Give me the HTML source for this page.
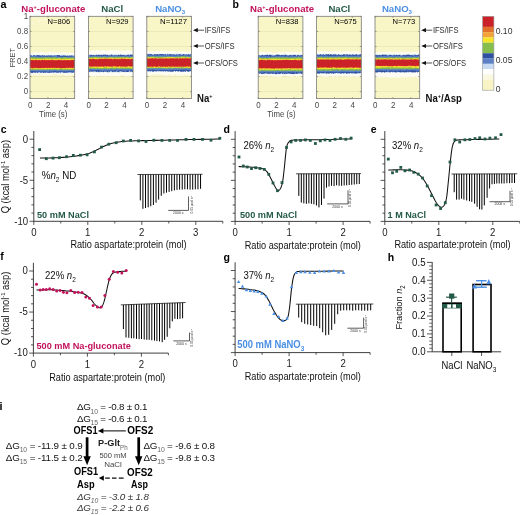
<!DOCTYPE html>
<html><head><meta charset="utf-8"><style>
html,body{margin:0;padding:0;background:#fff;width:520px;height:515px;overflow:hidden}
svg{display:block;font-family:"Liberation Sans", sans-serif;will-change:transform}
</style></head><body>
<svg width="520" height="515" viewBox="0 0 520 515">
<rect width="520" height="515" fill="#fff"/>
<text x="0.50" y="7.60" font-size="10.8" fill="#000" font-weight="bold">a</text>
<text x="232.60" y="8.20" font-size="10.5" fill="#000" font-weight="bold">b</text>
<text x="0.80" y="133.00" font-size="10.5" fill="#000" font-weight="bold">c</text>
<text x="223.40" y="133.30" font-size="10.5" fill="#000" font-weight="bold">d</text>
<text x="370.80" y="133.30" font-size="10.5" fill="#000" font-weight="bold">e</text>
<text x="0.30" y="260.20" font-size="10.5" fill="#000" font-weight="bold">f</text>
<text x="223.40" y="260.80" font-size="10.5" fill="#000" font-weight="bold">g</text>
<text x="387.80" y="260.80" font-size="10.5" fill="#000" font-weight="bold">h</text>
<text x="-0.60" y="409.80" font-size="10.8" fill="#000" font-weight="bold">i</text>
<rect x="30.00" y="16.30" width="44.70" height="82.30" fill="#F8F6C7" stroke="none" stroke-width="0"/>
<line x1="30.00" y1="91.60" x2="74.70" y2="91.60" stroke="#E6DFAE" stroke-width="0.6"/>
<line x1="30.00" y1="76.56" x2="74.70" y2="76.56" stroke="#E6DFAE" stroke-width="0.6"/>
<line x1="30.00" y1="61.52" x2="74.70" y2="61.52" stroke="#E6DFAE" stroke-width="0.6"/>
<line x1="30.00" y1="46.48" x2="74.70" y2="46.48" stroke="#E6DFAE" stroke-width="0.6"/>
<line x1="30.00" y1="31.44" x2="74.70" y2="31.44" stroke="#E6DFAE" stroke-width="0.6"/>
<clipPath id="cp100"><rect x="30.00" y="16.3" width="44.7" height="82.3"/></clipPath>
<g clip-path="url(#cp100)">
<path d="M30.0,51.7 L30.7,52.3 L31.3,52.9 L32.0,52.8 L32.7,52.9 L33.3,52.3 L34.0,53.0 L34.7,52.5 L35.3,51.6 L36.0,52.3 L36.7,51.5 L37.3,53.3 L38.0,53.3 L38.7,52.1 L39.3,52.0 L40.0,52.9 L40.7,51.8 L41.3,51.8 L42.0,51.8 L42.7,52.1 L43.3,52.7 L44.0,53.3 L44.7,51.8 L45.3,53.3 L46.0,52.5 L46.7,53.2 L47.3,53.0 L48.0,51.7 L48.7,52.7 L49.3,51.6 L50.0,51.4 L50.7,52.2 L51.3,52.9 L52.0,52.5 L52.7,51.8 L53.4,53.1 L54.0,53.2 L54.7,51.9 L55.4,52.3 L56.0,52.7 L56.7,53.2 L57.4,51.7 L58.0,52.5 L58.7,53.3 L59.4,52.6 L60.0,52.8 L60.7,52.9 L61.4,52.4 L62.0,52.0 L62.7,52.6 L63.4,52.5 L64.0,52.1 L64.7,53.1 L65.4,52.1 L66.0,52.4 L66.7,52.9 L67.4,53.0 L68.0,53.2 L68.7,52.7 L69.4,51.9 L70.0,53.1 L70.7,53.2 L71.4,52.8 L72.0,52.9 L72.7,52.4 L73.4,52.4 L74.0,52.6 L74.7,51.7 L74.7,75.1 L74.0,76.0 L73.4,75.9 L72.7,74.6 L72.0,74.5 L71.4,74.5 L70.7,74.8 L70.0,76.0 L69.4,74.4 L68.7,75.4 L68.0,74.5 L67.4,74.8 L66.7,76.0 L66.0,75.2 L65.4,75.9 L64.7,74.8 L64.0,74.4 L63.4,74.3 L62.7,74.5 L62.0,75.2 L61.4,74.4 L60.7,74.9 L60.0,74.7 L59.4,74.9 L58.7,75.1 L58.0,74.8 L57.4,75.9 L56.7,74.1 L56.0,74.2 L55.4,75.3 L54.7,74.3 L54.0,74.2 L53.4,74.5 L52.7,74.4 L52.0,74.1 L51.3,75.7 L50.7,75.6 L50.0,74.3 L49.3,75.4 L48.7,75.1 L48.0,75.0 L47.3,75.3 L46.7,75.2 L46.0,75.4 L45.3,74.8 L44.7,75.9 L44.0,74.8 L43.3,74.4 L42.7,75.4 L42.0,75.1 L41.3,74.4 L40.7,74.2 L40.0,74.0 L39.3,74.7 L38.7,75.1 L38.0,75.5 L37.3,75.3 L36.7,75.2 L36.0,74.6 L35.3,74.4 L34.7,75.2 L34.0,74.1 L33.3,74.2 L32.7,75.4 L32.0,75.5 L31.3,74.3 L30.7,75.7 L30.0,75.4 Z" fill="#FFFFFF" stroke="none" stroke-width="0" fill-opacity="0.8"/>
<path d="M30.0,54.8 L30.7,54.6 L31.3,54.6 L32.0,54.8 L32.7,55.2 L33.3,55.2 L34.0,55.4 L34.7,55.4 L35.3,54.9 L36.0,55.2 L36.7,55.0 L37.3,55.3 L38.0,54.7 L38.7,55.5 L39.3,54.6 L40.0,55.2 L40.7,54.9 L41.3,55.4 L42.0,54.7 L42.7,55.4 L43.3,54.6 L44.0,55.3 L44.7,55.3 L45.3,55.1 L46.0,54.7 L46.7,54.9 L47.3,55.0 L48.0,54.8 L48.7,54.7 L49.3,55.4 L50.0,55.1 L50.7,54.8 L51.3,55.2 L52.0,55.2 L52.7,54.7 L53.4,55.1 L54.0,55.1 L54.7,54.7 L55.4,54.9 L56.0,55.4 L56.7,55.1 L57.4,54.8 L58.0,54.9 L58.7,55.0 L59.4,55.3 L60.0,55.4 L60.7,54.6 L61.4,54.6 L62.0,55.0 L62.7,54.6 L63.4,54.7 L64.0,54.7 L64.7,54.6 L65.4,55.2 L66.0,54.6 L66.7,55.1 L67.4,55.5 L68.0,54.7 L68.7,55.3 L69.4,55.1 L70.0,54.7 L70.7,55.5 L71.4,55.3 L72.0,54.9 L72.7,55.4 L73.4,54.7 L74.0,55.4 L74.7,55.4 L74.7,72.6 L74.0,72.6 L73.4,72.8 L72.7,72.9 L72.0,72.9 L71.4,72.5 L70.7,73.4 L70.0,73.0 L69.4,72.5 L68.7,73.3 L68.0,73.2 L67.4,72.6 L66.7,73.4 L66.0,72.5 L65.4,73.2 L64.7,72.9 L64.0,73.1 L63.4,72.7 L62.7,72.7 L62.0,72.8 L61.4,72.5 L60.7,73.2 L60.0,73.4 L59.4,73.1 L58.7,73.2 L58.0,72.8 L57.4,72.5 L56.7,72.6 L56.0,73.4 L55.4,73.1 L54.7,73.3 L54.0,72.8 L53.4,72.8 L52.7,72.6 L52.0,73.3 L51.3,72.7 L50.7,72.5 L50.0,73.4 L49.3,72.7 L48.7,73.0 L48.0,72.5 L47.3,73.1 L46.7,73.2 L46.0,73.4 L45.3,73.0 L44.7,72.5 L44.0,73.0 L43.3,73.3 L42.7,73.4 L42.0,72.5 L41.3,72.7 L40.7,73.0 L40.0,72.9 L39.3,72.5 L38.7,73.1 L38.0,72.6 L37.3,73.0 L36.7,73.0 L36.0,72.5 L35.3,72.5 L34.7,72.8 L34.0,73.2 L33.3,73.2 L32.7,72.7 L32.0,73.4 L31.3,73.2 L30.7,73.4 L30.0,72.6 Z" fill="#C9DBF2" stroke="none" stroke-width="0"/>
<path d="M30.0,55.2 L30.7,55.2 L31.3,55.3 L32.0,56.0 L32.7,56.0 L33.3,55.2 L34.0,54.9 L34.7,55.2 L35.3,55.9 L36.0,55.1 L36.7,55.7 L37.3,55.0 L38.0,55.3 L38.7,55.1 L39.3,55.6 L40.0,55.3 L40.7,55.8 L41.3,55.5 L42.0,55.4 L42.7,54.9 L43.3,55.9 L44.0,54.9 L44.7,55.5 L45.3,56.1 L46.0,55.8 L46.7,55.3 L47.3,56.0 L48.0,55.2 L48.7,55.6 L49.3,55.6 L50.0,55.8 L50.7,55.2 L51.3,55.4 L52.0,55.3 L52.7,56.0 L53.4,55.8 L54.0,55.3 L54.7,55.8 L55.4,55.6 L56.0,55.2 L56.7,55.5 L57.4,55.0 L58.0,55.2 L58.7,55.0 L59.4,55.0 L60.0,55.6 L60.7,55.9 L61.4,55.9 L62.0,55.2 L62.7,56.0 L63.4,55.3 L64.0,55.7 L64.7,55.6 L65.4,55.5 L66.0,55.7 L66.7,56.0 L67.4,55.7 L68.0,55.5 L68.7,55.9 L69.4,55.8 L70.0,55.3 L70.7,56.1 L71.4,55.4 L72.0,54.9 L72.7,56.1 L73.4,56.0 L74.0,55.5 L74.7,55.8 L74.7,72.6 L74.0,72.0 L73.4,72.7 L72.7,72.8 L72.0,72.4 L71.4,72.4 L70.7,72.5 L70.0,72.3 L69.4,72.1 L68.7,72.5 L68.0,72.2 L67.4,72.8 L66.7,72.9 L66.0,72.1 L65.4,73.0 L64.7,72.8 L64.0,73.0 L63.4,72.7 L62.7,72.0 L62.0,72.4 L61.4,71.9 L60.7,72.4 L60.0,72.7 L59.4,72.1 L58.7,72.5 L58.0,72.9 L57.4,72.5 L56.7,72.7 L56.0,72.4 L55.4,72.1 L54.7,72.2 L54.0,72.8 L53.4,72.4 L52.7,72.4 L52.0,71.9 L51.3,73.1 L50.7,72.4 L50.0,72.7 L49.3,72.8 L48.7,72.8 L48.0,72.9 L47.3,72.6 L46.7,72.1 L46.0,73.1 L45.3,72.4 L44.7,72.5 L44.0,73.1 L43.3,72.8 L42.7,72.3 L42.0,72.5 L41.3,72.7 L40.7,72.7 L40.0,72.5 L39.3,72.0 L38.7,72.1 L38.0,73.0 L37.3,72.7 L36.7,72.0 L36.0,72.9 L35.3,72.6 L34.7,72.8 L34.0,72.2 L33.3,72.5 L32.7,73.1 L32.0,72.7 L31.3,72.9 L30.7,72.0 L30.0,72.7 Z" fill="#2F4FA0" stroke="none" stroke-width="0"/>
<path d="M30.0,56.7 L30.7,55.9 L31.3,56.6 L32.0,55.9 L32.7,56.3 L33.3,56.3 L34.0,55.9 L34.7,56.0 L35.3,56.6 L36.0,56.2 L36.7,56.4 L37.3,56.1 L38.0,56.5 L38.7,56.8 L39.3,56.7 L40.0,56.3 L40.7,56.9 L41.3,56.3 L42.0,56.2 L42.7,56.3 L43.3,56.9 L44.0,56.3 L44.7,56.2 L45.3,56.4 L46.0,56.5 L46.7,56.7 L47.3,56.6 L48.0,56.6 L48.7,56.3 L49.3,56.3 L50.0,56.9 L50.7,56.4 L51.3,56.7 L52.0,56.3 L52.7,55.9 L53.4,56.3 L54.0,56.4 L54.7,56.3 L55.4,56.1 L56.0,56.1 L56.7,55.9 L57.4,56.6 L58.0,56.4 L58.7,56.7 L59.4,56.8 L60.0,56.7 L60.7,56.7 L61.4,56.8 L62.0,56.8 L62.7,56.7 L63.4,56.8 L64.0,56.2 L64.7,56.9 L65.4,56.8 L66.0,56.7 L66.7,56.7 L67.4,56.6 L68.0,56.5 L68.7,56.4 L69.4,56.8 L70.0,56.2 L70.7,56.5 L71.4,56.8 L72.0,56.2 L72.7,56.1 L73.4,56.2 L74.0,56.3 L74.7,56.4 L74.7,71.7 L74.0,71.8 L73.4,71.0 L72.7,71.7 L72.0,71.0 L71.4,71.4 L70.7,71.4 L70.0,70.9 L69.4,70.9 L68.7,71.6 L68.0,71.4 L67.4,71.6 L66.7,70.9 L66.0,71.8 L65.4,71.7 L64.7,70.9 L64.0,71.4 L63.4,71.4 L62.7,71.5 L62.0,71.3 L61.4,71.5 L60.7,71.2 L60.0,71.3 L59.4,71.2 L58.7,71.5 L58.0,71.3 L57.4,71.4 L56.7,71.6 L56.0,70.9 L55.4,71.1 L54.7,71.3 L54.0,71.0 L53.4,71.0 L52.7,71.7 L52.0,71.5 L51.3,71.3 L50.7,71.9 L50.0,71.2 L49.3,71.2 L48.7,71.9 L48.0,71.6 L47.3,71.9 L46.7,71.6 L46.0,71.6 L45.3,71.3 L44.7,71.2 L44.0,71.4 L43.3,71.4 L42.7,71.5 L42.0,71.7 L41.3,71.2 L40.7,71.5 L40.0,71.5 L39.3,71.4 L38.7,71.2 L38.0,71.8 L37.3,71.2 L36.7,71.9 L36.0,71.1 L35.3,71.5 L34.7,71.5 L34.0,71.0 L33.3,71.2 L32.7,71.0 L32.0,71.3 L31.3,71.0 L30.7,71.1 L30.0,71.1 Z" fill="#5B80C6" stroke="none" stroke-width="0"/>
<path d="M30.0,57.7 L30.7,57.9 L31.3,57.3 L32.0,57.6 L32.7,57.0 L33.3,57.8 L34.0,57.2 L34.7,57.1 L35.3,57.8 L36.0,57.1 L36.7,57.6 L37.3,58.0 L38.0,57.5 L38.7,57.5 L39.3,57.8 L40.0,57.7 L40.7,57.5 L41.3,57.1 L42.0,58.0 L42.7,57.7 L43.3,57.5 L44.0,57.7 L44.7,57.3 L45.3,57.2 L46.0,57.0 L46.7,57.4 L47.3,57.6 L48.0,57.1 L48.7,57.2 L49.3,57.4 L50.0,57.0 L50.7,57.8 L51.3,57.2 L52.0,57.9 L52.7,57.6 L53.4,57.3 L54.0,57.1 L54.7,57.6 L55.4,57.1 L56.0,57.3 L56.7,58.0 L57.4,57.8 L58.0,57.7 L58.7,57.6 L59.4,57.6 L60.0,57.7 L60.7,57.9 L61.4,57.1 L62.0,57.9 L62.7,58.0 L63.4,57.6 L64.0,57.3 L64.7,57.1 L65.4,57.3 L66.0,57.0 L66.7,57.7 L67.4,57.6 L68.0,57.7 L68.7,57.9 L69.4,57.3 L70.0,57.7 L70.7,57.7 L71.4,57.6 L72.0,57.1 L72.7,57.9 L73.4,57.6 L74.0,57.5 L74.7,57.9 L74.7,69.6 L74.0,69.7 L73.4,70.1 L72.7,69.9 L72.0,70.2 L71.4,69.8 L70.7,70.1 L70.0,70.4 L69.4,70.0 L68.7,70.2 L68.0,69.5 L67.4,69.6 L66.7,70.4 L66.0,69.9 L65.4,69.8 L64.7,70.4 L64.0,70.0 L63.4,70.0 L62.7,70.4 L62.0,70.1 L61.4,69.7 L60.7,69.8 L60.0,70.0 L59.4,70.2 L58.7,69.7 L58.0,70.5 L57.4,70.0 L56.7,70.5 L56.0,69.7 L55.4,69.9 L54.7,69.6 L54.0,70.2 L53.4,70.2 L52.7,70.1 L52.0,69.9 L51.3,69.9 L50.7,69.9 L50.0,69.7 L49.3,70.3 L48.7,69.5 L48.0,70.5 L47.3,69.6 L46.7,69.9 L46.0,70.2 L45.3,70.2 L44.7,69.9 L44.0,70.3 L43.3,69.7 L42.7,70.0 L42.0,69.8 L41.3,70.4 L40.7,69.9 L40.0,70.1 L39.3,69.7 L38.7,69.5 L38.0,70.3 L37.3,69.7 L36.7,70.0 L36.0,70.2 L35.3,70.1 L34.7,70.3 L34.0,70.3 L33.3,70.1 L32.7,70.0 L32.0,70.2 L31.3,70.2 L30.7,69.5 L30.0,69.6 Z" fill="#86BD4C" stroke="none" stroke-width="0"/>
<path d="M30.0,59.2 L30.7,59.1 L31.3,58.5 L32.0,58.4 L32.7,59.1 L33.3,59.0 L34.0,58.7 L34.7,59.1 L35.3,59.1 L36.0,59.1 L36.7,59.2 L37.3,59.1 L38.0,58.3 L38.7,58.9 L39.3,58.4 L40.0,59.2 L40.7,59.1 L41.3,58.9 L42.0,58.7 L42.7,59.0 L43.3,58.6 L44.0,59.0 L44.7,59.3 L45.3,58.3 L46.0,58.7 L46.7,59.1 L47.3,58.5 L48.0,58.7 L48.7,59.1 L49.3,58.9 L50.0,58.6 L50.7,58.7 L51.3,58.7 L52.0,58.8 L52.7,59.3 L53.4,58.5 L54.0,58.6 L54.7,59.2 L55.4,58.8 L56.0,58.9 L56.7,59.2 L57.4,58.4 L58.0,58.5 L58.7,58.4 L59.4,58.5 L60.0,58.4 L60.7,58.5 L61.4,59.2 L62.0,59.2 L62.7,59.0 L63.4,58.8 L64.0,59.0 L64.7,59.3 L65.4,58.6 L66.0,59.0 L66.7,58.4 L67.4,58.7 L68.0,58.8 L68.7,58.9 L69.4,58.5 L70.0,58.7 L70.7,58.5 L71.4,58.7 L72.0,59.1 L72.7,58.5 L73.4,58.6 L74.0,58.9 L74.7,58.5 L74.7,69.0 L74.0,68.7 L73.4,68.5 L72.7,69.2 L72.0,68.9 L71.4,69.0 L70.7,69.1 L70.0,69.2 L69.4,69.1 L68.7,69.4 L68.0,68.5 L67.4,69.0 L66.7,69.3 L66.0,69.4 L65.4,68.5 L64.7,68.7 L64.0,68.7 L63.4,69.3 L62.7,68.9 L62.0,68.6 L61.4,68.6 L60.7,69.0 L60.0,68.6 L59.4,68.7 L58.7,69.0 L58.0,69.4 L57.4,69.0 L56.7,69.0 L56.0,68.6 L55.4,68.8 L54.7,68.7 L54.0,68.7 L53.4,69.3 L52.7,69.0 L52.0,68.9 L51.3,69.2 L50.7,69.1 L50.0,68.9 L49.3,68.6 L48.7,69.2 L48.0,69.3 L47.3,69.1 L46.7,69.2 L46.0,69.0 L45.3,69.2 L44.7,69.1 L44.0,69.2 L43.3,69.0 L42.7,69.0 L42.0,69.0 L41.3,69.4 L40.7,68.5 L40.0,68.6 L39.3,69.4 L38.7,68.9 L38.0,69.2 L37.3,69.3 L36.7,69.3 L36.0,68.5 L35.3,68.6 L34.7,68.9 L34.0,68.9 L33.3,68.9 L32.7,68.9 L32.0,68.8 L31.3,68.8 L30.7,68.8 L30.0,69.3 Z" fill="#F6E52B" stroke="none" stroke-width="0"/>
<path d="M30.0,59.7 L30.7,59.8 L31.3,59.8 L32.0,59.4 L32.7,59.5 L33.3,59.4 L34.0,59.9 L34.7,59.9 L35.3,59.4 L36.0,59.5 L36.7,59.6 L37.3,60.0 L38.0,59.9 L38.7,59.5 L39.3,59.7 L40.0,59.8 L40.7,60.0 L41.3,59.5 L42.0,59.5 L42.7,60.0 L43.3,59.9 L44.0,59.6 L44.7,59.5 L45.3,59.7 L46.0,59.4 L46.7,59.8 L47.3,60.0 L48.0,59.5 L48.7,60.1 L49.3,60.0 L50.0,59.4 L50.7,60.0 L51.3,60.0 L52.0,59.8 L52.7,59.5 L53.4,59.7 L54.0,60.1 L54.7,59.8 L55.4,60.1 L56.0,60.0 L56.7,59.8 L57.4,60.0 L58.0,59.7 L58.7,59.5 L59.4,59.8 L60.0,59.5 L60.7,59.6 L61.4,59.4 L62.0,59.8 L62.7,60.0 L63.4,60.1 L64.0,60.0 L64.7,59.9 L65.4,60.0 L66.0,59.5 L66.7,59.8 L67.4,60.1 L68.0,59.9 L68.7,59.7 L69.4,59.9 L70.0,60.1 L70.7,59.7 L71.4,59.5 L72.0,59.6 L72.7,59.9 L73.4,59.5 L74.0,59.5 L74.7,60.1 L74.7,67.9 L74.0,68.5 L73.4,68.1 L72.7,68.6 L72.0,68.3 L71.4,68.4 L70.7,68.1 L70.0,68.6 L69.4,68.3 L68.7,68.1 L68.0,68.3 L67.4,68.5 L66.7,68.3 L66.0,67.9 L65.4,68.4 L64.7,68.1 L64.0,68.6 L63.4,68.0 L62.7,68.4 L62.0,68.2 L61.4,67.9 L60.7,68.1 L60.0,68.6 L59.4,68.3 L58.7,68.3 L58.0,67.9 L57.4,68.1 L56.7,68.0 L56.0,68.2 L55.4,68.0 L54.7,68.3 L54.0,68.0 L53.4,68.2 L52.7,68.2 L52.0,67.9 L51.3,68.2 L50.7,68.3 L50.0,68.4 L49.3,68.1 L48.7,68.1 L48.0,67.9 L47.3,68.3 L46.7,68.4 L46.0,68.1 L45.3,68.0 L44.7,68.5 L44.0,67.9 L43.3,68.6 L42.7,68.1 L42.0,68.1 L41.3,67.9 L40.7,68.2 L40.0,68.4 L39.3,68.2 L38.7,68.4 L38.0,68.0 L37.3,68.5 L36.7,67.9 L36.0,68.4 L35.3,68.1 L34.7,68.4 L34.0,68.0 L33.3,68.6 L32.7,68.6 L32.0,68.4 L31.3,68.5 L30.7,67.9 L30.0,67.9 Z" fill="#F2A43A" stroke="none" stroke-width="0"/>
<path d="M30.0,60.5 L30.7,59.7 L31.3,60.0 L32.0,59.9 L32.7,59.9 L33.3,60.4 L34.0,59.9 L34.7,60.2 L35.3,60.2 L36.0,59.7 L36.7,60.3 L37.3,60.5 L38.0,60.1 L38.7,59.9 L39.3,59.9 L40.0,60.2 L40.7,60.5 L41.3,60.3 L42.0,59.9 L42.7,59.8 L43.3,60.3 L44.0,60.1 L44.7,60.0 L45.3,60.4 L46.0,59.9 L46.7,60.3 L47.3,60.3 L48.0,60.3 L48.7,59.9 L49.3,60.1 L50.0,60.4 L50.7,59.9 L51.3,59.8 L52.0,59.7 L52.7,60.2 L53.4,60.1 L54.0,60.3 L54.7,60.4 L55.4,60.2 L56.0,60.0 L56.7,60.4 L57.4,60.3 L58.0,59.7 L58.7,59.9 L59.4,60.2 L60.0,59.9 L60.7,60.5 L61.4,59.7 L62.0,60.4 L62.7,60.4 L63.4,60.0 L64.0,60.0 L64.7,60.2 L65.4,59.9 L66.0,60.5 L66.7,60.2 L67.4,60.1 L68.0,59.9 L68.7,60.2 L69.4,60.2 L70.0,60.3 L70.7,60.3 L71.4,60.3 L72.0,59.8 L72.7,60.1 L73.4,60.0 L74.0,60.3 L74.7,59.9 L74.7,68.1 L74.0,67.5 L73.4,67.7 L72.7,68.2 L72.0,67.6 L71.4,67.8 L70.7,67.7 L70.0,68.0 L69.4,67.5 L68.7,68.0 L68.0,67.7 L67.4,67.8 L66.7,67.8 L66.0,67.7 L65.4,68.2 L64.7,68.0 L64.0,68.0 L63.4,68.1 L62.7,68.3 L62.0,67.9 L61.4,67.9 L60.7,68.3 L60.0,68.3 L59.4,68.1 L58.7,67.6 L58.0,68.0 L57.4,68.0 L56.7,67.9 L56.0,68.3 L55.4,67.6 L54.7,67.9 L54.0,67.8 L53.4,67.8 L52.7,68.1 L52.0,68.1 L51.3,67.5 L50.7,68.1 L50.0,67.8 L49.3,68.2 L48.7,67.6 L48.0,68.1 L47.3,68.2 L46.7,67.5 L46.0,68.1 L45.3,67.8 L44.7,67.9 L44.0,68.0 L43.3,67.7 L42.7,68.3 L42.0,68.0 L41.3,68.1 L40.7,68.1 L40.0,68.1 L39.3,68.0 L38.7,68.3 L38.0,68.2 L37.3,67.8 L36.7,67.9 L36.0,68.0 L35.3,67.5 L34.7,67.9 L34.0,67.8 L33.3,68.3 L32.7,68.2 L32.0,68.3 L31.3,67.8 L30.7,67.7 L30.0,67.8 Z" fill="#CB2229" stroke="none" stroke-width="0"/>
</g>
<line x1="30.00" y1="91.60" x2="31.50" y2="91.60" stroke="#666" stroke-width="0.6"/>
<line x1="73.20" y1="91.60" x2="74.70" y2="91.60" stroke="#666" stroke-width="0.6"/>
<line x1="30.00" y1="76.56" x2="31.50" y2="76.56" stroke="#666" stroke-width="0.6"/>
<line x1="73.20" y1="76.56" x2="74.70" y2="76.56" stroke="#666" stroke-width="0.6"/>
<line x1="30.00" y1="61.52" x2="31.50" y2="61.52" stroke="#666" stroke-width="0.6"/>
<line x1="73.20" y1="61.52" x2="74.70" y2="61.52" stroke="#666" stroke-width="0.6"/>
<line x1="30.00" y1="46.48" x2="31.50" y2="46.48" stroke="#666" stroke-width="0.6"/>
<line x1="73.20" y1="46.48" x2="74.70" y2="46.48" stroke="#666" stroke-width="0.6"/>
<line x1="30.00" y1="31.44" x2="31.50" y2="31.44" stroke="#666" stroke-width="0.6"/>
<line x1="73.20" y1="31.44" x2="74.70" y2="31.44" stroke="#666" stroke-width="0.6"/>
<line x1="30.00" y1="16.40" x2="31.50" y2="16.40" stroke="#666" stroke-width="0.6"/>
<line x1="73.20" y1="16.40" x2="74.70" y2="16.40" stroke="#666" stroke-width="0.6"/>
<line x1="30.00" y1="98.60" x2="30.00" y2="97.10" stroke="#666" stroke-width="0.6"/>
<line x1="30.00" y1="16.30" x2="30.00" y2="17.80" stroke="#666" stroke-width="0.6"/>
<line x1="47.90" y1="98.60" x2="47.90" y2="97.10" stroke="#666" stroke-width="0.6"/>
<line x1="47.90" y1="16.30" x2="47.90" y2="17.80" stroke="#666" stroke-width="0.6"/>
<line x1="65.80" y1="98.60" x2="65.80" y2="97.10" stroke="#666" stroke-width="0.6"/>
<line x1="65.80" y1="16.30" x2="65.80" y2="17.80" stroke="#666" stroke-width="0.6"/>
<rect x="30.00" y="16.30" width="44.70" height="82.30" fill="none" stroke="#7A7A7A" stroke-width="0.8"/>
<path d="M31.5,22.3 L35.0,24.8 M37.0,22.3 L41.0,19.8 M43.0,21.8 L46.0,18.3" fill="none" stroke="#FFFFFF" stroke-width="0.9" stroke-opacity="0.7"/>
<text x="53.35" y="11.70" font-size="9.6" fill="#C2125C" font-weight="bold" text-anchor="middle">Na<tspan font-size="5.5" dy="-3.2">+</tspan><tspan dy="3.2">-gluconate</tspan></text>
<text x="70.20" y="24.20" font-size="8.0" fill="#000" text-anchor="end" textLength="22.60" lengthAdjust="spacingAndGlyphs">N=806</text>
<text x="30.30" y="108.20" font-size="8.0" fill="#484848" text-anchor="middle" transform="translate(0 -8.656) scale(1 1.08)">0</text>
<text x="48.20" y="108.20" font-size="8.0" fill="#484848" text-anchor="middle" transform="translate(0 -8.656) scale(1 1.08)">2</text>
<text x="66.10" y="108.20" font-size="8.0" fill="#484848" text-anchor="middle" transform="translate(0 -8.656) scale(1 1.08)">4</text>
<rect x="88.40" y="16.30" width="44.70" height="82.30" fill="#F8F6C7" stroke="none" stroke-width="0"/>
<line x1="88.40" y1="91.60" x2="133.10" y2="91.60" stroke="#E6DFAE" stroke-width="0.6"/>
<line x1="88.40" y1="76.56" x2="133.10" y2="76.56" stroke="#E6DFAE" stroke-width="0.6"/>
<line x1="88.40" y1="61.52" x2="133.10" y2="61.52" stroke="#E6DFAE" stroke-width="0.6"/>
<line x1="88.40" y1="46.48" x2="133.10" y2="46.48" stroke="#E6DFAE" stroke-width="0.6"/>
<line x1="88.40" y1="31.44" x2="133.10" y2="31.44" stroke="#E6DFAE" stroke-width="0.6"/>
<clipPath id="cp101"><rect x="88.40" y="16.3" width="44.7" height="82.3"/></clipPath>
<g clip-path="url(#cp101)">
<path d="M88.4,50.7 L89.1,49.9 L89.7,51.4 L90.4,51.3 L91.1,50.4 L91.7,50.8 L92.4,49.9 L93.1,49.9 L93.7,50.1 L94.4,50.9 L95.1,49.9 L95.7,51.4 L96.4,49.6 L97.1,49.9 L97.7,49.7 L98.4,51.0 L99.1,50.2 L99.7,50.4 L100.4,50.2 L101.1,50.8 L101.7,50.3 L102.4,49.9 L103.1,50.4 L103.7,50.1 L104.4,49.7 L105.1,51.1 L105.7,50.9 L106.4,50.8 L107.1,51.3 L107.7,50.3 L108.4,50.3 L109.1,50.3 L109.7,50.3 L110.4,50.8 L111.1,49.5 L111.8,50.4 L112.4,50.6 L113.1,50.2 L113.8,49.5 L114.4,50.9 L115.1,49.5 L115.8,50.6 L116.4,49.8 L117.1,49.6 L117.8,49.9 L118.4,49.6 L119.1,49.8 L119.8,50.9 L120.4,51.0 L121.1,50.2 L121.8,50.8 L122.4,50.5 L123.1,50.5 L123.8,51.3 L124.4,50.1 L125.1,51.2 L125.8,50.9 L126.4,50.9 L127.1,49.5 L127.8,49.7 L128.4,49.6 L129.1,50.2 L129.8,51.4 L130.4,51.3 L131.1,51.2 L131.8,49.7 L132.4,50.9 L133.1,51.0 L133.1,75.5 L132.4,76.5 L131.8,76.4 L131.1,75.6 L130.4,76.1 L129.8,75.3 L129.1,76.1 L128.4,76.3 L127.8,75.7 L127.1,76.4 L126.4,76.4 L125.8,76.3 L125.1,75.9 L124.4,75.7 L123.8,75.7 L123.1,75.2 L122.4,75.3 L121.8,75.1 L121.1,75.4 L120.4,75.1 L119.8,75.8 L119.1,76.8 L118.4,76.4 L117.8,75.6 L117.1,76.9 L116.4,75.7 L115.8,76.1 L115.1,76.1 L114.4,76.3 L113.8,75.5 L113.1,75.5 L112.4,76.6 L111.8,76.1 L111.1,75.9 L110.4,76.7 L109.7,76.3 L109.1,75.0 L108.4,76.8 L107.7,76.3 L107.1,75.2 L106.4,75.6 L105.7,76.8 L105.1,77.0 L104.4,75.2 L103.7,75.4 L103.1,75.5 L102.4,76.9 L101.7,75.2 L101.1,76.6 L100.4,75.6 L99.7,75.1 L99.1,75.7 L98.4,76.4 L97.7,76.1 L97.1,75.1 L96.4,75.7 L95.7,76.8 L95.1,76.9 L94.4,75.3 L93.7,76.8 L93.1,75.9 L92.4,76.8 L91.7,76.5 L91.1,76.6 L90.4,75.4 L89.7,75.3 L89.1,76.6 L88.4,76.6 Z" fill="#FFFFFF" stroke="none" stroke-width="0" fill-opacity="0.8"/>
<path d="M88.4,54.5 L89.1,54.5 L89.7,54.3 L90.4,54.1 L91.1,54.1 L91.7,55.0 L92.4,54.8 L93.1,54.5 L93.7,54.7 L94.4,54.3 L95.1,54.8 L95.7,55.0 L96.4,54.8 L97.1,54.5 L97.7,55.0 L98.4,55.0 L99.1,54.1 L99.7,54.5 L100.4,54.5 L101.1,54.3 L101.7,54.7 L102.4,54.2 L103.1,54.8 L103.7,54.9 L104.4,54.1 L105.1,54.7 L105.7,54.3 L106.4,54.7 L107.1,54.7 L107.7,55.0 L108.4,54.8 L109.1,54.4 L109.7,54.8 L110.4,54.2 L111.1,54.8 L111.8,54.5 L112.4,54.3 L113.1,54.3 L113.8,54.3 L114.4,54.8 L115.1,54.1 L115.8,54.3 L116.4,54.2 L117.1,54.2 L117.8,54.8 L118.4,54.6 L119.1,54.7 L119.8,55.0 L120.4,54.5 L121.1,54.1 L121.8,54.2 L122.4,54.6 L123.1,54.8 L123.8,55.0 L124.4,54.6 L125.1,54.3 L125.8,54.6 L126.4,55.0 L127.1,54.4 L127.8,55.0 L128.4,55.0 L129.1,54.6 L129.8,54.5 L130.4,54.2 L131.1,54.2 L131.8,54.1 L132.4,54.7 L133.1,54.8 L133.1,72.4 L132.4,72.4 L131.8,72.3 L131.1,71.8 L130.4,72.6 L129.8,72.5 L129.1,72.6 L128.4,71.8 L127.8,71.7 L127.1,71.7 L126.4,71.7 L125.8,72.6 L125.1,71.7 L124.4,72.5 L123.8,72.0 L123.1,72.3 L122.4,71.7 L121.8,72.3 L121.1,71.7 L120.4,72.5 L119.8,72.6 L119.1,72.3 L118.4,72.6 L117.8,72.4 L117.1,72.0 L116.4,72.3 L115.8,72.3 L115.1,72.3 L114.4,72.2 L113.8,71.8 L113.1,72.5 L112.4,71.7 L111.8,72.2 L111.1,71.9 L110.4,72.4 L109.7,71.8 L109.1,72.4 L108.4,72.4 L107.7,72.5 L107.1,72.6 L106.4,72.1 L105.7,71.8 L105.1,71.8 L104.4,71.9 L103.7,72.1 L103.1,72.5 L102.4,72.0 L101.7,71.7 L101.1,72.0 L100.4,72.6 L99.7,72.4 L99.1,72.6 L98.4,72.5 L97.7,71.8 L97.1,72.2 L96.4,72.0 L95.7,72.4 L95.1,71.9 L94.4,71.9 L93.7,72.6 L93.1,72.2 L92.4,71.9 L91.7,71.7 L91.1,71.8 L90.4,72.1 L89.7,72.6 L89.1,72.3 L88.4,72.6 Z" fill="#C9DBF2" stroke="none" stroke-width="0"/>
<path d="M88.4,54.7 L89.1,55.6 L89.7,55.3 L90.4,55.2 L91.1,54.7 L91.7,54.9 L92.4,55.3 L93.1,55.0 L93.7,55.0 L94.4,55.5 L95.1,54.9 L95.7,55.4 L96.4,54.5 L97.1,55.0 L97.7,55.3 L98.4,54.4 L99.1,55.2 L99.7,54.7 L100.4,55.2 L101.1,55.1 L101.7,54.6 L102.4,55.5 L103.1,54.7 L103.7,54.6 L104.4,54.9 L105.1,54.5 L105.7,54.5 L106.4,55.3 L107.1,54.5 L107.7,55.0 L108.4,55.5 L109.1,54.9 L109.7,55.4 L110.4,55.4 L111.1,54.6 L111.8,54.5 L112.4,55.3 L113.1,55.4 L113.8,55.4 L114.4,55.3 L115.1,55.0 L115.8,55.5 L116.4,55.3 L117.1,55.3 L117.8,55.5 L118.4,54.5 L119.1,55.3 L119.8,55.1 L120.4,54.4 L121.1,54.7 L121.8,55.3 L122.4,55.0 L123.1,55.1 L123.8,54.7 L124.4,55.1 L125.1,55.5 L125.8,55.6 L126.4,55.1 L127.1,55.3 L127.8,54.5 L128.4,54.6 L129.1,55.1 L129.8,55.4 L130.4,54.5 L131.1,54.6 L131.8,55.0 L132.4,54.8 L133.1,54.6 L133.1,72.1 L132.4,72.1 L131.8,71.3 L131.1,72.0 L130.4,71.5 L129.8,71.2 L129.1,71.3 L128.4,72.0 L127.8,72.1 L127.1,72.1 L126.4,72.2 L125.8,71.3 L125.1,71.9 L124.4,71.8 L123.8,71.8 L123.1,72.2 L122.4,71.6 L121.8,71.8 L121.1,71.3 L120.4,71.3 L119.8,71.1 L119.1,72.2 L118.4,72.1 L117.8,71.9 L117.1,71.6 L116.4,71.2 L115.8,71.4 L115.1,72.2 L114.4,71.6 L113.8,71.4 L113.1,72.1 L112.4,72.2 L111.8,71.6 L111.1,71.2 L110.4,71.1 L109.7,72.0 L109.1,72.2 L108.4,71.3 L107.7,72.3 L107.1,72.2 L106.4,71.4 L105.7,71.5 L105.1,71.8 L104.4,71.5 L103.7,71.9 L103.1,72.2 L102.4,71.5 L101.7,71.8 L101.1,72.0 L100.4,71.5 L99.7,72.1 L99.1,71.4 L98.4,72.2 L97.7,72.0 L97.1,71.3 L96.4,72.2 L95.7,71.4 L95.1,71.3 L94.4,71.5 L93.7,71.1 L93.1,71.9 L92.4,71.4 L91.7,71.2 L91.1,72.1 L90.4,71.3 L89.7,72.1 L89.1,71.6 L88.4,71.3 Z" fill="#2F4FA0" stroke="none" stroke-width="0"/>
<path d="M88.4,56.1 L89.1,55.9 L89.7,55.6 L90.4,56.2 L91.1,55.6 L91.7,55.9 L92.4,56.2 L93.1,56.0 L93.7,55.6 L94.4,56.3 L95.1,55.7 L95.7,55.8 L96.4,55.8 L97.1,56.1 L97.7,55.4 L98.4,56.0 L99.1,55.9 L99.7,56.2 L100.4,55.8 L101.1,56.0 L101.7,56.4 L102.4,55.5 L103.1,56.2 L103.7,55.9 L104.4,55.7 L105.1,55.7 L105.7,55.6 L106.4,56.2 L107.1,55.6 L107.7,56.4 L108.4,55.9 L109.1,55.7 L109.7,56.2 L110.4,56.0 L111.1,56.3 L111.8,55.5 L112.4,56.1 L113.1,55.4 L113.8,55.6 L114.4,55.8 L115.1,55.7 L115.8,55.7 L116.4,56.0 L117.1,56.1 L117.8,55.8 L118.4,55.9 L119.1,56.2 L119.8,55.6 L120.4,56.4 L121.1,55.4 L121.8,55.8 L122.4,56.2 L123.1,55.6 L123.8,55.7 L124.4,55.6 L125.1,56.4 L125.8,56.3 L126.4,55.5 L127.1,55.9 L127.8,55.6 L128.4,55.4 L129.1,55.6 L129.8,56.1 L130.4,55.9 L131.1,55.7 L131.8,56.0 L132.4,55.5 L133.1,55.7 L133.1,70.1 L132.4,70.4 L131.8,70.5 L131.1,70.2 L130.4,70.7 L129.8,70.8 L129.1,70.7 L128.4,70.4 L127.8,70.5 L127.1,70.4 L126.4,70.5 L125.8,70.8 L125.1,70.8 L124.4,70.8 L123.8,70.6 L123.1,70.8 L122.4,70.4 L121.8,70.4 L121.1,70.4 L120.4,70.1 L119.8,70.2 L119.1,70.2 L118.4,70.9 L117.8,70.9 L117.1,70.7 L116.4,70.6 L115.8,70.2 L115.1,70.0 L114.4,70.0 L113.8,70.7 L113.1,71.0 L112.4,70.2 L111.8,70.7 L111.1,70.8 L110.4,70.3 L109.7,70.7 L109.1,70.6 L108.4,70.7 L107.7,70.7 L107.1,70.1 L106.4,70.9 L105.7,71.0 L105.1,70.3 L104.4,70.8 L103.7,70.9 L103.1,70.4 L102.4,70.9 L101.7,70.8 L101.1,70.7 L100.4,70.3 L99.7,70.5 L99.1,70.1 L98.4,70.5 L97.7,70.1 L97.1,70.5 L96.4,70.0 L95.7,70.2 L95.1,70.1 L94.4,70.8 L93.7,70.5 L93.1,70.2 L92.4,70.6 L91.7,70.4 L91.1,70.3 L90.4,70.7 L89.7,70.4 L89.1,70.8 L88.4,70.1 Z" fill="#5B80C6" stroke="none" stroke-width="0"/>
<path d="M88.4,56.6 L89.1,57.0 L89.7,57.4 L90.4,57.2 L91.1,56.6 L91.7,57.4 L92.4,57.2 L93.1,57.1 L93.7,56.5 L94.4,56.8 L95.1,56.8 L95.7,57.0 L96.4,56.6 L97.1,57.1 L97.7,57.1 L98.4,57.1 L99.1,57.0 L99.7,57.1 L100.4,56.6 L101.1,57.3 L101.7,57.4 L102.4,57.4 L103.1,57.3 L103.7,56.7 L104.4,56.8 L105.1,56.6 L105.7,57.3 L106.4,57.4 L107.1,57.4 L107.7,57.1 L108.4,57.3 L109.1,57.3 L109.7,56.6 L110.4,56.6 L111.1,57.4 L111.8,57.5 L112.4,57.2 L113.1,57.1 L113.8,56.9 L114.4,57.4 L115.1,56.8 L115.8,56.6 L116.4,57.3 L117.1,56.6 L117.8,57.2 L118.4,57.2 L119.1,56.6 L119.8,56.9 L120.4,56.8 L121.1,57.3 L121.8,57.3 L122.4,56.8 L123.1,56.7 L123.8,56.8 L124.4,56.9 L125.1,57.1 L125.8,57.4 L126.4,56.8 L127.1,56.6 L127.8,57.1 L128.4,56.9 L129.1,57.2 L129.8,57.2 L130.4,57.0 L131.1,57.3 L131.8,56.7 L132.4,57.3 L133.1,56.7 L133.1,69.1 L132.4,69.4 L131.8,69.1 L131.1,68.9 L130.4,69.1 L129.8,68.8 L129.1,69.5 L128.4,68.6 L127.8,69.1 L127.1,69.0 L126.4,69.0 L125.8,68.6 L125.1,69.5 L124.4,69.2 L123.8,68.8 L123.1,68.8 L122.4,68.5 L121.8,68.7 L121.1,69.0 L120.4,68.7 L119.8,69.2 L119.1,69.1 L118.4,68.6 L117.8,68.8 L117.1,68.6 L116.4,68.6 L115.8,69.4 L115.1,69.3 L114.4,69.2 L113.8,69.3 L113.1,69.0 L112.4,69.2 L111.8,68.8 L111.1,68.5 L110.4,68.7 L109.7,69.4 L109.1,68.8 L108.4,69.2 L107.7,68.9 L107.1,69.4 L106.4,69.2 L105.7,69.4 L105.1,68.5 L104.4,69.3 L103.7,68.8 L103.1,69.3 L102.4,69.5 L101.7,69.5 L101.1,69.0 L100.4,69.1 L99.7,69.2 L99.1,69.1 L98.4,68.9 L97.7,68.7 L97.1,68.7 L96.4,69.4 L95.7,69.4 L95.1,69.2 L94.4,68.7 L93.7,68.9 L93.1,68.9 L92.4,68.8 L91.7,68.8 L91.1,69.0 L90.4,68.6 L89.7,69.0 L89.1,69.1 L88.4,69.0 Z" fill="#86BD4C" stroke="none" stroke-width="0"/>
<path d="M88.4,57.8 L89.1,58.5 L89.7,57.7 L90.4,58.5 L91.1,58.2 L91.7,57.7 L92.4,58.5 L93.1,58.4 L93.7,58.0 L94.4,58.3 L95.1,57.6 L95.7,57.8 L96.4,58.0 L97.1,58.4 L97.7,57.9 L98.4,58.5 L99.1,58.1 L99.7,58.2 L100.4,58.3 L101.1,57.6 L101.7,58.4 L102.4,58.1 L103.1,57.6 L103.7,57.7 L104.4,58.3 L105.1,58.1 L105.7,58.4 L106.4,58.4 L107.1,58.0 L107.7,57.9 L108.4,58.3 L109.1,58.5 L109.7,57.8 L110.4,58.0 L111.1,57.6 L111.8,57.5 L112.4,57.6 L113.1,57.9 L113.8,58.1 L114.4,58.4 L115.1,58.3 L115.8,58.5 L116.4,57.8 L117.1,58.4 L117.8,57.8 L118.4,57.9 L119.1,58.0 L119.8,58.5 L120.4,58.0 L121.1,57.6 L121.8,57.9 L122.4,58.1 L123.1,58.2 L123.8,57.7 L124.4,57.8 L125.1,57.7 L125.8,58.0 L126.4,57.9 L127.1,57.8 L127.8,58.0 L128.4,58.3 L129.1,58.1 L129.8,58.2 L130.4,57.9 L131.1,58.4 L131.8,57.6 L132.4,57.6 L133.1,57.6 L133.1,67.4 L132.4,67.2 L131.8,68.2 L131.1,68.2 L130.4,67.5 L129.8,67.8 L129.1,68.0 L128.4,67.6 L127.8,67.2 L127.1,67.6 L126.4,67.8 L125.8,67.3 L125.1,67.4 L124.4,67.7 L123.8,68.2 L123.1,67.8 L122.4,67.5 L121.8,67.7 L121.1,67.5 L120.4,67.5 L119.8,68.1 L119.1,67.8 L118.4,68.0 L117.8,67.5 L117.1,68.1 L116.4,67.6 L115.8,67.7 L115.1,67.4 L114.4,67.8 L113.8,67.7 L113.1,67.4 L112.4,67.3 L111.8,67.4 L111.1,67.6 L110.4,68.0 L109.7,68.0 L109.1,68.2 L108.4,67.7 L107.7,68.2 L107.1,67.4 L106.4,67.3 L105.7,67.8 L105.1,67.4 L104.4,67.2 L103.7,67.8 L103.1,68.1 L102.4,67.9 L101.7,67.7 L101.1,68.0 L100.4,68.2 L99.7,68.0 L99.1,67.7 L98.4,68.0 L97.7,67.8 L97.1,67.2 L96.4,68.1 L95.7,67.6 L95.1,68.1 L94.4,67.8 L93.7,67.5 L93.1,68.2 L92.4,67.8 L91.7,67.3 L91.1,68.0 L90.4,67.2 L89.7,67.4 L89.1,67.5 L88.4,67.7 Z" fill="#F6E52B" stroke="none" stroke-width="0"/>
<path d="M88.4,58.7 L89.1,58.5 L89.7,58.4 L90.4,58.9 L91.1,59.0 L91.7,58.6 L92.4,59.0 L93.1,58.7 L93.7,58.8 L94.4,58.7 L95.1,58.9 L95.7,59.0 L96.4,58.7 L97.1,58.6 L97.7,58.9 L98.4,58.9 L99.1,58.8 L99.7,58.4 L100.4,58.4 L101.1,58.5 L101.7,58.3 L102.4,58.5 L103.1,58.5 L103.7,58.3 L104.4,58.4 L105.1,58.8 L105.7,59.0 L106.4,58.4 L107.1,58.8 L107.7,58.6 L108.4,58.3 L109.1,59.0 L109.7,58.3 L110.4,58.6 L111.1,58.3 L111.8,58.5 L112.4,58.5 L113.1,58.6 L113.8,58.7 L114.4,59.0 L115.1,58.7 L115.8,58.6 L116.4,58.9 L117.1,58.6 L117.8,58.8 L118.4,58.6 L119.1,58.8 L119.8,58.3 L120.4,58.4 L121.1,58.8 L121.8,58.8 L122.4,58.5 L123.1,58.3 L123.8,58.7 L124.4,58.3 L125.1,58.6 L125.8,58.9 L126.4,58.9 L127.1,58.9 L127.8,58.3 L128.4,58.8 L129.1,58.3 L129.8,59.0 L130.4,58.8 L131.1,58.9 L131.8,58.9 L132.4,58.9 L133.1,58.9 L133.1,67.0 L132.4,66.7 L131.8,67.0 L131.1,66.6 L130.4,66.8 L129.8,66.6 L129.1,66.6 L128.4,66.5 L127.8,66.5 L127.1,67.0 L126.4,66.4 L125.8,67.0 L125.1,66.4 L124.4,67.0 L123.8,66.9 L123.1,66.6 L122.4,66.9 L121.8,66.7 L121.1,67.1 L120.4,66.7 L119.8,67.1 L119.1,66.7 L118.4,67.0 L117.8,66.9 L117.1,66.9 L116.4,66.6 L115.8,66.9 L115.1,66.8 L114.4,66.7 L113.8,66.4 L113.1,66.9 L112.4,66.4 L111.8,66.5 L111.1,67.1 L110.4,66.6 L109.7,66.7 L109.1,66.8 L108.4,66.9 L107.7,66.8 L107.1,66.4 L106.4,67.1 L105.7,67.1 L105.1,66.6 L104.4,66.5 L103.7,67.0 L103.1,66.9 L102.4,67.1 L101.7,66.9 L101.1,67.0 L100.4,66.9 L99.7,66.4 L99.1,66.8 L98.4,67.0 L97.7,67.0 L97.1,66.5 L96.4,66.5 L95.7,66.9 L95.1,66.9 L94.4,66.8 L93.7,66.4 L93.1,67.0 L92.4,66.7 L91.7,67.0 L91.1,66.4 L90.4,66.9 L89.7,66.4 L89.1,66.4 L88.4,67.1 Z" fill="#F2A43A" stroke="none" stroke-width="0"/>
<path d="M88.4,58.9 L89.1,59.0 L89.7,59.1 L90.4,58.9 L91.1,59.2 L91.7,59.1 L92.4,59.0 L93.1,59.1 L93.7,58.8 L94.4,58.9 L95.1,59.3 L95.7,59.2 L96.4,59.0 L97.1,59.4 L97.7,59.4 L98.4,59.2 L99.1,58.7 L99.7,58.9 L100.4,58.9 L101.1,59.0 L101.7,58.8 L102.4,59.0 L103.1,59.3 L103.7,58.7 L104.4,58.7 L105.1,59.0 L105.7,58.6 L106.4,58.9 L107.1,58.8 L107.7,59.2 L108.4,58.7 L109.1,59.0 L109.7,59.3 L110.4,59.1 L111.1,58.9 L111.8,58.8 L112.4,59.4 L113.1,59.2 L113.8,59.2 L114.4,58.8 L115.1,58.8 L115.8,59.3 L116.4,59.3 L117.1,59.3 L117.8,58.8 L118.4,59.2 L119.1,59.3 L119.8,59.3 L120.4,59.2 L121.1,58.7 L121.8,58.6 L122.4,58.8 L123.1,59.2 L123.8,58.9 L124.4,58.6 L125.1,59.0 L125.8,58.7 L126.4,58.9 L127.1,59.2 L127.8,59.0 L128.4,59.0 L129.1,59.0 L129.8,59.4 L130.4,59.3 L131.1,59.0 L131.8,58.7 L132.4,59.2 L133.1,58.7 L133.1,66.5 L132.4,66.2 L131.8,66.5 L131.1,66.2 L130.4,66.6 L129.8,66.5 L129.1,66.0 L128.4,66.1 L127.8,66.1 L127.1,66.7 L126.4,66.6 L125.8,66.7 L125.1,66.5 L124.4,66.4 L123.8,66.4 L123.1,66.7 L122.4,66.3 L121.8,66.6 L121.1,66.4 L120.4,66.4 L119.8,66.0 L119.1,66.1 L118.4,66.7 L117.8,66.6 L117.1,66.5 L116.4,66.5 L115.8,66.1 L115.1,66.4 L114.4,66.1 L113.8,66.2 L113.1,66.1 L112.4,66.7 L111.8,66.5 L111.1,66.5 L110.4,66.6 L109.7,66.6 L109.1,66.7 L108.4,66.0 L107.7,66.3 L107.1,66.1 L106.4,66.7 L105.7,66.1 L105.1,66.3 L104.4,66.3 L103.7,66.7 L103.1,66.7 L102.4,66.0 L101.7,66.3 L101.1,66.6 L100.4,66.5 L99.7,66.5 L99.1,66.6 L98.4,66.5 L97.7,66.6 L97.1,66.6 L96.4,66.6 L95.7,66.2 L95.1,66.3 L94.4,66.6 L93.7,66.4 L93.1,66.6 L92.4,66.4 L91.7,66.6 L91.1,66.4 L90.4,66.7 L89.7,66.4 L89.1,66.1 L88.4,66.0 Z" fill="#CB2229" stroke="none" stroke-width="0"/>
</g>
<line x1="88.40" y1="91.60" x2="89.90" y2="91.60" stroke="#666" stroke-width="0.6"/>
<line x1="131.60" y1="91.60" x2="133.10" y2="91.60" stroke="#666" stroke-width="0.6"/>
<line x1="88.40" y1="76.56" x2="89.90" y2="76.56" stroke="#666" stroke-width="0.6"/>
<line x1="131.60" y1="76.56" x2="133.10" y2="76.56" stroke="#666" stroke-width="0.6"/>
<line x1="88.40" y1="61.52" x2="89.90" y2="61.52" stroke="#666" stroke-width="0.6"/>
<line x1="131.60" y1="61.52" x2="133.10" y2="61.52" stroke="#666" stroke-width="0.6"/>
<line x1="88.40" y1="46.48" x2="89.90" y2="46.48" stroke="#666" stroke-width="0.6"/>
<line x1="131.60" y1="46.48" x2="133.10" y2="46.48" stroke="#666" stroke-width="0.6"/>
<line x1="88.40" y1="31.44" x2="89.90" y2="31.44" stroke="#666" stroke-width="0.6"/>
<line x1="131.60" y1="31.44" x2="133.10" y2="31.44" stroke="#666" stroke-width="0.6"/>
<line x1="88.40" y1="16.40" x2="89.90" y2="16.40" stroke="#666" stroke-width="0.6"/>
<line x1="131.60" y1="16.40" x2="133.10" y2="16.40" stroke="#666" stroke-width="0.6"/>
<line x1="88.40" y1="98.60" x2="88.40" y2="97.10" stroke="#666" stroke-width="0.6"/>
<line x1="88.40" y1="16.30" x2="88.40" y2="17.80" stroke="#666" stroke-width="0.6"/>
<line x1="106.30" y1="98.60" x2="106.30" y2="97.10" stroke="#666" stroke-width="0.6"/>
<line x1="106.30" y1="16.30" x2="106.30" y2="17.80" stroke="#666" stroke-width="0.6"/>
<line x1="124.20" y1="98.60" x2="124.20" y2="97.10" stroke="#666" stroke-width="0.6"/>
<line x1="124.20" y1="16.30" x2="124.20" y2="17.80" stroke="#666" stroke-width="0.6"/>
<rect x="88.40" y="16.30" width="44.70" height="82.30" fill="none" stroke="#7A7A7A" stroke-width="0.8"/>
<text x="112.25" y="11.70" font-size="9.6" fill="#235947" font-weight="bold" text-anchor="middle">NaCl</text>
<text x="128.60" y="24.20" font-size="8.0" fill="#000" text-anchor="end" textLength="22.60" lengthAdjust="spacingAndGlyphs">N=929</text>
<text x="88.70" y="108.20" font-size="8.0" fill="#484848" text-anchor="middle" transform="translate(0 -8.656) scale(1 1.08)">0</text>
<text x="106.60" y="108.20" font-size="8.0" fill="#484848" text-anchor="middle" transform="translate(0 -8.656) scale(1 1.08)">2</text>
<text x="124.50" y="108.20" font-size="8.0" fill="#484848" text-anchor="middle" transform="translate(0 -8.656) scale(1 1.08)">4</text>
<rect x="146.80" y="16.30" width="44.70" height="82.30" fill="#F8F6C7" stroke="none" stroke-width="0"/>
<line x1="146.80" y1="91.60" x2="191.50" y2="91.60" stroke="#E6DFAE" stroke-width="0.6"/>
<line x1="146.80" y1="76.56" x2="191.50" y2="76.56" stroke="#E6DFAE" stroke-width="0.6"/>
<line x1="146.80" y1="61.52" x2="191.50" y2="61.52" stroke="#E6DFAE" stroke-width="0.6"/>
<line x1="146.80" y1="46.48" x2="191.50" y2="46.48" stroke="#E6DFAE" stroke-width="0.6"/>
<line x1="146.80" y1="31.44" x2="191.50" y2="31.44" stroke="#E6DFAE" stroke-width="0.6"/>
<clipPath id="cp102"><rect x="146.80" y="16.3" width="44.7" height="82.3"/></clipPath>
<g clip-path="url(#cp102)">
<path d="M146.8,50.4 L147.5,51.3 L148.1,50.4 L148.8,51.5 L149.5,51.3 L150.1,50.9 L150.8,51.3 L151.5,51.2 L152.1,50.2 L152.8,51.2 L153.5,51.3 L154.1,51.1 L154.8,51.9 L155.5,51.6 L156.1,50.9 L156.8,50.6 L157.5,50.4 L158.1,51.7 L158.8,51.5 L159.5,51.3 L160.1,51.0 L160.8,51.1 L161.5,50.5 L162.1,51.2 L162.8,50.4 L163.5,51.3 L164.1,51.4 L164.8,51.4 L165.5,50.6 L166.1,50.3 L166.8,50.8 L167.5,51.5 L168.1,51.1 L168.8,51.6 L169.5,51.0 L170.2,50.9 L170.8,51.9 L171.5,50.4 L172.2,50.5 L172.8,51.3 L173.5,51.4 L174.2,51.0 L174.8,51.2 L175.5,51.0 L176.2,51.4 L176.8,51.9 L177.5,51.8 L178.2,51.4 L178.8,51.0 L179.5,52.0 L180.2,51.0 L180.8,51.4 L181.5,51.8 L182.2,51.5 L182.8,50.9 L183.5,51.6 L184.2,51.3 L184.8,51.9 L185.5,51.3 L186.2,51.2 L186.8,52.0 L187.5,51.2 L188.2,50.9 L188.8,52.0 L189.5,52.0 L190.2,50.4 L190.8,50.2 L191.5,51.8 L191.5,74.3 L190.8,74.7 L190.2,75.9 L189.5,75.8 L188.8,75.0 L188.2,75.2 L187.5,74.9 L186.8,74.3 L186.2,75.9 L185.5,74.4 L184.8,74.1 L184.2,75.7 L183.5,75.5 L182.8,75.6 L182.2,74.5 L181.5,75.7 L180.8,74.9 L180.2,75.3 L179.5,75.9 L178.8,75.4 L178.2,75.8 L177.5,75.4 L176.8,75.3 L176.2,74.4 L175.5,74.6 L174.8,74.0 L174.2,74.9 L173.5,75.8 L172.8,75.9 L172.2,75.7 L171.5,74.8 L170.8,75.6 L170.2,74.3 L169.5,74.2 L168.8,74.5 L168.1,75.3 L167.5,75.7 L166.8,74.9 L166.1,75.7 L165.5,75.6 L164.8,74.9 L164.1,74.4 L163.5,75.5 L162.8,74.6 L162.1,74.4 L161.5,74.5 L160.8,74.8 L160.1,75.5 L159.5,74.6 L158.8,74.8 L158.1,74.3 L157.5,74.2 L156.8,74.3 L156.1,74.8 L155.5,74.2 L154.8,74.5 L154.1,75.0 L153.5,74.3 L152.8,74.8 L152.1,74.4 L151.5,75.3 L150.8,74.9 L150.1,74.4 L149.5,75.9 L148.8,75.4 L148.1,74.5 L147.5,74.8 L146.8,75.8 Z" fill="#FFFFFF" stroke="none" stroke-width="0" fill-opacity="0.8"/>
<path d="M146.8,54.3 L147.5,53.8 L148.1,53.6 L148.8,53.5 L149.5,53.4 L150.1,53.9 L150.8,53.6 L151.5,53.9 L152.1,54.3 L152.8,53.8 L153.5,54.3 L154.1,53.4 L154.8,54.1 L155.5,54.1 L156.1,54.3 L156.8,53.4 L157.5,53.9 L158.1,53.9 L158.8,53.9 L159.5,53.8 L160.1,53.6 L160.8,54.3 L161.5,54.2 L162.1,54.1 L162.8,54.3 L163.5,53.9 L164.1,53.4 L164.8,54.0 L165.5,53.5 L166.1,54.1 L166.8,54.0 L167.5,53.6 L168.1,53.5 L168.8,53.4 L169.5,53.5 L170.2,54.3 L170.8,53.6 L171.5,54.2 L172.2,53.5 L172.8,53.7 L173.5,53.8 L174.2,53.7 L174.8,54.3 L175.5,53.6 L176.2,53.8 L176.8,53.6 L177.5,53.5 L178.2,54.0 L178.8,53.7 L179.5,53.8 L180.2,54.0 L180.8,53.4 L181.5,53.4 L182.2,54.0 L182.8,54.3 L183.5,53.4 L184.2,53.8 L184.8,54.3 L185.5,54.2 L186.2,54.3 L186.8,53.9 L187.5,54.3 L188.2,53.4 L188.8,53.8 L189.5,54.2 L190.2,53.7 L190.8,53.8 L191.5,53.8 L191.5,71.3 L190.8,72.0 L190.2,71.5 L189.5,72.1 L188.8,71.5 L188.2,71.3 L187.5,71.9 L186.8,71.8 L186.2,71.7 L185.5,72.0 L184.8,71.5 L184.2,71.4 L183.5,71.9 L182.8,72.0 L182.2,72.0 L181.5,71.5 L180.8,71.6 L180.2,71.2 L179.5,71.9 L178.8,71.2 L178.2,71.8 L177.5,71.6 L176.8,71.2 L176.2,71.5 L175.5,71.7 L174.8,71.2 L174.2,71.4 L173.5,71.6 L172.8,71.7 L172.2,71.2 L171.5,72.0 L170.8,71.5 L170.2,71.3 L169.5,71.7 L168.8,71.4 L168.1,71.9 L167.5,72.1 L166.8,71.6 L166.1,72.1 L165.5,72.1 L164.8,71.8 L164.1,72.0 L163.5,72.0 L162.8,71.8 L162.1,71.4 L161.5,71.3 L160.8,71.2 L160.1,71.4 L159.5,72.1 L158.8,71.9 L158.1,71.4 L157.5,72.0 L156.8,72.0 L156.1,72.0 L155.5,71.2 L154.8,71.4 L154.1,71.8 L153.5,72.0 L152.8,72.1 L152.1,71.8 L151.5,72.0 L150.8,71.9 L150.1,72.0 L149.5,71.5 L148.8,71.4 L148.1,72.1 L147.5,72.0 L146.8,71.5 Z" fill="#C9DBF2" stroke="none" stroke-width="0"/>
<path d="M146.8,53.7 L147.5,54.3 L148.1,54.0 L148.8,54.4 L149.5,54.6 L150.1,53.7 L150.8,54.3 L151.5,54.1 L152.1,54.8 L152.8,54.7 L153.5,54.8 L154.1,54.6 L154.8,54.1 L155.5,54.4 L156.1,54.4 L156.8,54.1 L157.5,54.0 L158.1,54.5 L158.8,54.8 L159.5,54.0 L160.1,54.1 L160.8,53.9 L161.5,54.1 L162.1,54.2 L162.8,53.8 L163.5,54.5 L164.1,54.1 L164.8,54.7 L165.5,54.0 L166.1,54.6 L166.8,54.9 L167.5,53.9 L168.1,54.1 L168.8,54.9 L169.5,54.2 L170.2,54.1 L170.8,53.9 L171.5,54.7 L172.2,54.1 L172.8,54.8 L173.5,54.4 L174.2,53.9 L174.8,54.9 L175.5,54.8 L176.2,54.6 L176.8,54.4 L177.5,54.6 L178.2,54.8 L178.8,53.9 L179.5,54.0 L180.2,54.6 L180.8,54.2 L181.5,54.9 L182.2,54.7 L182.8,54.3 L183.5,53.9 L184.2,54.4 L184.8,54.4 L185.5,54.4 L186.2,54.6 L186.8,54.3 L187.5,54.8 L188.2,54.4 L188.8,53.9 L189.5,54.7 L190.2,53.9 L190.8,54.8 L191.5,54.8 L191.5,71.6 L190.8,70.7 L190.2,71.1 L189.5,71.2 L188.8,71.7 L188.2,71.7 L187.5,71.5 L186.8,70.7 L186.2,71.0 L185.5,71.8 L184.8,71.6 L184.2,71.3 L183.5,71.7 L182.8,71.3 L182.2,71.7 L181.5,71.8 L180.8,71.7 L180.2,71.5 L179.5,70.7 L178.8,71.6 L178.2,71.5 L177.5,71.3 L176.8,71.0 L176.2,71.1 L175.5,71.7 L174.8,70.7 L174.2,71.1 L173.5,71.4 L172.8,71.4 L172.2,71.7 L171.5,71.7 L170.8,71.7 L170.2,71.6 L169.5,71.3 L168.8,71.6 L168.1,71.4 L167.5,71.3 L166.8,71.0 L166.1,71.1 L165.5,71.6 L164.8,70.9 L164.1,70.8 L163.5,71.4 L162.8,71.2 L162.1,70.9 L161.5,71.5 L160.8,71.0 L160.1,71.5 L159.5,70.8 L158.8,71.2 L158.1,71.0 L157.5,70.7 L156.8,71.1 L156.1,71.8 L155.5,71.0 L154.8,71.5 L154.1,70.7 L153.5,71.8 L152.8,71.7 L152.1,71.3 L151.5,70.8 L150.8,71.0 L150.1,71.5 L149.5,71.0 L148.8,71.1 L148.1,71.4 L147.5,70.8 L146.8,70.8 Z" fill="#2F4FA0" stroke="none" stroke-width="0"/>
<path d="M146.8,55.1 L147.5,55.0 L148.1,54.9 L148.8,55.8 L149.5,55.3 L150.1,55.6 L150.8,54.9 L151.5,55.3 L152.1,55.6 L152.8,55.6 L153.5,55.0 L154.1,55.3 L154.8,55.6 L155.5,55.7 L156.1,54.9 L156.8,55.4 L157.5,55.7 L158.1,55.5 L158.8,55.6 L159.5,55.1 L160.1,55.3 L160.8,54.8 L161.5,55.6 L162.1,55.4 L162.8,55.0 L163.5,55.8 L164.1,55.0 L164.8,54.9 L165.5,55.6 L166.1,54.9 L166.8,55.5 L167.5,55.0 L168.1,54.9 L168.8,55.6 L169.5,55.4 L170.2,55.5 L170.8,55.5 L171.5,55.6 L172.2,55.0 L172.8,55.3 L173.5,55.4 L174.2,55.7 L174.8,55.5 L175.5,55.3 L176.2,55.7 L176.8,55.7 L177.5,55.1 L178.2,55.0 L178.8,54.8 L179.5,55.7 L180.2,55.0 L180.8,55.4 L181.5,55.4 L182.2,55.5 L182.8,55.8 L183.5,55.5 L184.2,55.0 L184.8,55.3 L185.5,55.0 L186.2,55.2 L186.8,55.6 L187.5,55.5 L188.2,55.5 L188.8,55.7 L189.5,55.8 L190.2,55.1 L190.8,55.5 L191.5,55.5 L191.5,70.5 L190.8,70.1 L190.2,69.9 L189.5,69.8 L188.8,70.1 L188.2,69.7 L187.5,69.8 L186.8,70.5 L186.2,70.1 L185.5,69.6 L184.8,69.8 L184.2,70.5 L183.5,69.6 L182.8,69.8 L182.2,69.7 L181.5,69.7 L180.8,70.0 L180.2,70.3 L179.5,69.5 L178.8,70.3 L178.2,69.7 L177.5,70.1 L176.8,69.9 L176.2,69.9 L175.5,69.9 L174.8,70.2 L174.2,70.1 L173.5,69.7 L172.8,70.1 L172.2,70.1 L171.5,70.2 L170.8,70.4 L170.2,69.9 L169.5,69.7 L168.8,70.3 L168.1,70.4 L167.5,69.9 L166.8,69.9 L166.1,70.0 L165.5,70.2 L164.8,69.9 L164.1,70.0 L163.5,69.9 L162.8,70.2 L162.1,70.5 L161.5,69.9 L160.8,69.7 L160.1,70.3 L159.5,69.8 L158.8,70.4 L158.1,70.4 L157.5,70.2 L156.8,69.9 L156.1,70.2 L155.5,70.4 L154.8,69.8 L154.1,70.1 L153.5,70.2 L152.8,69.6 L152.1,69.5 L151.5,70.5 L150.8,69.6 L150.1,69.9 L149.5,69.7 L148.8,70.2 L148.1,69.9 L147.5,70.5 L146.8,69.5 Z" fill="#5B80C6" stroke="none" stroke-width="0"/>
<path d="M146.8,56.5 L147.5,56.5 L148.1,56.8 L148.8,56.7 L149.5,57.0 L150.1,56.5 L150.8,56.7 L151.5,56.6 L152.1,56.7 L152.8,56.6 L153.5,56.3 L154.1,56.2 L154.8,56.5 L155.5,57.1 L156.1,56.6 L156.8,56.6 L157.5,56.5 L158.1,56.9 L158.8,56.5 L159.5,56.5 L160.1,56.4 L160.8,56.7 L161.5,56.6 L162.1,56.7 L162.8,57.0 L163.5,56.4 L164.1,56.7 L164.8,57.1 L165.5,56.8 L166.1,56.9 L166.8,56.9 L167.5,56.3 L168.1,56.7 L168.8,56.4 L169.5,56.5 L170.2,56.2 L170.8,56.9 L171.5,57.0 L172.2,57.0 L172.8,56.5 L173.5,57.0 L174.2,56.9 L174.8,56.7 L175.5,56.9 L176.2,56.9 L176.8,56.1 L177.5,56.7 L178.2,56.7 L178.8,56.5 L179.5,56.9 L180.2,56.8 L180.8,56.2 L181.5,56.5 L182.2,56.1 L182.8,56.5 L183.5,56.2 L184.2,56.1 L184.8,56.4 L185.5,56.8 L186.2,56.3 L186.8,57.1 L187.5,56.3 L188.2,56.9 L188.8,56.4 L189.5,57.0 L190.2,56.6 L190.8,56.9 L191.5,56.5 L191.5,68.6 L190.8,68.3 L190.2,68.4 L189.5,68.1 L188.8,68.7 L188.2,68.7 L187.5,68.3 L186.8,68.5 L186.2,68.0 L185.5,68.1 L184.8,68.5 L184.2,68.6 L183.5,69.0 L182.8,68.3 L182.2,68.5 L181.5,68.5 L180.8,68.5 L180.2,68.2 L179.5,68.9 L178.8,68.4 L178.2,68.2 L177.5,68.6 L176.8,68.6 L176.2,68.1 L175.5,68.3 L174.8,68.1 L174.2,68.5 L173.5,68.6 L172.8,68.7 L172.2,68.8 L171.5,68.7 L170.8,68.6 L170.2,68.6 L169.5,68.6 L168.8,68.3 L168.1,69.0 L167.5,68.8 L166.8,68.8 L166.1,68.8 L165.5,68.4 L164.8,68.8 L164.1,68.1 L163.5,68.4 L162.8,68.5 L162.1,68.2 L161.5,68.5 L160.8,68.9 L160.1,68.1 L159.5,68.6 L158.8,68.0 L158.1,68.6 L157.5,68.4 L156.8,68.4 L156.1,68.5 L155.5,68.0 L154.8,68.1 L154.1,68.8 L153.5,68.0 L152.8,68.9 L152.1,68.6 L151.5,68.2 L150.8,68.8 L150.1,68.6 L149.5,68.1 L148.8,68.1 L148.1,68.0 L147.5,68.9 L146.8,68.3 Z" fill="#86BD4C" stroke="none" stroke-width="0"/>
<path d="M146.8,57.6 L147.5,57.9 L148.1,57.1 L148.8,57.5 L149.5,57.8 L150.1,57.2 L150.8,57.1 L151.5,57.5 L152.1,57.3 L152.8,57.1 L153.5,57.9 L154.1,57.8 L154.8,57.7 L155.5,57.9 L156.1,57.8 L156.8,57.5 L157.5,57.8 L158.1,58.0 L158.8,58.0 L159.5,57.9 L160.1,57.8 L160.8,58.0 L161.5,58.0 L162.1,57.7 L162.8,57.5 L163.5,57.7 L164.1,58.0 L164.8,57.1 L165.5,57.5 L166.1,57.2 L166.8,57.2 L167.5,57.6 L168.1,57.2 L168.8,57.2 L169.5,57.6 L170.2,57.6 L170.8,57.5 L171.5,57.1 L172.2,57.2 L172.8,57.6 L173.5,57.1 L174.2,57.2 L174.8,57.4 L175.5,58.0 L176.2,57.8 L176.8,57.9 L177.5,57.8 L178.2,57.2 L178.8,57.8 L179.5,57.7 L180.2,58.0 L180.8,57.1 L181.5,57.2 L182.2,57.2 L182.8,57.5 L183.5,57.4 L184.2,57.3 L184.8,57.8 L185.5,58.0 L186.2,58.0 L186.8,57.1 L187.5,57.2 L188.2,57.5 L188.8,57.8 L189.5,57.8 L190.2,57.9 L190.8,57.2 L191.5,57.6 L191.5,68.0 L190.8,67.1 L190.2,67.1 L189.5,68.0 L188.8,67.7 L188.2,67.7 L187.5,67.8 L186.8,67.0 L186.2,68.0 L185.5,67.6 L184.8,67.9 L184.2,67.6 L183.5,67.3 L182.8,67.1 L182.2,67.7 L181.5,67.0 L180.8,67.3 L180.2,67.5 L179.5,67.2 L178.8,67.6 L178.2,67.4 L177.5,67.4 L176.8,67.8 L176.2,67.8 L175.5,67.5 L174.8,67.4 L174.2,67.4 L173.5,67.5 L172.8,68.0 L172.2,67.5 L171.5,67.7 L170.8,67.3 L170.2,67.1 L169.5,67.9 L168.8,67.6 L168.1,67.0 L167.5,67.4 L166.8,68.0 L166.1,67.7 L165.5,67.2 L164.8,67.9 L164.1,67.6 L163.5,67.7 L162.8,67.9 L162.1,67.4 L161.5,67.1 L160.8,67.5 L160.1,67.3 L159.5,67.7 L158.8,67.2 L158.1,67.0 L157.5,67.9 L156.8,67.5 L156.1,67.4 L155.5,67.5 L154.8,67.9 L154.1,68.0 L153.5,67.2 L152.8,67.4 L152.1,67.3 L151.5,67.3 L150.8,67.9 L150.1,67.1 L149.5,67.4 L148.8,67.3 L148.1,67.8 L147.5,67.7 L146.8,67.1 Z" fill="#F6E52B" stroke="none" stroke-width="0"/>
<path d="M146.8,58.5 L147.5,57.8 L148.1,58.1 L148.8,58.4 L149.5,58.2 L150.1,57.8 L150.8,57.9 L151.5,58.4 L152.1,57.9 L152.8,58.0 L153.5,58.4 L154.1,57.9 L154.8,58.2 L155.5,57.9 L156.1,57.9 L156.8,58.2 L157.5,58.4 L158.1,58.1 L158.8,57.9 L159.5,58.3 L160.1,58.3 L160.8,57.8 L161.5,58.3 L162.1,58.2 L162.8,58.5 L163.5,58.2 L164.1,58.2 L164.8,57.8 L165.5,58.1 L166.1,57.8 L166.8,57.9 L167.5,58.2 L168.1,58.4 L168.8,58.5 L169.5,58.4 L170.2,58.1 L170.8,58.1 L171.5,58.3 L172.2,58.0 L172.8,57.8 L173.5,58.3 L174.2,58.5 L174.8,58.5 L175.5,58.3 L176.2,58.4 L176.8,57.9 L177.5,57.9 L178.2,58.4 L178.8,58.2 L179.5,57.9 L180.2,58.3 L180.8,58.3 L181.5,58.5 L182.2,57.8 L182.8,58.0 L183.5,58.2 L184.2,58.4 L184.8,58.5 L185.5,57.8 L186.2,58.0 L186.8,58.1 L187.5,58.5 L188.2,58.3 L188.8,58.0 L189.5,58.2 L190.2,57.9 L190.8,58.4 L191.5,58.1 L191.5,66.8 L190.8,66.5 L190.2,66.5 L189.5,67.2 L188.8,66.8 L188.2,66.6 L187.5,66.7 L186.8,66.5 L186.2,66.9 L185.5,66.9 L184.8,66.9 L184.2,66.7 L183.5,66.6 L182.8,66.5 L182.2,67.0 L181.5,67.1 L180.8,66.7 L180.2,67.2 L179.5,67.2 L178.8,66.5 L178.2,66.9 L177.5,67.1 L176.8,66.8 L176.2,67.0 L175.5,66.5 L174.8,66.6 L174.2,66.9 L173.5,67.1 L172.8,66.5 L172.2,66.7 L171.5,66.5 L170.8,66.5 L170.2,66.8 L169.5,66.9 L168.8,66.8 L168.1,67.1 L167.5,67.1 L166.8,66.9 L166.1,67.1 L165.5,67.2 L164.8,66.7 L164.1,67.0 L163.5,66.7 L162.8,66.6 L162.1,66.9 L161.5,67.2 L160.8,66.9 L160.1,67.1 L159.5,66.5 L158.8,66.6 L158.1,67.2 L157.5,67.2 L156.8,66.5 L156.1,67.1 L155.5,66.8 L154.8,67.1 L154.1,67.0 L153.5,66.6 L152.8,67.2 L152.1,67.1 L151.5,67.2 L150.8,66.8 L150.1,66.5 L149.5,66.7 L148.8,66.5 L148.1,66.9 L147.5,67.1 L146.8,66.9 Z" fill="#F2A43A" stroke="none" stroke-width="0"/>
<path d="M146.8,58.4 L147.5,58.2 L148.1,58.8 L148.8,58.7 L149.5,58.8 L150.1,58.6 L150.8,58.5 L151.5,58.6 L152.1,58.2 L152.8,58.1 L153.5,58.9 L154.1,58.8 L154.8,58.3 L155.5,58.5 L156.1,58.2 L156.8,58.8 L157.5,58.8 L158.1,58.9 L158.8,58.2 L159.5,58.9 L160.1,58.2 L160.8,58.7 L161.5,58.9 L162.1,58.2 L162.8,58.6 L163.5,58.7 L164.1,58.7 L164.8,58.8 L165.5,58.6 L166.1,58.5 L166.8,58.5 L167.5,58.7 L168.1,58.7 L168.8,58.6 L169.5,58.8 L170.2,58.3 L170.8,58.4 L171.5,58.4 L172.2,58.3 L172.8,58.7 L173.5,58.1 L174.2,58.9 L174.8,58.2 L175.5,58.6 L176.2,58.7 L176.8,58.3 L177.5,58.1 L178.2,58.9 L178.8,58.8 L179.5,58.5 L180.2,58.3 L180.8,58.5 L181.5,58.6 L182.2,58.2 L182.8,58.6 L183.5,58.7 L184.2,58.3 L184.8,58.4 L185.5,58.4 L186.2,58.3 L186.8,58.4 L187.5,58.2 L188.2,58.4 L188.8,58.8 L189.5,58.6 L190.2,58.5 L190.8,58.2 L191.5,58.4 L191.5,66.7 L190.8,66.9 L190.2,66.7 L189.5,66.1 L188.8,66.9 L188.2,66.2 L187.5,66.1 L186.8,66.6 L186.2,66.2 L185.5,66.8 L184.8,66.5 L184.2,66.6 L183.5,66.7 L182.8,66.6 L182.2,66.8 L181.5,66.6 L180.8,66.8 L180.2,66.2 L179.5,66.4 L178.8,66.4 L178.2,66.4 L177.5,66.7 L176.8,66.6 L176.2,66.8 L175.5,66.4 L174.8,66.7 L174.2,66.5 L173.5,66.5 L172.8,66.8 L172.2,66.2 L171.5,66.7 L170.8,66.7 L170.2,66.2 L169.5,66.8 L168.8,66.2 L168.1,66.2 L167.5,66.7 L166.8,66.5 L166.1,66.9 L165.5,66.8 L164.8,66.4 L164.1,66.5 L163.5,66.4 L162.8,66.8 L162.1,66.9 L161.5,66.2 L160.8,66.8 L160.1,66.5 L159.5,66.3 L158.8,66.6 L158.1,66.1 L157.5,66.7 L156.8,66.9 L156.1,66.8 L155.5,66.4 L154.8,66.5 L154.1,66.1 L153.5,66.4 L152.8,66.7 L152.1,66.9 L151.5,66.4 L150.8,66.5 L150.1,66.7 L149.5,66.5 L148.8,66.7 L148.1,66.7 L147.5,66.5 L146.8,66.7 Z" fill="#CB2229" stroke="none" stroke-width="0"/>
</g>
<line x1="146.80" y1="91.60" x2="148.30" y2="91.60" stroke="#666" stroke-width="0.6"/>
<line x1="190.00" y1="91.60" x2="191.50" y2="91.60" stroke="#666" stroke-width="0.6"/>
<line x1="146.80" y1="76.56" x2="148.30" y2="76.56" stroke="#666" stroke-width="0.6"/>
<line x1="190.00" y1="76.56" x2="191.50" y2="76.56" stroke="#666" stroke-width="0.6"/>
<line x1="146.80" y1="61.52" x2="148.30" y2="61.52" stroke="#666" stroke-width="0.6"/>
<line x1="190.00" y1="61.52" x2="191.50" y2="61.52" stroke="#666" stroke-width="0.6"/>
<line x1="146.80" y1="46.48" x2="148.30" y2="46.48" stroke="#666" stroke-width="0.6"/>
<line x1="190.00" y1="46.48" x2="191.50" y2="46.48" stroke="#666" stroke-width="0.6"/>
<line x1="146.80" y1="31.44" x2="148.30" y2="31.44" stroke="#666" stroke-width="0.6"/>
<line x1="190.00" y1="31.44" x2="191.50" y2="31.44" stroke="#666" stroke-width="0.6"/>
<line x1="146.80" y1="16.40" x2="148.30" y2="16.40" stroke="#666" stroke-width="0.6"/>
<line x1="190.00" y1="16.40" x2="191.50" y2="16.40" stroke="#666" stroke-width="0.6"/>
<line x1="146.80" y1="98.60" x2="146.80" y2="97.10" stroke="#666" stroke-width="0.6"/>
<line x1="146.80" y1="16.30" x2="146.80" y2="17.80" stroke="#666" stroke-width="0.6"/>
<line x1="164.70" y1="98.60" x2="164.70" y2="97.10" stroke="#666" stroke-width="0.6"/>
<line x1="164.70" y1="16.30" x2="164.70" y2="17.80" stroke="#666" stroke-width="0.6"/>
<line x1="182.60" y1="98.60" x2="182.60" y2="97.10" stroke="#666" stroke-width="0.6"/>
<line x1="182.60" y1="16.30" x2="182.60" y2="17.80" stroke="#666" stroke-width="0.6"/>
<rect x="146.80" y="16.30" width="44.70" height="82.30" fill="none" stroke="#7A7A7A" stroke-width="0.8"/>
<text x="170.15" y="11.70" font-size="9.6" fill="#4A8FE3" font-weight="bold" text-anchor="middle">NaNO<tspan font-size="6" dy="2.6">3</tspan></text>
<text x="187.00" y="24.20" font-size="8.0" fill="#000" text-anchor="end" textLength="27.00" lengthAdjust="spacingAndGlyphs">N=1127</text>
<text x="147.10" y="108.20" font-size="8.0" fill="#484848" text-anchor="middle" transform="translate(0 -8.656) scale(1 1.08)">0</text>
<text x="165.00" y="108.20" font-size="8.0" fill="#484848" text-anchor="middle" transform="translate(0 -8.656) scale(1 1.08)">2</text>
<text x="182.90" y="108.20" font-size="8.0" fill="#484848" text-anchor="middle" transform="translate(0 -8.656) scale(1 1.08)">4</text>
<line x1="196.50" y1="30.20" x2="204.00" y2="30.20" stroke="#2a2a2a" stroke-width="0.8"/>
<path d="M193.00,30.20 L197.80,28.10 L197.80,32.30 Z" fill="#111" stroke="none" stroke-width="0"/>
<text x="204.70" y="32.80" font-size="7.6" fill="#2a2a2a" textLength="25.60" lengthAdjust="spacingAndGlyphs" transform="translate(0 -2.624) scale(1 1.08)">IFS/IFS</text>
<line x1="196.50" y1="46.00" x2="204.00" y2="46.00" stroke="#2a2a2a" stroke-width="0.8"/>
<path d="M193.00,46.00 L197.80,43.90 L197.80,48.10 Z" fill="#111" stroke="none" stroke-width="0"/>
<text x="204.70" y="48.80" font-size="7.6" fill="#2a2a2a" textLength="29.90" lengthAdjust="spacingAndGlyphs" transform="translate(0 -3.904) scale(1 1.08)">OFS/IFS</text>
<line x1="196.50" y1="63.00" x2="204.00" y2="63.00" stroke="#2a2a2a" stroke-width="0.8"/>
<path d="M193.00,63.00 L197.80,60.90 L197.80,65.10 Z" fill="#111" stroke="none" stroke-width="0"/>
<text x="204.70" y="65.70" font-size="7.6" fill="#2a2a2a" textLength="33.20" lengthAdjust="spacingAndGlyphs" transform="translate(0 -5.256) scale(1 1.08)">OFS/OFS</text>
<rect x="258.20" y="16.30" width="44.70" height="82.30" fill="#F8F6C7" stroke="none" stroke-width="0"/>
<line x1="258.20" y1="91.60" x2="302.90" y2="91.60" stroke="#E6DFAE" stroke-width="0.6"/>
<line x1="258.20" y1="76.56" x2="302.90" y2="76.56" stroke="#E6DFAE" stroke-width="0.6"/>
<line x1="258.20" y1="61.52" x2="302.90" y2="61.52" stroke="#E6DFAE" stroke-width="0.6"/>
<line x1="258.20" y1="46.48" x2="302.90" y2="46.48" stroke="#E6DFAE" stroke-width="0.6"/>
<line x1="258.20" y1="31.44" x2="302.90" y2="31.44" stroke="#E6DFAE" stroke-width="0.6"/>
<clipPath id="cp110"><rect x="258.20" y="16.3" width="44.7" height="82.3"/></clipPath>
<g clip-path="url(#cp110)">
<path d="M258.2,53.1 L258.9,52.0 L259.5,52.9 L260.2,51.7 L260.9,52.2 L261.5,51.8 L262.2,52.3 L262.9,51.4 L263.5,52.1 L264.2,51.9 L264.9,51.3 L265.5,52.9 L266.2,53.1 L266.9,51.6 L267.5,52.5 L268.2,52.3 L268.9,52.1 L269.5,52.4 L270.2,52.6 L270.9,51.8 L271.5,52.0 L272.2,52.3 L272.9,53.2 L273.5,53.1 L274.2,52.8 L274.9,52.2 L275.5,53.1 L276.2,53.2 L276.9,53.0 L277.5,51.6 L278.2,52.1 L278.9,51.7 L279.5,52.2 L280.2,53.0 L280.9,52.2 L281.6,51.9 L282.2,51.6 L282.9,51.5 L283.6,52.9 L284.2,53.2 L284.9,53.0 L285.6,51.3 L286.2,51.8 L286.9,51.5 L287.6,52.2 L288.2,51.7 L288.9,52.2 L289.6,52.2 L290.2,52.5 L290.9,52.3 L291.6,52.3 L292.2,51.3 L292.9,53.1 L293.6,52.1 L294.2,53.0 L294.9,51.9 L295.6,51.4 L296.2,53.2 L296.9,52.2 L297.6,51.6 L298.2,53.2 L298.9,53.1 L299.6,51.5 L300.2,53.2 L300.9,51.5 L301.6,51.5 L302.2,51.5 L302.9,53.0 L302.9,75.9 L302.2,77.0 L301.6,76.3 L300.9,75.9 L300.2,76.5 L299.6,75.9 L298.9,77.3 L298.2,77.0 L297.6,75.7 L296.9,77.1 L296.2,77.1 L295.6,75.7 L294.9,75.8 L294.2,75.6 L293.6,75.7 L292.9,76.7 L292.2,77.3 L291.6,76.7 L290.9,76.4 L290.2,75.8 L289.6,76.9 L288.9,76.9 L288.2,75.5 L287.6,76.9 L286.9,75.7 L286.2,75.5 L285.6,75.8 L284.9,75.7 L284.2,75.8 L283.6,75.8 L282.9,76.2 L282.2,75.9 L281.6,76.0 L280.9,76.9 L280.2,76.7 L279.5,77.1 L278.9,77.3 L278.2,77.3 L277.5,76.5 L276.9,77.4 L276.2,76.0 L275.5,75.9 L274.9,76.7 L274.2,76.9 L273.5,76.5 L272.9,76.4 L272.2,76.4 L271.5,76.1 L270.9,75.6 L270.2,75.5 L269.5,76.8 L268.9,77.1 L268.2,76.1 L267.5,75.7 L266.9,75.7 L266.2,75.6 L265.5,75.5 L264.9,75.9 L264.2,75.5 L263.5,75.6 L262.9,76.6 L262.2,75.9 L261.5,75.6 L260.9,75.6 L260.2,76.0 L259.5,76.8 L258.9,76.6 L258.2,76.7 Z" fill="#FFFFFF" stroke="none" stroke-width="0" fill-opacity="0.8"/>
<path d="M258.2,54.7 L258.9,54.8 L259.5,55.1 L260.2,55.2 L260.9,55.1 L261.5,54.6 L262.2,54.5 L262.9,55.1 L263.5,55.1 L264.2,55.0 L264.9,54.8 L265.5,55.2 L266.2,54.3 L266.9,54.4 L267.5,55.0 L268.2,54.5 L268.9,54.8 L269.5,54.8 L270.2,54.8 L270.9,54.5 L271.5,55.2 L272.2,54.8 L272.9,54.2 L273.5,54.5 L274.2,54.7 L274.9,55.1 L275.5,54.8 L276.2,55.1 L276.9,54.5 L277.5,54.3 L278.2,54.6 L278.9,55.1 L279.5,54.7 L280.2,55.1 L280.9,55.0 L281.6,55.1 L282.2,54.7 L282.9,54.2 L283.6,54.8 L284.2,54.3 L284.9,54.6 L285.6,54.4 L286.2,54.6 L286.9,54.7 L287.6,54.9 L288.2,55.2 L288.9,55.0 L289.6,55.0 L290.2,54.4 L290.9,54.8 L291.6,54.6 L292.2,54.6 L292.9,54.3 L293.6,54.7 L294.2,55.2 L294.9,55.1 L295.6,55.0 L296.2,54.3 L296.9,55.0 L297.6,54.6 L298.2,54.5 L298.9,54.7 L299.6,54.5 L300.2,54.5 L300.9,55.1 L301.6,54.8 L302.2,54.7 L302.9,54.7 L302.9,74.2 L302.2,74.6 L301.6,74.2 L300.9,74.6 L300.2,74.2 L299.6,73.7 L298.9,74.0 L298.2,74.1 L297.6,74.5 L296.9,73.8 L296.2,73.6 L295.6,74.3 L294.9,74.1 L294.2,74.2 L293.6,73.7 L292.9,74.5 L292.2,73.9 L291.6,74.3 L290.9,73.7 L290.2,74.1 L289.6,73.7 L288.9,73.7 L288.2,73.8 L287.6,73.7 L286.9,73.8 L286.2,74.2 L285.6,74.3 L284.9,74.0 L284.2,74.0 L283.6,74.0 L282.9,74.6 L282.2,74.4 L281.6,73.6 L280.9,74.6 L280.2,73.7 L279.5,74.3 L278.9,74.4 L278.2,73.8 L277.5,74.5 L276.9,73.8 L276.2,73.6 L275.5,74.0 L274.9,73.6 L274.2,74.5 L273.5,73.7 L272.9,74.1 L272.2,73.8 L271.5,74.0 L270.9,74.5 L270.2,74.0 L269.5,74.2 L268.9,74.6 L268.2,73.9 L267.5,73.9 L266.9,73.9 L266.2,74.0 L265.5,74.4 L264.9,74.5 L264.2,74.1 L263.5,73.8 L262.9,74.5 L262.2,73.9 L261.5,73.6 L260.9,74.5 L260.2,74.0 L259.5,73.6 L258.9,73.7 L258.2,73.7 Z" fill="#C9DBF2" stroke="none" stroke-width="0"/>
<path d="M258.2,54.6 L258.9,55.3 L259.5,55.2 L260.2,55.7 L260.9,55.5 L261.5,55.4 L262.2,54.7 L262.9,55.1 L263.5,55.5 L264.2,55.2 L264.9,55.2 L265.5,54.7 L266.2,55.2 L266.9,54.7 L267.5,54.6 L268.2,55.4 L268.9,55.0 L269.5,54.8 L270.2,55.1 L270.9,54.6 L271.5,55.3 L272.2,55.7 L272.9,55.5 L273.5,55.6 L274.2,55.4 L274.9,55.7 L275.5,55.1 L276.2,54.7 L276.9,54.8 L277.5,54.6 L278.2,54.8 L278.9,54.7 L279.5,54.7 L280.2,55.5 L280.9,55.0 L281.6,54.9 L282.2,54.7 L282.9,55.5 L283.6,54.9 L284.2,55.6 L284.9,54.7 L285.6,54.6 L286.2,55.5 L286.9,55.1 L287.6,55.6 L288.2,55.4 L288.9,55.4 L289.6,54.9 L290.2,55.3 L290.9,54.7 L291.6,55.6 L292.2,55.6 L292.9,55.3 L293.6,54.7 L294.2,54.8 L294.9,55.1 L295.6,54.7 L296.2,55.7 L296.9,55.7 L297.6,55.1 L298.2,54.8 L298.9,55.2 L299.6,55.7 L300.2,55.1 L300.9,55.4 L301.6,55.1 L302.2,54.7 L302.9,54.9 L302.9,73.7 L302.2,74.1 L301.6,73.9 L300.9,73.1 L300.2,73.6 L299.6,73.5 L298.9,73.2 L298.2,73.4 L297.6,73.6 L296.9,73.8 L296.2,74.1 L295.6,73.2 L294.9,74.2 L294.2,73.5 L293.6,74.2 L292.9,73.9 L292.2,73.9 L291.6,73.9 L290.9,73.7 L290.2,73.7 L289.6,73.6 L288.9,73.9 L288.2,73.1 L287.6,73.7 L286.9,73.7 L286.2,74.0 L285.6,73.6 L284.9,73.9 L284.2,74.2 L283.6,73.2 L282.9,73.7 L282.2,73.8 L281.6,73.1 L280.9,73.7 L280.2,73.5 L279.5,74.0 L278.9,74.1 L278.2,73.6 L277.5,73.7 L276.9,74.1 L276.2,74.2 L275.5,74.2 L274.9,73.8 L274.2,73.5 L273.5,73.7 L272.9,73.7 L272.2,74.0 L271.5,73.3 L270.9,73.3 L270.2,73.9 L269.5,73.5 L268.9,74.2 L268.2,73.2 L267.5,74.1 L266.9,73.1 L266.2,73.8 L265.5,73.1 L264.9,73.4 L264.2,73.5 L263.5,74.0 L262.9,73.6 L262.2,74.1 L261.5,74.2 L260.9,73.2 L260.2,73.3 L259.5,73.5 L258.9,73.9 L258.2,73.6 Z" fill="#2F4FA0" stroke="none" stroke-width="0"/>
<path d="M258.2,56.4 L258.9,55.8 L259.5,56.1 L260.2,55.8 L260.9,56.7 L261.5,56.7 L262.2,56.2 L262.9,56.0 L263.5,56.4 L264.2,56.5 L264.9,55.9 L265.5,56.0 L266.2,56.5 L266.9,56.4 L267.5,55.9 L268.2,56.1 L268.9,56.5 L269.5,56.3 L270.2,56.7 L270.9,56.7 L271.5,56.2 L272.2,56.7 L272.9,55.8 L273.5,56.3 L274.2,56.7 L274.9,55.9 L275.5,56.5 L276.2,56.1 L276.9,55.8 L277.5,56.2 L278.2,56.6 L278.9,56.2 L279.5,55.8 L280.2,56.0 L280.9,56.2 L281.6,56.5 L282.2,55.8 L282.9,56.3 L283.6,56.0 L284.2,56.2 L284.9,56.7 L285.6,56.6 L286.2,55.8 L286.9,56.5 L287.6,56.3 L288.2,56.2 L288.9,56.7 L289.6,56.5 L290.2,55.8 L290.9,56.4 L291.6,56.6 L292.2,55.9 L292.9,56.2 L293.6,55.8 L294.2,56.5 L294.9,56.0 L295.6,56.3 L296.2,56.2 L296.9,56.6 L297.6,56.1 L298.2,55.8 L298.9,56.1 L299.6,56.7 L300.2,56.2 L300.9,55.9 L301.6,56.1 L302.2,56.0 L302.9,56.2 L302.9,72.2 L302.2,72.4 L301.6,72.1 L300.9,72.0 L300.2,72.7 L299.6,72.9 L298.9,72.2 L298.2,72.7 L297.6,72.3 L296.9,72.0 L296.2,72.3 L295.6,72.4 L294.9,72.9 L294.2,72.2 L293.6,72.5 L292.9,72.0 L292.2,72.6 L291.6,72.4 L290.9,72.8 L290.2,72.1 L289.6,72.1 L288.9,72.3 L288.2,72.0 L287.6,72.7 L286.9,72.6 L286.2,72.8 L285.6,72.5 L284.9,72.7 L284.2,72.8 L283.6,72.6 L282.9,72.5 L282.2,72.1 L281.6,72.9 L280.9,72.1 L280.2,72.1 L279.5,72.2 L278.9,72.1 L278.2,72.9 L277.5,72.4 L276.9,72.4 L276.2,72.6 L275.5,72.2 L274.9,72.9 L274.2,72.9 L273.5,72.2 L272.9,72.6 L272.2,72.8 L271.5,72.2 L270.9,72.4 L270.2,72.5 L269.5,72.4 L268.9,72.3 L268.2,72.2 L267.5,72.7 L266.9,72.2 L266.2,72.8 L265.5,72.5 L264.9,71.9 L264.2,72.1 L263.5,72.6 L262.9,72.4 L262.2,72.6 L261.5,72.8 L260.9,72.3 L260.2,72.7 L259.5,72.7 L258.9,72.9 L258.2,72.8 Z" fill="#5B80C6" stroke="none" stroke-width="0"/>
<path d="M258.2,57.8 L258.9,57.1 L259.5,57.2 L260.2,57.8 L260.9,57.8 L261.5,57.7 L262.2,57.6 L262.9,57.9 L263.5,57.9 L264.2,57.8 L264.9,57.8 L265.5,57.9 L266.2,57.8 L266.9,57.9 L267.5,57.9 L268.2,57.9 L268.9,57.9 L269.5,57.6 L270.2,58.0 L270.9,57.5 L271.5,57.1 L272.2,57.4 L272.9,57.9 L273.5,57.3 L274.2,57.4 L274.9,57.3 L275.5,57.3 L276.2,57.6 L276.9,57.4 L277.5,57.3 L278.2,57.6 L278.9,57.5 L279.5,57.4 L280.2,57.1 L280.9,57.9 L281.6,57.8 L282.2,57.3 L282.9,57.3 L283.6,57.3 L284.2,58.0 L284.9,57.3 L285.6,57.4 L286.2,57.5 L286.9,57.3 L287.6,57.2 L288.2,57.5 L288.9,57.6 L289.6,57.8 L290.2,57.5 L290.9,57.3 L291.6,57.6 L292.2,57.7 L292.9,57.9 L293.6,57.2 L294.2,57.9 L294.9,57.2 L295.6,57.6 L296.2,57.2 L296.9,57.6 L297.6,57.4 L298.2,57.1 L298.9,57.1 L299.6,57.2 L300.2,57.5 L300.9,57.1 L301.6,57.8 L302.2,57.6 L302.9,57.7 L302.9,70.9 L302.2,71.0 L301.6,71.4 L300.9,70.6 L300.2,71.4 L299.6,71.4 L298.9,70.6 L298.2,71.4 L297.6,71.3 L296.9,71.2 L296.2,71.3 L295.6,71.4 L294.9,70.5 L294.2,70.5 L293.6,71.3 L292.9,71.0 L292.2,70.8 L291.6,71.1 L290.9,70.8 L290.2,71.1 L289.6,71.4 L288.9,70.8 L288.2,71.0 L287.6,70.8 L286.9,71.3 L286.2,71.3 L285.6,70.6 L284.9,70.6 L284.2,71.2 L283.6,70.9 L282.9,71.3 L282.2,71.1 L281.6,70.7 L280.9,71.4 L280.2,71.1 L279.5,70.9 L278.9,70.8 L278.2,70.8 L277.5,70.5 L276.9,70.5 L276.2,70.9 L275.5,70.9 L274.9,71.4 L274.2,71.2 L273.5,70.8 L272.9,70.9 L272.2,70.9 L271.5,70.9 L270.9,71.4 L270.2,71.4 L269.5,70.6 L268.9,70.7 L268.2,71.1 L267.5,71.1 L266.9,71.4 L266.2,70.7 L265.5,71.0 L264.9,71.2 L264.2,71.0 L263.5,71.1 L262.9,70.6 L262.2,70.7 L261.5,70.9 L260.9,71.3 L260.2,71.1 L259.5,71.4 L258.9,71.4 L258.2,70.5 Z" fill="#86BD4C" stroke="none" stroke-width="0"/>
<path d="M258.2,58.9 L258.9,59.1 L259.5,58.4 L260.2,58.5 L260.9,58.9 L261.5,58.8 L262.2,59.0 L262.9,58.6 L263.5,59.3 L264.2,59.2 L264.9,58.5 L265.5,58.6 L266.2,59.3 L266.9,59.2 L267.5,59.3 L268.2,58.7 L268.9,59.0 L269.5,58.3 L270.2,59.1 L270.9,59.1 L271.5,58.8 L272.2,59.0 L272.9,58.4 L273.5,58.3 L274.2,59.1 L274.9,58.9 L275.5,58.8 L276.2,58.5 L276.9,59.2 L277.5,58.7 L278.2,58.9 L278.9,58.6 L279.5,58.4 L280.2,59.0 L280.9,59.2 L281.6,58.4 L282.2,58.8 L282.9,59.0 L283.6,59.2 L284.2,58.6 L284.9,58.5 L285.6,59.3 L286.2,59.1 L286.9,59.2 L287.6,58.8 L288.2,59.0 L288.9,58.9 L289.6,59.1 L290.2,58.7 L290.9,59.3 L291.6,58.4 L292.2,58.5 L292.9,59.2 L293.6,58.5 L294.2,59.0 L294.9,58.7 L295.6,58.7 L296.2,58.4 L296.9,58.8 L297.6,58.9 L298.2,58.3 L298.9,59.3 L299.6,58.8 L300.2,58.5 L300.9,59.0 L301.6,58.9 L302.2,58.9 L302.9,58.5 L302.9,69.9 L302.2,69.9 L301.6,69.9 L300.9,69.3 L300.2,69.8 L299.6,69.7 L298.9,69.7 L298.2,69.3 L297.6,69.3 L296.9,69.7 L296.2,69.8 L295.6,69.2 L294.9,69.4 L294.2,70.0 L293.6,69.7 L292.9,69.4 L292.2,69.9 L291.6,69.7 L290.9,69.1 L290.2,69.5 L289.6,69.4 L288.9,69.1 L288.2,69.3 L287.6,69.8 L286.9,69.6 L286.2,69.2 L285.6,69.8 L284.9,69.8 L284.2,69.9 L283.6,69.7 L282.9,69.5 L282.2,69.4 L281.6,69.3 L280.9,69.8 L280.2,69.7 L279.5,69.9 L278.9,69.7 L278.2,69.7 L277.5,70.0 L276.9,69.2 L276.2,69.9 L275.5,70.0 L274.9,69.7 L274.2,69.6 L273.5,69.8 L272.9,69.7 L272.2,69.9 L271.5,70.0 L270.9,69.4 L270.2,69.7 L269.5,70.0 L268.9,69.7 L268.2,69.6 L267.5,70.0 L266.9,69.7 L266.2,70.1 L265.5,69.3 L264.9,69.4 L264.2,69.5 L263.5,69.9 L262.9,69.2 L262.2,70.1 L261.5,69.3 L260.9,70.0 L260.2,69.9 L259.5,69.3 L258.9,69.3 L258.2,69.6 Z" fill="#F6E52B" stroke="none" stroke-width="0"/>
<path d="M258.2,59.4 L258.9,59.8 L259.5,59.7 L260.2,59.5 L260.9,59.7 L261.5,59.5 L262.2,59.3 L262.9,59.5 L263.5,60.1 L264.2,59.3 L264.9,59.6 L265.5,59.8 L266.2,59.9 L266.9,59.4 L267.5,59.4 L268.2,59.6 L268.9,59.5 L269.5,59.5 L270.2,59.4 L270.9,59.6 L271.5,59.8 L272.2,60.0 L272.9,60.0 L273.5,59.5 L274.2,59.7 L274.9,60.0 L275.5,59.9 L276.2,59.7 L276.9,59.9 L277.5,59.6 L278.2,60.1 L278.9,59.8 L279.5,59.6 L280.2,59.5 L280.9,59.6 L281.6,59.7 L282.2,60.0 L282.9,59.8 L283.6,59.5 L284.2,59.4 L284.9,59.6 L285.6,60.0 L286.2,59.6 L286.9,59.3 L287.6,59.4 L288.2,59.9 L288.9,59.9 L289.6,59.8 L290.2,59.4 L290.9,59.7 L291.6,60.0 L292.2,60.0 L292.9,60.0 L293.6,59.7 L294.2,60.1 L294.9,59.6 L295.6,59.9 L296.2,59.9 L296.9,59.7 L297.6,59.9 L298.2,59.7 L298.9,59.8 L299.6,59.7 L300.2,59.6 L300.9,59.9 L301.6,59.6 L302.2,60.0 L302.9,59.9 L302.9,68.3 L302.2,68.5 L301.6,68.5 L300.9,68.7 L300.2,68.6 L299.6,68.9 L298.9,68.2 L298.2,68.7 L297.6,68.2 L296.9,68.4 L296.2,68.2 L295.6,68.2 L294.9,68.9 L294.2,68.4 L293.6,68.5 L292.9,68.7 L292.2,68.8 L291.6,68.3 L290.9,68.7 L290.2,68.8 L289.6,68.4 L288.9,68.2 L288.2,68.4 L287.6,68.6 L286.9,68.8 L286.2,68.8 L285.6,68.8 L284.9,68.9 L284.2,68.8 L283.6,68.8 L282.9,68.5 L282.2,68.7 L281.6,68.5 L280.9,68.4 L280.2,68.5 L279.5,68.9 L278.9,68.8 L278.2,68.6 L277.5,68.8 L276.9,68.4 L276.2,68.8 L275.5,68.9 L274.9,68.6 L274.2,68.9 L273.5,68.5 L272.9,68.5 L272.2,68.8 L271.5,68.6 L270.9,68.9 L270.2,69.0 L269.5,68.7 L268.9,68.8 L268.2,68.7 L267.5,68.4 L266.9,68.8 L266.2,68.7 L265.5,68.9 L264.9,68.2 L264.2,68.7 L263.5,68.8 L262.9,68.6 L262.2,68.2 L261.5,68.9 L260.9,68.4 L260.2,68.5 L259.5,68.3 L258.9,68.6 L258.2,68.4 Z" fill="#F2A43A" stroke="none" stroke-width="0"/>
<path d="M258.2,59.7 L258.9,60.1 L259.5,60.0 L260.2,60.3 L260.9,60.0 L261.5,59.7 L262.2,59.8 L262.9,60.0 L263.5,60.2 L264.2,60.3 L264.9,60.1 L265.5,60.4 L266.2,60.2 L266.9,60.4 L267.5,59.8 L268.2,59.9 L268.9,60.3 L269.5,59.7 L270.2,60.1 L270.9,60.4 L271.5,60.0 L272.2,60.1 L272.9,60.0 L273.5,60.4 L274.2,60.4 L274.9,60.0 L275.5,60.2 L276.2,60.3 L276.9,60.4 L277.5,59.8 L278.2,60.3 L278.9,59.9 L279.5,60.2 L280.2,60.1 L280.9,60.3 L281.6,60.2 L282.2,59.7 L282.9,60.3 L283.6,60.0 L284.2,59.7 L284.9,60.1 L285.6,60.0 L286.2,60.1 L286.9,59.8 L287.6,59.9 L288.2,59.9 L288.9,59.8 L289.6,60.3 L290.2,60.1 L290.9,60.0 L291.6,60.3 L292.2,59.9 L292.9,60.0 L293.6,60.3 L294.2,60.0 L294.9,59.7 L295.6,59.8 L296.2,59.7 L296.9,60.4 L297.6,60.2 L298.2,59.7 L298.9,60.4 L299.6,60.4 L300.2,60.2 L300.9,59.8 L301.6,59.7 L302.2,60.0 L302.9,59.9 L302.9,68.5 L302.2,68.2 L301.6,68.5 L300.9,67.9 L300.2,67.9 L299.6,68.0 L298.9,68.4 L298.2,68.2 L297.6,68.4 L296.9,68.0 L296.2,68.4 L295.6,68.0 L294.9,68.1 L294.2,68.6 L293.6,68.3 L292.9,67.9 L292.2,68.5 L291.6,68.0 L290.9,68.3 L290.2,68.5 L289.6,68.1 L288.9,67.9 L288.2,68.0 L287.6,68.2 L286.9,67.9 L286.2,68.3 L285.6,68.3 L284.9,68.0 L284.2,68.5 L283.6,68.0 L282.9,68.2 L282.2,68.3 L281.6,68.4 L280.9,68.2 L280.2,68.6 L279.5,68.0 L278.9,68.4 L278.2,68.5 L277.5,67.9 L276.9,67.9 L276.2,68.5 L275.5,67.9 L274.9,68.5 L274.2,68.6 L273.5,68.5 L272.9,68.5 L272.2,68.6 L271.5,68.6 L270.9,67.9 L270.2,68.4 L269.5,68.1 L268.9,67.9 L268.2,68.4 L267.5,68.2 L266.9,68.5 L266.2,68.2 L265.5,67.9 L264.9,68.3 L264.2,67.9 L263.5,68.0 L262.9,68.2 L262.2,68.6 L261.5,68.3 L260.9,68.5 L260.2,68.1 L259.5,68.5 L258.9,68.3 L258.2,68.0 Z" fill="#CB2229" stroke="none" stroke-width="0"/>
</g>
<line x1="258.20" y1="91.60" x2="259.70" y2="91.60" stroke="#666" stroke-width="0.6"/>
<line x1="301.40" y1="91.60" x2="302.90" y2="91.60" stroke="#666" stroke-width="0.6"/>
<line x1="258.20" y1="76.56" x2="259.70" y2="76.56" stroke="#666" stroke-width="0.6"/>
<line x1="301.40" y1="76.56" x2="302.90" y2="76.56" stroke="#666" stroke-width="0.6"/>
<line x1="258.20" y1="61.52" x2="259.70" y2="61.52" stroke="#666" stroke-width="0.6"/>
<line x1="301.40" y1="61.52" x2="302.90" y2="61.52" stroke="#666" stroke-width="0.6"/>
<line x1="258.20" y1="46.48" x2="259.70" y2="46.48" stroke="#666" stroke-width="0.6"/>
<line x1="301.40" y1="46.48" x2="302.90" y2="46.48" stroke="#666" stroke-width="0.6"/>
<line x1="258.20" y1="31.44" x2="259.70" y2="31.44" stroke="#666" stroke-width="0.6"/>
<line x1="301.40" y1="31.44" x2="302.90" y2="31.44" stroke="#666" stroke-width="0.6"/>
<line x1="258.20" y1="16.40" x2="259.70" y2="16.40" stroke="#666" stroke-width="0.6"/>
<line x1="301.40" y1="16.40" x2="302.90" y2="16.40" stroke="#666" stroke-width="0.6"/>
<line x1="258.20" y1="98.60" x2="258.20" y2="97.10" stroke="#666" stroke-width="0.6"/>
<line x1="258.20" y1="16.30" x2="258.20" y2="17.80" stroke="#666" stroke-width="0.6"/>
<line x1="276.10" y1="98.60" x2="276.10" y2="97.10" stroke="#666" stroke-width="0.6"/>
<line x1="276.10" y1="16.30" x2="276.10" y2="17.80" stroke="#666" stroke-width="0.6"/>
<line x1="294.00" y1="98.60" x2="294.00" y2="97.10" stroke="#666" stroke-width="0.6"/>
<line x1="294.00" y1="16.30" x2="294.00" y2="17.80" stroke="#666" stroke-width="0.6"/>
<rect x="258.20" y="16.30" width="44.70" height="82.30" fill="none" stroke="#7A7A7A" stroke-width="0.8"/>
<text x="282.05" y="11.70" font-size="9.6" fill="#C2125C" font-weight="bold" text-anchor="middle">Na<tspan font-size="5.5" dy="-3.2">+</tspan><tspan dy="3.2">-gluconate</tspan></text>
<text x="298.40" y="24.20" font-size="8.0" fill="#000" text-anchor="end" textLength="22.60" lengthAdjust="spacingAndGlyphs">N=838</text>
<text x="258.50" y="108.20" font-size="8.0" fill="#484848" text-anchor="middle" transform="translate(0 -8.656) scale(1 1.08)">0</text>
<text x="276.40" y="108.20" font-size="8.0" fill="#484848" text-anchor="middle" transform="translate(0 -8.656) scale(1 1.08)">2</text>
<text x="294.30" y="108.20" font-size="8.0" fill="#484848" text-anchor="middle" transform="translate(0 -8.656) scale(1 1.08)">4</text>
<rect x="316.60" y="16.30" width="44.70" height="82.30" fill="#F8F6C7" stroke="none" stroke-width="0"/>
<line x1="316.60" y1="91.60" x2="361.30" y2="91.60" stroke="#E6DFAE" stroke-width="0.6"/>
<line x1="316.60" y1="76.56" x2="361.30" y2="76.56" stroke="#E6DFAE" stroke-width="0.6"/>
<line x1="316.60" y1="61.52" x2="361.30" y2="61.52" stroke="#E6DFAE" stroke-width="0.6"/>
<line x1="316.60" y1="46.48" x2="361.30" y2="46.48" stroke="#E6DFAE" stroke-width="0.6"/>
<line x1="316.60" y1="31.44" x2="361.30" y2="31.44" stroke="#E6DFAE" stroke-width="0.6"/>
<clipPath id="cp111"><rect x="316.60" y="16.3" width="44.7" height="82.3"/></clipPath>
<g clip-path="url(#cp111)">
<path d="M316.6,52.0 L317.3,50.7 L317.9,52.2 L318.6,51.3 L319.3,51.1 L319.9,51.5 L320.6,50.6 L321.3,50.7 L321.9,51.1 L322.6,50.8 L323.3,51.6 L323.9,51.1 L324.6,51.1 L325.3,50.9 L325.9,50.7 L326.6,51.7 L327.3,52.1 L327.9,51.0 L328.6,51.9 L329.3,50.9 L329.9,51.8 L330.6,50.8 L331.3,51.4 L331.9,51.1 L332.6,52.0 L333.3,51.8 L333.9,50.5 L334.6,50.5 L335.3,51.2 L335.9,50.7 L336.6,50.8 L337.3,52.2 L337.9,52.2 L338.6,50.3 L339.3,50.3 L340.0,51.6 L340.6,52.2 L341.3,52.1 L342.0,51.7 L342.6,51.8 L343.3,51.3 L344.0,51.3 L344.6,52.0 L345.3,50.5 L346.0,51.7 L346.6,51.7 L347.3,50.6 L348.0,51.8 L348.6,50.6 L349.3,52.2 L350.0,51.8 L350.6,51.2 L351.3,51.5 L352.0,52.2 L352.6,51.0 L353.3,50.7 L354.0,51.7 L354.6,52.1 L355.3,50.6 L356.0,51.8 L356.6,51.1 L357.3,51.7 L358.0,51.3 L358.6,52.2 L359.3,51.5 L360.0,52.2 L360.6,52.2 L361.3,50.6 L361.3,75.7 L360.6,76.0 L360.0,76.7 L359.3,76.6 L358.6,76.2 L358.0,77.3 L357.3,76.9 L356.6,77.3 L356.0,76.5 L355.3,75.9 L354.6,75.5 L354.0,77.3 L353.3,75.7 L352.6,76.6 L352.0,76.7 L351.3,76.6 L350.6,77.2 L350.0,75.7 L349.3,76.7 L348.6,76.1 L348.0,77.4 L347.3,76.8 L346.6,76.3 L346.0,76.6 L345.3,76.0 L344.6,76.3 L344.0,76.1 L343.3,76.6 L342.6,76.7 L342.0,76.8 L341.3,75.9 L340.6,76.2 L340.0,76.2 L339.3,75.6 L338.6,75.7 L337.9,77.1 L337.3,76.3 L336.6,77.4 L335.9,75.9 L335.3,75.6 L334.6,76.4 L333.9,77.0 L333.3,77.2 L332.6,75.8 L331.9,77.4 L331.3,75.7 L330.6,76.0 L329.9,75.7 L329.3,75.9 L328.6,76.3 L327.9,77.5 L327.3,76.5 L326.6,77.0 L325.9,76.7 L325.3,76.9 L324.6,76.2 L323.9,77.2 L323.3,76.7 L322.6,75.6 L321.9,77.2 L321.3,76.2 L320.6,75.6 L319.9,75.6 L319.3,76.0 L318.6,76.7 L317.9,75.8 L317.3,77.0 L316.6,77.4 Z" fill="#FFFFFF" stroke="none" stroke-width="0" fill-opacity="0.8"/>
<path d="M316.6,54.0 L317.3,53.7 L317.9,53.7 L318.6,53.8 L319.3,54.5 L319.9,54.3 L320.6,54.4 L321.3,54.2 L321.9,54.1 L322.6,54.5 L323.3,54.0 L323.9,53.9 L324.6,53.9 L325.3,53.7 L325.9,53.7 L326.6,53.9 L327.3,54.3 L327.9,53.8 L328.6,54.1 L329.3,53.9 L329.9,54.4 L330.6,53.9 L331.3,54.1 L331.9,54.4 L332.6,54.4 L333.3,54.5 L333.9,53.7 L334.6,54.1 L335.3,53.8 L335.9,54.5 L336.6,53.9 L337.3,54.5 L337.9,54.2 L338.6,54.4 L339.3,54.4 L340.0,54.5 L340.6,54.5 L341.3,54.1 L342.0,54.3 L342.6,54.6 L343.3,54.4 L344.0,54.1 L344.6,54.5 L345.3,54.4 L346.0,54.1 L346.6,54.1 L347.3,54.1 L348.0,54.6 L348.6,53.9 L349.3,54.6 L350.0,53.8 L350.6,53.9 L351.3,54.4 L352.0,54.4 L352.6,54.0 L353.3,53.9 L354.0,54.2 L354.6,54.4 L355.3,54.0 L356.0,54.1 L356.6,54.1 L357.3,54.5 L358.0,54.6 L358.6,54.3 L359.3,53.9 L360.0,54.1 L360.6,54.1 L361.3,54.3 L361.3,73.9 L360.6,73.8 L360.0,73.3 L359.3,73.5 L358.6,73.9 L358.0,73.3 L357.3,73.5 L356.6,73.4 L356.0,73.8 L355.3,73.9 L354.6,74.1 L354.0,74.2 L353.3,73.9 L352.6,74.2 L352.0,73.5 L351.3,74.0 L350.6,73.6 L350.0,74.2 L349.3,73.8 L348.6,73.8 L348.0,74.2 L347.3,74.1 L346.6,74.1 L346.0,74.0 L345.3,73.3 L344.6,73.5 L344.0,73.7 L343.3,73.3 L342.6,73.5 L342.0,74.0 L341.3,74.1 L340.6,74.1 L340.0,73.6 L339.3,74.0 L338.6,73.5 L337.9,74.0 L337.3,73.5 L336.6,73.3 L335.9,73.3 L335.3,73.9 L334.6,73.5 L333.9,74.0 L333.3,73.4 L332.6,74.2 L331.9,73.8 L331.3,73.6 L330.6,73.7 L329.9,74.1 L329.3,73.7 L328.6,73.4 L327.9,73.9 L327.3,73.3 L326.6,73.3 L325.9,73.7 L325.3,73.3 L324.6,73.5 L323.9,73.9 L323.3,74.1 L322.6,73.9 L321.9,73.3 L321.3,73.3 L320.6,73.5 L319.9,73.7 L319.3,74.2 L318.6,73.8 L317.9,73.8 L317.3,73.9 L316.6,73.6 Z" fill="#C9DBF2" stroke="none" stroke-width="0"/>
<path d="M316.6,54.1 L317.3,54.3 L317.9,55.1 L318.6,54.8 L319.3,54.9 L319.9,54.3 L320.6,54.1 L321.3,54.8 L321.9,54.7 L322.6,54.7 L323.3,54.1 L323.9,54.7 L324.6,55.0 L325.3,54.6 L325.9,54.6 L326.6,54.2 L327.3,54.5 L327.9,54.3 L328.6,54.1 L329.3,55.2 L329.9,54.3 L330.6,54.1 L331.3,54.7 L331.9,54.2 L332.6,55.0 L333.3,54.3 L333.9,54.4 L334.6,54.4 L335.3,54.0 L335.9,55.0 L336.6,54.7 L337.3,54.7 L337.9,55.1 L338.6,54.1 L339.3,55.0 L340.0,54.4 L340.6,55.1 L341.3,55.2 L342.0,54.5 L342.6,55.0 L343.3,54.5 L344.0,54.1 L344.6,54.5 L345.3,54.8 L346.0,54.6 L346.6,54.6 L347.3,54.1 L348.0,54.7 L348.6,54.9 L349.3,54.7 L350.0,54.3 L350.6,54.9 L351.3,54.9 L352.0,54.4 L352.6,54.4 L353.3,54.5 L354.0,54.7 L354.6,55.1 L355.3,54.9 L356.0,54.0 L356.6,54.3 L357.3,54.7 L358.0,55.1 L358.6,54.8 L359.3,55.0 L360.0,54.2 L360.6,54.3 L361.3,54.4 L361.3,73.3 L360.6,72.8 L360.0,72.7 L359.3,73.6 L358.6,72.8 L358.0,72.9 L357.3,73.5 L356.6,73.4 L356.0,73.5 L355.3,73.4 L354.6,73.1 L354.0,73.7 L353.3,72.7 L352.6,73.4 L352.0,72.7 L351.3,73.6 L350.6,72.8 L350.0,73.0 L349.3,73.6 L348.6,73.5 L348.0,72.8 L347.3,73.6 L346.6,73.9 L346.0,73.3 L345.3,72.8 L344.6,73.1 L344.0,73.4 L343.3,73.4 L342.6,72.9 L342.0,72.9 L341.3,73.7 L340.6,73.4 L340.0,73.6 L339.3,72.8 L338.6,73.2 L337.9,72.7 L337.3,73.3 L336.6,73.0 L335.9,72.9 L335.3,73.5 L334.6,73.1 L333.9,73.3 L333.3,73.9 L332.6,73.0 L331.9,73.2 L331.3,73.4 L330.6,73.1 L329.9,73.2 L329.3,73.4 L328.6,73.7 L327.9,73.2 L327.3,73.2 L326.6,73.8 L325.9,73.8 L325.3,72.7 L324.6,72.8 L323.9,73.7 L323.3,73.0 L322.6,73.0 L321.9,73.4 L321.3,73.3 L320.6,72.7 L319.9,73.5 L319.3,73.5 L318.6,73.5 L317.9,73.5 L317.3,73.6 L316.6,72.8 Z" fill="#2F4FA0" stroke="none" stroke-width="0"/>
<path d="M316.6,56.0 L317.3,55.4 L317.9,55.6 L318.6,55.3 L319.3,56.1 L319.9,55.4 L320.6,55.7 L321.3,55.6 L321.9,55.3 L322.6,56.2 L323.3,55.4 L323.9,55.3 L324.6,55.9 L325.3,55.3 L325.9,55.6 L326.6,55.6 L327.3,55.6 L327.9,56.2 L328.6,56.2 L329.3,55.9 L329.9,55.8 L330.6,55.9 L331.3,56.2 L331.9,55.6 L332.6,55.7 L333.3,56.0 L333.9,55.7 L334.6,55.6 L335.3,56.0 L335.9,55.9 L336.6,55.4 L337.3,55.6 L337.9,55.4 L338.6,55.8 L339.3,56.2 L340.0,55.9 L340.6,55.8 L341.3,55.3 L342.0,55.6 L342.6,56.2 L343.3,55.9 L344.0,56.1 L344.6,55.5 L345.3,55.3 L346.0,55.3 L346.6,55.5 L347.3,55.6 L348.0,55.7 L348.6,55.6 L349.3,56.1 L350.0,55.9 L350.6,55.9 L351.3,55.3 L352.0,56.3 L352.6,55.8 L353.3,55.6 L354.0,56.0 L354.6,56.2 L355.3,55.5 L356.0,55.8 L356.6,55.9 L357.3,55.6 L358.0,55.4 L358.6,55.4 L359.3,55.5 L360.0,56.2 L360.6,56.0 L361.3,55.6 L361.3,71.9 L360.6,71.9 L360.0,72.1 L359.3,71.8 L358.6,72.4 L358.0,72.4 L357.3,72.0 L356.6,72.1 L356.0,72.3 L355.3,71.6 L354.6,71.5 L354.0,72.3 L353.3,72.2 L352.6,72.2 L352.0,72.2 L351.3,72.0 L350.6,72.3 L350.0,72.0 L349.3,72.1 L348.6,71.9 L348.0,71.7 L347.3,72.1 L346.6,71.8 L346.0,72.3 L345.3,71.6 L344.6,72.4 L344.0,71.6 L343.3,72.2 L342.6,71.8 L342.0,71.5 L341.3,72.3 L340.6,72.5 L340.0,71.8 L339.3,72.0 L338.6,71.9 L337.9,72.4 L337.3,72.3 L336.6,72.4 L335.9,72.3 L335.3,72.5 L334.6,72.0 L333.9,71.8 L333.3,72.2 L332.6,71.7 L331.9,71.6 L331.3,72.2 L330.6,71.6 L329.9,72.4 L329.3,72.3 L328.6,72.1 L327.9,71.6 L327.3,72.1 L326.6,72.2 L325.9,72.3 L325.3,72.4 L324.6,72.4 L323.9,71.9 L323.3,71.5 L322.6,72.2 L321.9,71.9 L321.3,72.4 L320.6,71.6 L319.9,72.4 L319.3,71.6 L318.6,72.1 L317.9,72.3 L317.3,71.9 L316.6,72.5 Z" fill="#5B80C6" stroke="none" stroke-width="0"/>
<path d="M316.6,56.9 L317.3,57.2 L317.9,57.2 L318.6,57.3 L319.3,57.3 L319.9,57.5 L320.6,56.8 L321.3,56.8 L321.9,56.9 L322.6,57.7 L323.3,57.4 L323.9,57.4 L324.6,57.5 L325.3,56.8 L325.9,57.7 L326.6,57.4 L327.3,56.8 L327.9,56.8 L328.6,57.7 L329.3,57.3 L329.9,57.2 L330.6,57.0 L331.3,57.1 L331.9,57.3 L332.6,57.5 L333.3,57.1 L333.9,57.7 L334.6,57.5 L335.3,56.7 L335.9,57.5 L336.6,57.3 L337.3,57.2 L337.9,56.9 L338.6,56.8 L339.3,57.0 L340.0,56.8 L340.6,57.2 L341.3,57.7 L342.0,57.5 L342.6,56.9 L343.3,57.3 L344.0,56.8 L344.6,57.2 L345.3,57.1 L346.0,57.0 L346.6,56.8 L347.3,57.5 L348.0,57.0 L348.6,57.6 L349.3,57.4 L350.0,56.9 L350.6,57.3 L351.3,57.4 L352.0,57.2 L352.6,57.2 L353.3,57.0 L354.0,57.7 L354.6,56.8 L355.3,57.1 L356.0,56.8 L356.6,57.4 L357.3,57.5 L358.0,56.8 L358.6,57.5 L359.3,57.7 L360.0,56.9 L360.6,57.0 L361.3,56.7 L361.3,70.0 L360.6,70.7 L360.0,70.3 L359.3,70.7 L358.6,70.7 L358.0,70.7 L357.3,70.3 L356.6,70.5 L356.0,70.1 L355.3,70.3 L354.6,71.0 L354.0,71.0 L353.3,70.8 L352.6,70.3 L352.0,70.2 L351.3,70.8 L350.6,70.8 L350.0,70.1 L349.3,70.7 L348.6,70.3 L348.0,70.1 L347.3,71.0 L346.6,70.4 L346.0,70.2 L345.3,70.9 L344.6,70.2 L344.0,70.2 L343.3,70.8 L342.6,70.4 L342.0,70.0 L341.3,70.3 L340.6,70.3 L340.0,71.0 L339.3,70.9 L338.6,70.6 L337.9,70.0 L337.3,70.7 L336.6,70.1 L335.9,70.3 L335.3,70.9 L334.6,70.0 L333.9,70.9 L333.3,70.3 L332.6,70.8 L331.9,70.8 L331.3,70.9 L330.6,71.0 L329.9,70.7 L329.3,70.9 L328.6,70.3 L327.9,70.8 L327.3,70.5 L326.6,70.8 L325.9,70.7 L325.3,70.5 L324.6,70.3 L323.9,70.7 L323.3,70.4 L322.6,70.8 L321.9,70.4 L321.3,70.7 L320.6,71.0 L319.9,70.2 L319.3,70.7 L318.6,70.1 L317.9,70.2 L317.3,70.6 L316.6,70.4 Z" fill="#86BD4C" stroke="none" stroke-width="0"/>
<path d="M316.6,58.2 L317.3,58.8 L317.9,58.5 L318.6,58.3 L319.3,57.9 L319.9,58.2 L320.6,58.5 L321.3,57.9 L321.9,58.1 L322.6,58.5 L323.3,58.1 L323.9,58.8 L324.6,57.9 L325.3,58.6 L325.9,58.0 L326.6,58.8 L327.3,58.7 L327.9,58.1 L328.6,58.8 L329.3,58.6 L329.9,58.6 L330.6,58.2 L331.3,58.0 L331.9,58.5 L332.6,58.4 L333.3,58.0 L333.9,58.7 L334.6,58.4 L335.3,58.0 L335.9,58.5 L336.6,58.5 L337.3,58.7 L337.9,58.2 L338.6,57.9 L339.3,58.2 L340.0,58.8 L340.6,58.3 L341.3,58.7 L342.0,58.0 L342.6,57.9 L343.3,58.6 L344.0,58.6 L344.6,58.3 L345.3,58.1 L346.0,58.1 L346.6,58.7 L347.3,58.2 L348.0,58.5 L348.6,58.5 L349.3,58.8 L350.0,58.4 L350.6,58.0 L351.3,58.2 L352.0,58.2 L352.6,58.4 L353.3,58.8 L354.0,58.4 L354.6,58.4 L355.3,58.5 L356.0,58.5 L356.6,58.4 L357.3,58.7 L358.0,58.6 L358.6,58.4 L359.3,58.2 L360.0,58.2 L360.6,58.1 L361.3,58.2 L361.3,69.0 L360.6,69.1 L360.0,68.7 L359.3,68.6 L358.6,69.1 L358.0,69.3 L357.3,69.1 L356.6,68.8 L356.0,69.3 L355.3,69.0 L354.6,69.5 L354.0,68.5 L353.3,68.9 L352.6,68.6 L352.0,69.1 L351.3,68.5 L350.6,68.5 L350.0,69.4 L349.3,68.7 L348.6,68.5 L348.0,69.2 L347.3,69.4 L346.6,68.6 L346.0,69.5 L345.3,68.7 L344.6,68.8 L344.0,69.1 L343.3,68.7 L342.6,69.0 L342.0,68.8 L341.3,68.9 L340.6,69.4 L340.0,69.1 L339.3,69.3 L338.6,68.7 L337.9,68.7 L337.3,68.5 L336.6,68.6 L335.9,68.7 L335.3,69.0 L334.6,69.0 L333.9,68.7 L333.3,68.7 L332.6,68.6 L331.9,68.5 L331.3,68.6 L330.6,69.2 L329.9,69.1 L329.3,69.2 L328.6,68.9 L327.9,69.3 L327.3,69.2 L326.6,69.2 L325.9,68.5 L325.3,69.4 L324.6,69.1 L323.9,68.7 L323.3,69.0 L322.6,69.0 L321.9,69.1 L321.3,69.5 L320.6,68.6 L319.9,69.1 L319.3,69.4 L318.6,69.3 L317.9,68.6 L317.3,69.0 L316.6,69.2 Z" fill="#F6E52B" stroke="none" stroke-width="0"/>
<path d="M316.6,59.0 L317.3,59.3 L317.9,59.3 L318.6,58.8 L319.3,59.5 L319.9,58.8 L320.6,59.4 L321.3,58.8 L321.9,58.9 L322.6,59.3 L323.3,59.5 L323.9,58.9 L324.6,59.0 L325.3,58.9 L325.9,59.5 L326.6,59.2 L327.3,59.1 L327.9,59.1 L328.6,59.1 L329.3,59.5 L329.9,59.3 L330.6,58.9 L331.3,59.1 L331.9,58.9 L332.6,59.2 L333.3,59.2 L333.9,59.1 L334.6,58.8 L335.3,59.2 L335.9,59.3 L336.6,59.3 L337.3,59.0 L337.9,59.1 L338.6,59.5 L339.3,59.2 L340.0,59.3 L340.6,59.0 L341.3,59.4 L342.0,58.9 L342.6,58.9 L343.3,59.1 L344.0,59.2 L344.6,58.9 L345.3,59.0 L346.0,59.5 L346.6,59.1 L347.3,58.8 L348.0,58.8 L348.6,59.5 L349.3,58.8 L350.0,58.9 L350.6,59.1 L351.3,58.8 L352.0,59.1 L352.6,59.0 L353.3,59.1 L354.0,59.1 L354.6,58.9 L355.3,58.8 L356.0,59.1 L356.6,59.5 L357.3,58.9 L358.0,59.5 L358.6,59.3 L359.3,58.9 L360.0,59.1 L360.6,58.8 L361.3,59.5 L361.3,68.1 L360.6,68.2 L360.0,68.1 L359.3,67.5 L358.6,67.8 L358.0,67.8 L357.3,67.9 L356.6,67.9 L356.0,67.5 L355.3,68.0 L354.6,67.8 L354.0,68.0 L353.3,67.9 L352.6,68.0 L352.0,67.7 L351.3,67.5 L350.6,67.9 L350.0,68.0 L349.3,67.7 L348.6,67.7 L348.0,67.8 L347.3,67.7 L346.6,67.6 L346.0,67.6 L345.3,68.2 L344.6,68.2 L344.0,68.2 L343.3,67.6 L342.6,68.2 L342.0,67.6 L341.3,67.6 L340.6,68.1 L340.0,67.6 L339.3,67.6 L338.6,67.6 L337.9,68.0 L337.3,68.2 L336.6,68.1 L335.9,67.8 L335.3,67.8 L334.6,68.0 L333.9,67.5 L333.3,67.5 L332.6,67.7 L331.9,67.6 L331.3,67.7 L330.6,68.1 L329.9,68.2 L329.3,68.1 L328.6,68.0 L327.9,67.7 L327.3,68.2 L326.6,67.9 L325.9,67.6 L325.3,67.6 L324.6,68.0 L323.9,68.0 L323.3,67.9 L322.6,68.0 L321.9,68.2 L321.3,67.8 L320.6,67.7 L319.9,67.6 L319.3,68.2 L318.6,67.8 L317.9,67.7 L317.3,67.5 L316.6,68.0 Z" fill="#F2A43A" stroke="none" stroke-width="0"/>
<path d="M316.6,59.5 L317.3,59.6 L317.9,59.4 L318.6,59.2 L319.3,59.9 L319.9,59.5 L320.6,59.4 L321.3,59.7 L321.9,59.4 L322.6,59.7 L323.3,59.6 L323.9,59.3 L324.6,59.9 L325.3,59.9 L325.9,59.3 L326.6,59.5 L327.3,59.9 L327.9,59.3 L328.6,59.4 L329.3,59.9 L329.9,59.6 L330.6,59.9 L331.3,59.8 L331.9,59.2 L332.6,59.5 L333.3,59.6 L333.9,59.7 L334.6,59.5 L335.3,59.5 L335.9,59.9 L336.6,59.7 L337.3,59.8 L337.9,59.4 L338.6,59.6 L339.3,59.4 L340.0,59.7 L340.6,59.3 L341.3,59.6 L342.0,59.9 L342.6,59.8 L343.3,59.9 L344.0,59.9 L344.6,59.3 L345.3,59.2 L346.0,59.8 L346.6,59.8 L347.3,59.1 L348.0,59.2 L348.6,59.4 L349.3,59.6 L350.0,59.4 L350.6,59.4 L351.3,59.8 L352.0,59.3 L352.6,59.4 L353.3,59.7 L354.0,59.3 L354.6,59.9 L355.3,59.6 L356.0,59.6 L356.6,59.1 L357.3,59.5 L358.0,59.5 L358.6,59.8 L359.3,59.4 L360.0,59.3 L360.6,59.5 L361.3,59.5 L361.3,67.7 L360.6,67.7 L360.0,67.5 L359.3,67.7 L358.6,67.4 L358.0,67.8 L357.3,67.5 L356.6,67.4 L356.0,67.2 L355.3,67.5 L354.6,67.3 L354.0,67.7 L353.3,67.9 L352.6,67.6 L352.0,67.3 L351.3,67.3 L350.6,67.6 L350.0,67.6 L349.3,67.5 L348.6,67.3 L348.0,67.5 L347.3,67.8 L346.6,67.9 L346.0,67.4 L345.3,67.5 L344.6,67.4 L344.0,67.4 L343.3,67.6 L342.6,67.4 L342.0,67.5 L341.3,67.3 L340.6,67.9 L340.0,67.7 L339.3,67.7 L338.6,67.5 L337.9,67.2 L337.3,67.7 L336.6,67.8 L335.9,67.3 L335.3,67.7 L334.6,67.4 L333.9,67.1 L333.3,67.1 L332.6,67.6 L331.9,67.8 L331.3,67.6 L330.6,67.6 L329.9,67.5 L329.3,67.8 L328.6,67.7 L327.9,67.2 L327.3,67.7 L326.6,67.5 L325.9,67.2 L325.3,67.4 L324.6,67.1 L323.9,67.6 L323.3,67.4 L322.6,67.5 L321.9,67.3 L321.3,67.7 L320.6,67.3 L319.9,67.2 L319.3,67.6 L318.6,67.9 L317.9,67.8 L317.3,67.3 L316.6,67.2 Z" fill="#CB2229" stroke="none" stroke-width="0"/>
</g>
<line x1="316.60" y1="91.60" x2="318.10" y2="91.60" stroke="#666" stroke-width="0.6"/>
<line x1="359.80" y1="91.60" x2="361.30" y2="91.60" stroke="#666" stroke-width="0.6"/>
<line x1="316.60" y1="76.56" x2="318.10" y2="76.56" stroke="#666" stroke-width="0.6"/>
<line x1="359.80" y1="76.56" x2="361.30" y2="76.56" stroke="#666" stroke-width="0.6"/>
<line x1="316.60" y1="61.52" x2="318.10" y2="61.52" stroke="#666" stroke-width="0.6"/>
<line x1="359.80" y1="61.52" x2="361.30" y2="61.52" stroke="#666" stroke-width="0.6"/>
<line x1="316.60" y1="46.48" x2="318.10" y2="46.48" stroke="#666" stroke-width="0.6"/>
<line x1="359.80" y1="46.48" x2="361.30" y2="46.48" stroke="#666" stroke-width="0.6"/>
<line x1="316.60" y1="31.44" x2="318.10" y2="31.44" stroke="#666" stroke-width="0.6"/>
<line x1="359.80" y1="31.44" x2="361.30" y2="31.44" stroke="#666" stroke-width="0.6"/>
<line x1="316.60" y1="16.40" x2="318.10" y2="16.40" stroke="#666" stroke-width="0.6"/>
<line x1="359.80" y1="16.40" x2="361.30" y2="16.40" stroke="#666" stroke-width="0.6"/>
<line x1="316.60" y1="98.60" x2="316.60" y2="97.10" stroke="#666" stroke-width="0.6"/>
<line x1="316.60" y1="16.30" x2="316.60" y2="17.80" stroke="#666" stroke-width="0.6"/>
<line x1="334.50" y1="98.60" x2="334.50" y2="97.10" stroke="#666" stroke-width="0.6"/>
<line x1="334.50" y1="16.30" x2="334.50" y2="17.80" stroke="#666" stroke-width="0.6"/>
<line x1="352.40" y1="98.60" x2="352.40" y2="97.10" stroke="#666" stroke-width="0.6"/>
<line x1="352.40" y1="16.30" x2="352.40" y2="17.80" stroke="#666" stroke-width="0.6"/>
<rect x="316.60" y="16.30" width="44.70" height="82.30" fill="none" stroke="#7A7A7A" stroke-width="0.8"/>
<text x="339.35" y="11.70" font-size="9.6" fill="#235947" font-weight="bold" text-anchor="middle">NaCl</text>
<text x="356.80" y="24.20" font-size="8.0" fill="#000" text-anchor="end" textLength="22.60" lengthAdjust="spacingAndGlyphs">N=675</text>
<text x="316.90" y="108.20" font-size="8.0" fill="#484848" text-anchor="middle" transform="translate(0 -8.656) scale(1 1.08)">0</text>
<text x="334.80" y="108.20" font-size="8.0" fill="#484848" text-anchor="middle" transform="translate(0 -8.656) scale(1 1.08)">2</text>
<text x="352.70" y="108.20" font-size="8.0" fill="#484848" text-anchor="middle" transform="translate(0 -8.656) scale(1 1.08)">4</text>
<rect x="375.00" y="16.30" width="44.70" height="82.30" fill="#F8F6C7" stroke="none" stroke-width="0"/>
<line x1="375.00" y1="91.60" x2="419.70" y2="91.60" stroke="#E6DFAE" stroke-width="0.6"/>
<line x1="375.00" y1="76.56" x2="419.70" y2="76.56" stroke="#E6DFAE" stroke-width="0.6"/>
<line x1="375.00" y1="61.52" x2="419.70" y2="61.52" stroke="#E6DFAE" stroke-width="0.6"/>
<line x1="375.00" y1="46.48" x2="419.70" y2="46.48" stroke="#E6DFAE" stroke-width="0.6"/>
<line x1="375.00" y1="31.44" x2="419.70" y2="31.44" stroke="#E6DFAE" stroke-width="0.6"/>
<clipPath id="cp112"><rect x="375.00" y="16.3" width="44.7" height="82.3"/></clipPath>
<g clip-path="url(#cp112)">
<path d="M375.0,52.1 L375.7,52.5 L376.3,52.4 L377.0,52.5 L377.7,53.0 L378.3,52.7 L379.0,51.5 L379.7,51.6 L380.3,52.1 L381.0,51.9 L381.7,53.1 L382.3,52.6 L383.0,52.1 L383.7,51.9 L384.3,51.6 L385.0,52.4 L385.7,53.0 L386.3,51.5 L387.0,52.1 L387.7,51.8 L388.3,52.4 L389.0,51.7 L389.7,51.3 L390.3,52.5 L391.0,51.8 L391.7,52.4 L392.3,53.0 L393.0,52.3 L393.7,53.0 L394.3,52.8 L395.0,51.3 L395.7,51.6 L396.3,52.5 L397.0,52.1 L397.7,51.2 L398.4,52.8 L399.0,52.4 L399.7,52.0 L400.4,52.2 L401.0,51.5 L401.7,52.3 L402.4,51.4 L403.0,52.5 L403.7,53.0 L404.4,51.6 L405.0,51.7 L405.7,52.3 L406.4,52.9 L407.0,51.5 L407.7,51.9 L408.4,52.4 L409.0,51.5 L409.7,51.3 L410.4,52.6 L411.0,52.4 L411.7,52.3 L412.4,52.2 L413.0,51.4 L413.7,52.1 L414.4,52.1 L415.0,52.2 L415.7,51.5 L416.4,51.3 L417.0,52.2 L417.7,52.5 L418.4,52.5 L419.0,53.0 L419.7,51.9 L419.7,76.7 L419.0,76.6 L418.4,78.1 L417.7,77.7 L417.0,78.1 L416.4,77.4 L415.7,76.4 L415.0,76.4 L414.4,76.8 L413.7,77.5 L413.0,77.3 L412.4,77.1 L411.7,77.1 L411.0,76.4 L410.4,76.9 L409.7,77.2 L409.0,77.5 L408.4,76.7 L407.7,76.8 L407.0,77.9 L406.4,76.8 L405.7,77.3 L405.0,77.2 L404.4,77.3 L403.7,77.9 L403.0,76.5 L402.4,77.1 L401.7,77.7 L401.0,77.5 L400.4,77.1 L399.7,78.0 L399.0,77.6 L398.4,77.9 L397.7,78.1 L397.0,77.6 L396.3,78.0 L395.7,76.9 L395.0,77.6 L394.3,78.1 L393.7,77.9 L393.0,77.1 L392.3,77.4 L391.7,77.9 L391.0,78.1 L390.3,76.8 L389.7,77.8 L389.0,78.2 L388.3,77.1 L387.7,77.0 L387.0,78.2 L386.3,76.4 L385.7,77.0 L385.0,76.9 L384.3,76.7 L383.7,77.8 L383.0,77.4 L382.3,76.9 L381.7,76.4 L381.0,77.1 L380.3,77.7 L379.7,77.8 L379.0,77.4 L378.3,76.4 L377.7,78.0 L377.0,77.6 L376.3,77.3 L375.7,76.9 L375.0,77.0 Z" fill="#FFFFFF" stroke="none" stroke-width="0" fill-opacity="0.8"/>
<path d="M375.0,54.7 L375.7,54.4 L376.3,54.4 L377.0,54.8 L377.7,54.1 L378.3,54.9 L379.0,54.2 L379.7,54.6 L380.3,54.7 L381.0,54.6 L381.7,54.7 L382.3,54.3 L383.0,54.2 L383.7,54.7 L384.3,54.9 L385.0,54.1 L385.7,54.1 L386.3,55.0 L387.0,54.1 L387.7,54.1 L388.3,54.5 L389.0,54.3 L389.7,54.7 L390.3,54.5 L391.0,54.8 L391.7,54.1 L392.3,54.2 L393.0,54.2 L393.7,54.8 L394.3,55.0 L395.0,54.4 L395.7,54.2 L396.3,54.1 L397.0,54.2 L397.7,55.0 L398.4,55.0 L399.0,54.9 L399.7,54.2 L400.4,54.1 L401.0,55.0 L401.7,54.7 L402.4,54.9 L403.0,54.9 L403.7,54.9 L404.4,54.0 L405.0,54.9 L405.7,54.6 L406.4,55.0 L407.0,54.2 L407.7,54.4 L408.4,54.1 L409.0,54.8 L409.7,54.6 L410.4,54.9 L411.0,54.6 L411.7,54.8 L412.4,54.4 L413.0,54.1 L413.7,54.1 L414.4,54.1 L415.0,54.0 L415.7,54.7 L416.4,54.7 L417.0,55.0 L417.7,54.8 L418.4,54.2 L419.0,54.2 L419.7,54.4 L419.7,73.0 L419.0,72.8 L418.4,72.1 L417.7,72.3 L417.0,73.0 L416.4,72.1 L415.7,72.5 L415.0,72.7 L414.4,72.7 L413.7,72.3 L413.0,72.9 L412.4,72.8 L411.7,72.1 L411.0,72.5 L410.4,72.0 L409.7,72.2 L409.0,72.4 L408.4,72.8 L407.7,72.4 L407.0,72.7 L406.4,72.2 L405.7,72.8 L405.0,72.6 L404.4,72.8 L403.7,72.5 L403.0,72.6 L402.4,72.4 L401.7,72.9 L401.0,72.6 L400.4,72.8 L399.7,72.0 L399.0,72.0 L398.4,72.7 L397.7,72.5 L397.0,72.9 L396.3,72.4 L395.7,72.6 L395.0,72.0 L394.3,72.1 L393.7,72.7 L393.0,73.0 L392.3,72.8 L391.7,72.0 L391.0,72.2 L390.3,72.4 L389.7,72.7 L389.0,72.2 L388.3,72.4 L387.7,72.8 L387.0,72.9 L386.3,72.5 L385.7,72.9 L385.0,72.5 L384.3,72.6 L383.7,72.1 L383.0,72.1 L382.3,72.3 L381.7,73.0 L381.0,72.6 L380.3,72.6 L379.7,72.6 L379.0,72.6 L378.3,72.6 L377.7,72.4 L377.0,72.7 L376.3,72.8 L375.7,72.1 L375.0,72.3 Z" fill="#C9DBF2" stroke="none" stroke-width="0"/>
<path d="M375.0,55.3 L375.7,55.1 L376.3,54.7 L377.0,55.5 L377.7,54.9 L378.3,55.2 L379.0,55.3 L379.7,54.8 L380.3,55.5 L381.0,54.8 L381.7,55.2 L382.3,54.6 L383.0,54.6 L383.7,54.9 L384.3,54.5 L385.0,55.2 L385.7,54.6 L386.3,54.7 L387.0,55.4 L387.7,55.4 L388.3,55.5 L389.0,55.3 L389.7,54.7 L390.3,54.7 L391.0,55.3 L391.7,55.0 L392.3,55.5 L393.0,55.5 L393.7,54.9 L394.3,54.5 L395.0,55.4 L395.7,55.3 L396.3,55.0 L397.0,55.1 L397.7,55.2 L398.4,55.0 L399.0,54.7 L399.7,54.8 L400.4,55.4 L401.0,55.4 L401.7,55.4 L402.4,55.5 L403.0,54.9 L403.7,54.8 L404.4,55.4 L405.0,54.4 L405.7,55.4 L406.4,54.4 L407.0,55.2 L407.7,54.4 L408.4,54.7 L409.0,54.5 L409.7,55.0 L410.4,54.9 L411.0,55.4 L411.7,54.8 L412.4,55.3 L413.0,55.5 L413.7,55.5 L414.4,54.7 L415.0,55.5 L415.7,54.6 L416.4,54.9 L417.0,55.4 L417.7,55.0 L418.4,54.6 L419.0,54.8 L419.7,54.7 L419.7,72.0 L419.0,72.1 L418.4,71.7 L417.7,72.5 L417.0,72.0 L416.4,71.5 L415.7,72.5 L415.0,71.9 L414.4,72.5 L413.7,72.3 L413.0,72.2 L412.4,72.3 L411.7,72.5 L411.0,71.9 L410.4,71.8 L409.7,71.7 L409.0,72.6 L408.4,71.8 L407.7,71.7 L407.0,72.1 L406.4,72.6 L405.7,71.9 L405.0,72.3 L404.4,72.5 L403.7,72.1 L403.0,72.4 L402.4,71.8 L401.7,71.7 L401.0,72.4 L400.4,72.3 L399.7,72.3 L399.0,72.1 L398.4,72.0 L397.7,71.7 L397.0,71.7 L396.3,72.4 L395.7,72.6 L395.0,72.2 L394.3,71.9 L393.7,72.0 L393.0,71.6 L392.3,72.3 L391.7,71.9 L391.0,71.6 L390.3,72.6 L389.7,72.5 L389.0,71.8 L388.3,71.8 L387.7,71.5 L387.0,71.9 L386.3,72.0 L385.7,71.8 L385.0,72.5 L384.3,72.5 L383.7,72.1 L383.0,72.2 L382.3,72.2 L381.7,72.5 L381.0,72.1 L380.3,72.0 L379.7,71.7 L379.0,72.0 L378.3,71.7 L377.7,72.6 L377.0,72.2 L376.3,72.6 L375.7,72.3 L375.0,72.5 Z" fill="#2F4FA0" stroke="none" stroke-width="0"/>
<path d="M375.0,56.0 L375.7,55.7 L376.3,56.4 L377.0,56.5 L377.7,56.6 L378.3,56.5 L379.0,56.1 L379.7,56.2 L380.3,56.5 L381.0,55.6 L381.7,55.6 L382.3,56.1 L383.0,56.4 L383.7,56.2 L384.3,55.6 L385.0,56.1 L385.7,56.1 L386.3,56.3 L387.0,55.6 L387.7,56.2 L388.3,56.0 L389.0,56.1 L389.7,56.3 L390.3,55.9 L391.0,55.8 L391.7,55.7 L392.3,56.3 L393.0,56.3 L393.7,55.9 L394.3,56.2 L395.0,56.3 L395.7,56.3 L396.3,55.9 L397.0,56.0 L397.7,56.0 L398.4,55.7 L399.0,56.2 L399.7,55.8 L400.4,56.2 L401.0,56.2 L401.7,55.9 L402.4,55.9 L403.0,56.4 L403.7,56.1 L404.4,56.5 L405.0,56.5 L405.7,56.2 L406.4,56.3 L407.0,56.2 L407.7,56.1 L408.4,56.0 L409.0,56.2 L409.7,56.3 L410.4,55.7 L411.0,56.3 L411.7,56.5 L412.4,56.6 L413.0,56.2 L413.7,56.5 L414.4,56.1 L415.0,55.6 L415.7,56.1 L416.4,56.3 L417.0,55.9 L417.7,56.0 L418.4,56.2 L419.0,56.2 L419.7,56.2 L419.7,70.3 L419.0,70.3 L418.4,71.0 L417.7,71.2 L417.0,70.8 L416.4,70.7 L415.7,70.7 L415.0,70.3 L414.4,70.4 L413.7,70.4 L413.0,70.6 L412.4,70.6 L411.7,70.3 L411.0,70.2 L410.4,70.6 L409.7,70.3 L409.0,70.5 L408.4,70.6 L407.7,70.6 L407.0,70.3 L406.4,70.8 L405.7,70.2 L405.0,71.0 L404.4,71.1 L403.7,70.5 L403.0,70.8 L402.4,70.7 L401.7,70.4 L401.0,70.3 L400.4,70.3 L399.7,70.4 L399.0,70.7 L398.4,71.1 L397.7,70.3 L397.0,70.7 L396.3,71.2 L395.7,70.9 L395.0,70.2 L394.3,70.4 L393.7,71.2 L393.0,70.9 L392.3,70.4 L391.7,70.5 L391.0,70.3 L390.3,70.9 L389.7,70.8 L389.0,70.5 L388.3,71.1 L387.7,71.1 L387.0,70.7 L386.3,70.2 L385.7,70.7 L385.0,71.1 L384.3,70.3 L383.7,71.2 L383.0,70.9 L382.3,70.2 L381.7,70.9 L381.0,70.5 L380.3,70.7 L379.7,70.4 L379.0,70.2 L378.3,70.6 L377.7,70.2 L377.0,70.4 L376.3,71.0 L375.7,70.7 L375.0,70.8 Z" fill="#5B80C6" stroke="none" stroke-width="0"/>
<path d="M375.0,57.1 L375.7,57.0 L376.3,57.7 L377.0,57.4 L377.7,57.5 L378.3,57.4 L379.0,57.6 L379.7,57.7 L380.3,57.3 L381.0,57.6 L381.7,57.4 L382.3,57.9 L383.0,57.6 L383.7,57.3 L384.3,57.5 L385.0,57.9 L385.7,57.9 L386.3,57.7 L387.0,57.9 L387.7,57.7 L388.3,57.4 L389.0,57.2 L389.7,57.1 L390.3,57.6 L391.0,57.7 L391.7,57.1 L392.3,57.9 L393.0,57.6 L393.7,57.7 L394.3,57.9 L395.0,57.2 L395.7,57.2 L396.3,57.1 L397.0,57.5 L397.7,57.8 L398.4,57.4 L399.0,57.2 L399.7,57.2 L400.4,57.2 L401.0,57.7 L401.7,57.6 L402.4,57.5 L403.0,57.9 L403.7,57.3 L404.4,57.5 L405.0,57.8 L405.7,57.2 L406.4,57.9 L407.0,57.9 L407.7,57.1 L408.4,57.2 L409.0,57.9 L409.7,57.8 L410.4,57.5 L411.0,57.0 L411.7,57.8 L412.4,57.7 L413.0,57.2 L413.7,57.0 L414.4,57.2 L415.0,57.9 L415.7,57.4 L416.4,57.8 L417.0,57.9 L417.7,57.3 L418.4,57.0 L419.0,57.0 L419.7,57.7 L419.7,69.0 L419.0,68.6 L418.4,69.5 L417.7,68.8 L417.0,68.8 L416.4,69.2 L415.7,68.8 L415.0,68.6 L414.4,69.2 L413.7,69.2 L413.0,69.1 L412.4,69.0 L411.7,69.2 L411.0,69.5 L410.4,69.0 L409.7,69.5 L409.0,69.0 L408.4,69.5 L407.7,68.7 L407.0,68.9 L406.4,69.1 L405.7,68.9 L405.0,69.4 L404.4,69.2 L403.7,69.1 L403.0,69.3 L402.4,68.9 L401.7,69.4 L401.0,69.4 L400.4,68.6 L399.7,69.0 L399.0,68.6 L398.4,69.5 L397.7,69.3 L397.0,69.2 L396.3,69.1 L395.7,68.8 L395.0,69.4 L394.3,69.1 L393.7,68.7 L393.0,69.4 L392.3,68.8 L391.7,68.9 L391.0,69.5 L390.3,69.0 L389.7,69.0 L389.0,69.4 L388.3,68.6 L387.7,69.3 L387.0,69.2 L386.3,68.7 L385.7,68.8 L385.0,69.5 L384.3,68.6 L383.7,69.2 L383.0,69.0 L382.3,68.8 L381.7,69.2 L381.0,68.8 L380.3,69.1 L379.7,68.7 L379.0,69.2 L378.3,69.1 L377.7,69.2 L377.0,68.9 L376.3,69.0 L375.7,68.9 L375.0,68.7 Z" fill="#86BD4C" stroke="none" stroke-width="0"/>
<path d="M375.0,58.7 L375.7,58.4 L376.3,58.7 L377.0,58.4 L377.7,58.8 L378.3,58.2 L379.0,59.0 L379.7,58.2 L380.3,58.6 L381.0,58.4 L381.7,58.3 L382.3,58.4 L383.0,58.3 L383.7,58.6 L384.3,58.6 L385.0,58.1 L385.7,58.1 L386.3,58.5 L387.0,58.5 L387.7,58.6 L388.3,58.8 L389.0,58.8 L389.7,58.2 L390.3,58.5 L391.0,58.5 L391.7,58.2 L392.3,58.1 L393.0,58.9 L393.7,58.4 L394.3,58.3 L395.0,58.9 L395.7,58.3 L396.3,58.2 L397.0,58.2 L397.7,59.0 L398.4,58.2 L399.0,58.4 L399.7,58.4 L400.4,58.0 L401.0,58.5 L401.7,58.7 L402.4,58.8 L403.0,59.0 L403.7,58.7 L404.4,58.8 L405.0,58.4 L405.7,58.9 L406.4,58.4 L407.0,58.4 L407.7,58.3 L408.4,58.6 L409.0,58.4 L409.7,58.7 L410.4,58.4 L411.0,58.7 L411.7,58.8 L412.4,58.9 L413.0,58.5 L413.7,58.3 L414.4,58.1 L415.0,58.0 L415.7,58.8 L416.4,58.1 L417.0,58.7 L417.7,58.7 L418.4,58.3 L419.0,58.7 L419.7,58.0 L419.7,67.9 L419.0,68.0 L418.4,67.6 L417.7,68.0 L417.0,67.9 L416.4,67.7 L415.7,67.2 L415.0,67.7 L414.4,68.0 L413.7,68.0 L413.0,67.7 L412.4,67.9 L411.7,67.4 L411.0,67.4 L410.4,67.0 L409.7,67.6 L409.0,67.1 L408.4,67.3 L407.7,67.8 L407.0,67.7 L406.4,67.6 L405.7,67.2 L405.0,67.7 L404.4,67.7 L403.7,67.2 L403.0,67.5 L402.4,67.2 L401.7,68.0 L401.0,67.6 L400.4,67.6 L399.7,67.8 L399.0,67.5 L398.4,67.8 L397.7,67.5 L397.0,67.2 L396.3,67.5 L395.7,67.5 L395.0,67.1 L394.3,67.9 L393.7,68.0 L393.0,67.1 L392.3,67.2 L391.7,67.0 L391.0,67.4 L390.3,67.7 L389.7,67.6 L389.0,67.1 L388.3,67.0 L387.7,67.3 L387.0,67.1 L386.3,67.7 L385.7,67.1 L385.0,67.6 L384.3,67.8 L383.7,67.8 L383.0,67.1 L382.3,67.1 L381.7,67.9 L381.0,67.3 L380.3,68.0 L379.7,67.4 L379.0,67.9 L378.3,67.9 L377.7,67.2 L377.0,67.7 L376.3,67.8 L375.7,67.6 L375.0,67.1 Z" fill="#F6E52B" stroke="none" stroke-width="0"/>
<path d="M375.0,59.3 L375.7,59.5 L376.3,58.9 L377.0,59.3 L377.7,59.4 L378.3,59.3 L379.0,59.4 L379.7,59.3 L380.3,59.2 L381.0,59.3 L381.7,59.4 L382.3,58.9 L383.0,58.8 L383.7,59.3 L384.3,59.5 L385.0,59.4 L385.7,59.3 L386.3,59.0 L387.0,59.4 L387.7,58.9 L388.3,59.6 L389.0,58.9 L389.7,59.0 L390.3,59.1 L391.0,59.2 L391.7,59.4 L392.3,58.8 L393.0,59.1 L393.7,59.3 L394.3,59.0 L395.0,59.3 L395.7,59.3 L396.3,58.8 L397.0,59.1 L397.7,59.5 L398.4,59.1 L399.0,59.3 L399.7,58.8 L400.4,59.4 L401.0,59.4 L401.7,58.9 L402.4,59.0 L403.0,59.1 L403.7,58.9 L404.4,59.2 L405.0,59.5 L405.7,59.3 L406.4,59.4 L407.0,58.9 L407.7,59.3 L408.4,59.1 L409.0,59.1 L409.7,59.3 L410.4,59.4 L411.0,59.3 L411.7,59.3 L412.4,59.4 L413.0,59.5 L413.7,59.4 L414.4,59.2 L415.0,59.3 L415.7,59.2 L416.4,59.5 L417.0,59.4 L417.7,58.9 L418.4,59.1 L419.0,59.4 L419.7,59.2 L419.7,66.4 L419.0,66.0 L418.4,66.0 L417.7,66.6 L417.0,66.6 L416.4,66.5 L415.7,66.4 L415.0,66.7 L414.4,66.4 L413.7,66.4 L413.0,66.0 L412.4,66.0 L411.7,66.2 L411.0,66.1 L410.4,66.4 L409.7,66.1 L409.0,66.3 L408.4,66.6 L407.7,66.0 L407.0,66.2 L406.4,66.5 L405.7,66.3 L405.0,66.4 L404.4,66.4 L403.7,66.1 L403.0,66.2 L402.4,66.2 L401.7,66.3 L401.0,66.2 L400.4,66.2 L399.7,66.2 L399.0,66.2 L398.4,66.3 L397.7,66.6 L397.0,66.2 L396.3,66.6 L395.7,66.0 L395.0,66.0 L394.3,66.1 L393.7,66.6 L393.0,66.4 L392.3,66.6 L391.7,66.6 L391.0,66.5 L390.3,66.6 L389.7,66.5 L389.0,66.5 L388.3,65.9 L387.7,66.2 L387.0,66.1 L386.3,66.5 L385.7,66.0 L385.0,65.9 L384.3,66.0 L383.7,66.3 L383.0,66.0 L382.3,66.3 L381.7,66.1 L381.0,66.4 L380.3,66.1 L379.7,66.4 L379.0,66.0 L378.3,66.1 L377.7,66.1 L377.0,66.0 L376.3,66.0 L375.7,66.3 L375.0,66.1 Z" fill="#F2A43A" stroke="none" stroke-width="0"/>
<path d="M375.0,59.2 L375.7,59.4 L376.3,59.7 L377.0,59.9 L377.7,59.2 L378.3,59.6 L379.0,59.2 L379.7,59.7 L380.3,59.9 L381.0,59.4 L381.7,59.2 L382.3,59.9 L383.0,59.4 L383.7,59.4 L384.3,59.2 L385.0,59.5 L385.7,59.2 L386.3,59.4 L387.0,59.7 L387.7,59.7 L388.3,59.5 L389.0,59.9 L389.7,59.4 L390.3,59.2 L391.0,59.8 L391.7,59.4 L392.3,59.2 L393.0,59.9 L393.7,59.9 L394.3,59.7 L395.0,59.5 L395.7,59.6 L396.3,59.9 L397.0,59.7 L397.7,59.7 L398.4,59.7 L399.0,59.4 L399.7,59.6 L400.4,59.7 L401.0,59.8 L401.7,59.7 L402.4,59.5 L403.0,59.8 L403.7,59.2 L404.4,59.8 L405.0,59.3 L405.7,59.9 L406.4,59.8 L407.0,59.3 L407.7,59.9 L408.4,59.7 L409.0,59.7 L409.7,59.7 L410.4,59.2 L411.0,59.4 L411.7,59.3 L412.4,59.9 L413.0,59.6 L413.7,59.5 L414.4,59.3 L415.0,59.3 L415.7,59.4 L416.4,59.5 L417.0,59.2 L417.7,59.9 L418.4,59.7 L419.0,59.6 L419.7,59.9 L419.7,66.0 L419.0,66.3 L418.4,65.6 L417.7,65.7 L417.0,66.2 L416.4,65.6 L415.7,66.3 L415.0,65.8 L414.4,66.0 L413.7,65.7 L413.0,66.0 L412.4,65.9 L411.7,66.2 L411.0,65.6 L410.4,65.8 L409.7,65.8 L409.0,65.7 L408.4,65.6 L407.7,65.9 L407.0,66.3 L406.4,65.9 L405.7,66.0 L405.0,66.0 L404.4,66.2 L403.7,65.9 L403.0,66.3 L402.4,65.8 L401.7,66.3 L401.0,65.8 L400.4,66.1 L399.7,66.1 L399.0,65.6 L398.4,65.7 L397.7,66.0 L397.0,65.8 L396.3,66.2 L395.7,66.1 L395.0,65.8 L394.3,66.1 L393.7,66.0 L393.0,66.0 L392.3,66.3 L391.7,66.3 L391.0,65.7 L390.3,66.2 L389.7,66.2 L389.0,65.9 L388.3,65.8 L387.7,66.3 L387.0,66.0 L386.3,65.8 L385.7,65.7 L385.0,66.1 L384.3,66.2 L383.7,65.8 L383.0,66.0 L382.3,66.0 L381.7,66.3 L381.0,65.8 L380.3,66.0 L379.7,66.1 L379.0,66.0 L378.3,66.0 L377.7,66.0 L377.0,65.6 L376.3,66.1 L375.7,65.9 L375.0,66.2 Z" fill="#CB2229" stroke="none" stroke-width="0"/>
</g>
<line x1="375.00" y1="91.60" x2="376.50" y2="91.60" stroke="#666" stroke-width="0.6"/>
<line x1="418.20" y1="91.60" x2="419.70" y2="91.60" stroke="#666" stroke-width="0.6"/>
<line x1="375.00" y1="76.56" x2="376.50" y2="76.56" stroke="#666" stroke-width="0.6"/>
<line x1="418.20" y1="76.56" x2="419.70" y2="76.56" stroke="#666" stroke-width="0.6"/>
<line x1="375.00" y1="61.52" x2="376.50" y2="61.52" stroke="#666" stroke-width="0.6"/>
<line x1="418.20" y1="61.52" x2="419.70" y2="61.52" stroke="#666" stroke-width="0.6"/>
<line x1="375.00" y1="46.48" x2="376.50" y2="46.48" stroke="#666" stroke-width="0.6"/>
<line x1="418.20" y1="46.48" x2="419.70" y2="46.48" stroke="#666" stroke-width="0.6"/>
<line x1="375.00" y1="31.44" x2="376.50" y2="31.44" stroke="#666" stroke-width="0.6"/>
<line x1="418.20" y1="31.44" x2="419.70" y2="31.44" stroke="#666" stroke-width="0.6"/>
<line x1="375.00" y1="16.40" x2="376.50" y2="16.40" stroke="#666" stroke-width="0.6"/>
<line x1="418.20" y1="16.40" x2="419.70" y2="16.40" stroke="#666" stroke-width="0.6"/>
<line x1="375.00" y1="98.60" x2="375.00" y2="97.10" stroke="#666" stroke-width="0.6"/>
<line x1="375.00" y1="16.30" x2="375.00" y2="17.80" stroke="#666" stroke-width="0.6"/>
<line x1="392.90" y1="98.60" x2="392.90" y2="97.10" stroke="#666" stroke-width="0.6"/>
<line x1="392.90" y1="16.30" x2="392.90" y2="17.80" stroke="#666" stroke-width="0.6"/>
<line x1="410.80" y1="98.60" x2="410.80" y2="97.10" stroke="#666" stroke-width="0.6"/>
<line x1="410.80" y1="16.30" x2="410.80" y2="17.80" stroke="#666" stroke-width="0.6"/>
<rect x="375.00" y="16.30" width="44.70" height="82.30" fill="none" stroke="#7A7A7A" stroke-width="0.8"/>
<text x="396.95" y="11.70" font-size="9.6" fill="#4A8FE3" font-weight="bold" text-anchor="middle">NaNO<tspan font-size="6" dy="2.6">3</tspan></text>
<text x="415.20" y="24.20" font-size="8.0" fill="#000" text-anchor="end" textLength="22.60" lengthAdjust="spacingAndGlyphs">N=773</text>
<text x="375.30" y="108.20" font-size="8.0" fill="#484848" text-anchor="middle" transform="translate(0 -8.656) scale(1 1.08)">0</text>
<text x="393.20" y="108.20" font-size="8.0" fill="#484848" text-anchor="middle" transform="translate(0 -8.656) scale(1 1.08)">2</text>
<text x="411.10" y="108.20" font-size="8.0" fill="#484848" text-anchor="middle" transform="translate(0 -8.656) scale(1 1.08)">4</text>
<line x1="424.70" y1="30.20" x2="432.20" y2="30.20" stroke="#2a2a2a" stroke-width="0.8"/>
<path d="M421.20,30.20 L426.00,28.10 L426.00,32.30 Z" fill="#111" stroke="none" stroke-width="0"/>
<text x="432.90" y="32.80" font-size="7.6" fill="#2a2a2a" textLength="25.60" lengthAdjust="spacingAndGlyphs" transform="translate(0 -2.624) scale(1 1.08)">IFS/IFS</text>
<line x1="424.70" y1="46.00" x2="432.20" y2="46.00" stroke="#2a2a2a" stroke-width="0.8"/>
<path d="M421.20,46.00 L426.00,43.90 L426.00,48.10 Z" fill="#111" stroke="none" stroke-width="0"/>
<text x="432.90" y="48.80" font-size="7.6" fill="#2a2a2a" textLength="29.90" lengthAdjust="spacingAndGlyphs" transform="translate(0 -3.904) scale(1 1.08)">OFS/IFS</text>
<line x1="424.70" y1="63.00" x2="432.20" y2="63.00" stroke="#2a2a2a" stroke-width="0.8"/>
<path d="M421.20,63.00 L426.00,60.90 L426.00,65.10 Z" fill="#111" stroke="none" stroke-width="0"/>
<text x="432.90" y="65.70" font-size="7.6" fill="#2a2a2a" textLength="33.20" lengthAdjust="spacingAndGlyphs" transform="translate(0 -5.256) scale(1 1.08)">OFS/OFS</text>
<text x="28.20" y="19.30" font-size="8.0" fill="#484848" text-anchor="end" transform="translate(0 -1.544) scale(1 1.08)">1</text>
<text x="28.20" y="34.34" font-size="8.0" fill="#484848" text-anchor="end" transform="translate(0 -2.747) scale(1 1.08)">0.8</text>
<text x="28.20" y="49.38" font-size="8.0" fill="#484848" text-anchor="end" transform="translate(0 -3.950) scale(1 1.08)">0.6</text>
<text x="28.20" y="64.42" font-size="8.0" fill="#484848" text-anchor="end" transform="translate(0 -5.154) scale(1 1.08)">0.4</text>
<text x="28.20" y="79.46" font-size="8.0" fill="#484848" text-anchor="end" transform="translate(0 -6.357) scale(1 1.08)">0.2</text>
<text x="28.20" y="94.50" font-size="8.0" fill="#484848" text-anchor="end" transform="translate(0 -7.560) scale(1 1.08)">0</text>
<text x="15.00" y="57.60" font-size="7.4" fill="#444444" text-anchor="middle" transform="rotate(-90 15.00 57.60) translate(0 -4.608) scale(1 1.08)">FRET</text>
<text x="53.20" y="117.00" font-size="7.6" fill="#444444" text-anchor="middle" textLength="28.30" lengthAdjust="spacingAndGlyphs" transform="translate(0 -9.360) scale(1 1.08)">Time (s)</text>
<text x="281.40" y="117.00" font-size="7.6" fill="#444444" text-anchor="middle" textLength="28.30" lengthAdjust="spacingAndGlyphs" transform="translate(0 -9.360) scale(1 1.08)">Time (s)</text>
<text x="197.00" y="102.20" font-size="9.6" fill="#111" font-weight="bold" transform="translate(0 -8.176) scale(1 1.08)">Na<tspan font-size="5.5" dy="-3.8">+</tspan></text>
<text x="425.60" y="102.00" font-size="9.6" fill="#111" font-weight="bold" transform="translate(0 -8.160) scale(1 1.08)">Na<tspan font-size="5.5" dy="-3.8">+</tspan><tspan dy="3.8">/Asp</tspan></text>
<rect x="482.60" y="16.30" width="11.30" height="10.61" fill="#CB2229" stroke="none" stroke-width="0"/>
<rect x="482.60" y="26.86" width="11.30" height="5.33" fill="#E2712B" stroke="none" stroke-width="0"/>
<rect x="482.60" y="32.14" width="11.30" height="5.33" fill="#F2A43A" stroke="none" stroke-width="0"/>
<rect x="482.60" y="37.41" width="11.30" height="5.33" fill="#F6E52B" stroke="none" stroke-width="0"/>
<rect x="482.60" y="42.69" width="11.30" height="10.61" fill="#86BD4C" stroke="none" stroke-width="0"/>
<rect x="482.60" y="53.25" width="11.30" height="5.33" fill="#2F4FA0" stroke="none" stroke-width="0"/>
<rect x="482.60" y="58.53" width="11.30" height="5.33" fill="#5B80C6" stroke="none" stroke-width="0"/>
<rect x="482.60" y="63.81" width="11.30" height="5.33" fill="#C9DBF2" stroke="none" stroke-width="0"/>
<rect x="482.60" y="69.09" width="11.30" height="5.33" fill="#FFFFFF" stroke="none" stroke-width="0"/>
<rect x="482.60" y="74.36" width="11.30" height="5.33" fill="#FBF8E2" stroke="none" stroke-width="0"/>
<rect x="482.60" y="79.64" width="11.30" height="10.61" fill="#F8F4C6" stroke="none" stroke-width="0"/>
<rect x="482.60" y="16.30" width="11.30" height="73.90" fill="none" stroke="#9A9A9A" stroke-width="0.6"/>
<text x="495.70" y="34.00" font-size="8.6" fill="#333" transform="translate(0 -2.720) scale(1 1.08)">0.10</text>
<text x="495.70" y="62.80" font-size="8.6" fill="#333" transform="translate(0 -5.024) scale(1 1.08)">0.05</text>
<text x="495.70" y="91.90" font-size="8.6" fill="#333" transform="translate(0 -7.352) scale(1 1.08)">0</text>
<line x1="33.80" y1="130.99" x2="33.80" y2="221.30" stroke="#2A2A2A" stroke-width="0.9"/>
<line x1="33.80" y1="221.30" x2="222.80" y2="221.30" stroke="#2A2A2A" stroke-width="0.9"/>
<line x1="29.60" y1="139.20" x2="33.80" y2="139.20" stroke="#2A2A2A" stroke-width="0.8"/>
<line x1="31.40" y1="147.41" x2="33.80" y2="147.41" stroke="#2A2A2A" stroke-width="0.8"/>
<line x1="31.40" y1="155.62" x2="33.80" y2="155.62" stroke="#2A2A2A" stroke-width="0.8"/>
<line x1="31.40" y1="163.83" x2="33.80" y2="163.83" stroke="#2A2A2A" stroke-width="0.8"/>
<line x1="31.40" y1="172.04" x2="33.80" y2="172.04" stroke="#2A2A2A" stroke-width="0.8"/>
<line x1="29.60" y1="180.25" x2="33.80" y2="180.25" stroke="#2A2A2A" stroke-width="0.8"/>
<line x1="31.40" y1="188.46" x2="33.80" y2="188.46" stroke="#2A2A2A" stroke-width="0.8"/>
<line x1="31.40" y1="196.67" x2="33.80" y2="196.67" stroke="#2A2A2A" stroke-width="0.8"/>
<line x1="31.40" y1="204.88" x2="33.80" y2="204.88" stroke="#2A2A2A" stroke-width="0.8"/>
<line x1="31.40" y1="213.09" x2="33.80" y2="213.09" stroke="#2A2A2A" stroke-width="0.8"/>
<line x1="29.60" y1="221.30" x2="33.80" y2="221.30" stroke="#2A2A2A" stroke-width="0.8"/>
<line x1="33.80" y1="221.30" x2="33.80" y2="224.90" stroke="#2A2A2A" stroke-width="0.8"/>
<text x="33.80" y="236.20" font-size="9.6" fill="#1a1a1a" text-anchor="middle" transform="translate(0 -28.344) scale(1 1.12)">0</text>
<line x1="60.80" y1="221.30" x2="60.80" y2="223.50" stroke="#2A2A2A" stroke-width="0.8"/>
<line x1="87.80" y1="221.30" x2="87.80" y2="224.90" stroke="#2A2A2A" stroke-width="0.8"/>
<text x="87.80" y="236.20" font-size="9.6" fill="#1a1a1a" text-anchor="middle" transform="translate(0 -28.344) scale(1 1.12)">1</text>
<line x1="114.80" y1="221.30" x2="114.80" y2="223.50" stroke="#2A2A2A" stroke-width="0.8"/>
<line x1="141.80" y1="221.30" x2="141.80" y2="224.90" stroke="#2A2A2A" stroke-width="0.8"/>
<text x="141.80" y="236.20" font-size="9.6" fill="#1a1a1a" text-anchor="middle" transform="translate(0 -28.344) scale(1 1.12)">2</text>
<line x1="168.80" y1="221.30" x2="168.80" y2="223.50" stroke="#2A2A2A" stroke-width="0.8"/>
<line x1="195.80" y1="221.30" x2="195.80" y2="224.90" stroke="#2A2A2A" stroke-width="0.8"/>
<text x="195.80" y="236.20" font-size="9.6" fill="#1a1a1a" text-anchor="middle" transform="translate(0 -28.344) scale(1 1.12)">3</text>
<line x1="222.80" y1="221.30" x2="222.80" y2="223.50" stroke="#2A2A2A" stroke-width="0.8"/>
<text x="28.20" y="142.60" font-size="9.6" fill="#1a1a1a" text-anchor="end" transform="translate(0 -14.260) scale(1 1.1)">0</text>
<text x="28.20" y="183.65" font-size="9.6" fill="#1a1a1a" text-anchor="end" transform="translate(0 -18.365) scale(1 1.1)">-5</text>
<text x="28.20" y="224.70" font-size="9.6" fill="#1a1a1a" text-anchor="end" transform="translate(0 -22.470) scale(1 1.1)">-10</text>
<text x="128.50" y="248.00" font-size="9.2" fill="#111" text-anchor="middle" textLength="116.20" lengthAdjust="spacingAndGlyphs" transform="translate(0 -29.760) scale(1 1.12)">Ratio aspartate:protein (mol)</text>
<text x="8.90" y="176.60" font-size="9.4" fill="#111" text-anchor="middle" transform="rotate(-90 8.90 176.60) translate(0 -14.128) scale(1 1.08)">Q (kcal mol<tspan font-size="5.8" dy="-3.6">-1</tspan><tspan dy="3.6"> asp)</tspan></text>
<path d="M40.00,158.10 L41.63,158.08 L43.89,158.05 L46.56,158.01 L49.44,157.96 L52.33,157.89 L55.00,157.80 L57.53,157.68 L60.11,157.55 L62.69,157.39 L65.22,157.22 L67.67,157.02 L70.00,156.80 L72.22,156.55 L74.37,156.27 L76.44,155.96 L78.41,155.64 L80.27,155.32 L82.00,155.00 L83.58,154.69 L85.00,154.39 L86.31,154.09 L87.56,153.76 L88.77,153.41 L90.00,153.00 L91.22,152.54 L92.41,152.04 L93.56,151.50 L94.70,150.94 L95.84,150.37 L97.00,149.80 L98.17,149.21 L99.33,148.59 L100.50,147.96 L101.67,147.34 L102.83,146.75 L104.00,146.20 L105.17,145.70 L106.33,145.22 L107.50,144.77 L108.67,144.35 L109.83,143.96 L111.00,143.60 L112.16,143.28 L113.30,143.00 L114.44,142.74 L115.59,142.51 L116.78,142.30 L118.00,142.10 L119.21,141.91 L120.37,141.74 L121.56,141.59 L122.85,141.45 L124.31,141.32 L126.00,141.20 L127.92,141.09 L130.00,141.00 L132.25,140.92 L134.67,140.84 L137.25,140.77 L140.00,140.70 L142.87,140.63 L145.85,140.57 L149.00,140.51 L152.37,140.45 L156.02,140.38 L160.00,140.30 L164.42,140.20 L169.27,140.09 L174.39,139.96 L179.64,139.84 L184.90,139.71 L190.00,139.60 L195.32,139.49 L201.05,139.37 L206.78,139.26 L212.08,139.15 L216.56,139.06 L219.80,139.00" fill="none" stroke="#111" stroke-width="1.05"/>
<rect x="38.20" y="148.20" width="2.80" height="2.80" fill="#235947" stroke="none" stroke-width="0"/>
<rect x="44.90" y="157.30" width="2.80" height="2.80" fill="#235947" stroke="none" stroke-width="0"/>
<rect x="51.70" y="156.70" width="2.80" height="2.80" fill="#235947" stroke="none" stroke-width="0"/>
<rect x="58.00" y="156.30" width="2.80" height="2.80" fill="#235947" stroke="none" stroke-width="0"/>
<rect x="65.10" y="155.30" width="2.80" height="2.80" fill="#235947" stroke="none" stroke-width="0"/>
<rect x="71.90" y="154.00" width="2.80" height="2.80" fill="#235947" stroke="none" stroke-width="0"/>
<rect x="79.00" y="153.80" width="2.80" height="2.80" fill="#235947" stroke="none" stroke-width="0"/>
<rect x="85.70" y="153.40" width="2.80" height="2.80" fill="#235947" stroke="none" stroke-width="0"/>
<rect x="93.00" y="150.50" width="2.80" height="2.80" fill="#235947" stroke="none" stroke-width="0"/>
<rect x="100.10" y="145.70" width="2.80" height="2.80" fill="#235947" stroke="none" stroke-width="0"/>
<rect x="107.40" y="142.80" width="2.80" height="2.80" fill="#235947" stroke="none" stroke-width="0"/>
<rect x="114.80" y="141.30" width="2.80" height="2.80" fill="#235947" stroke="none" stroke-width="0"/>
<rect x="121.90" y="139.60" width="2.80" height="2.80" fill="#235947" stroke="none" stroke-width="0"/>
<rect x="129.20" y="139.00" width="2.80" height="2.80" fill="#235947" stroke="none" stroke-width="0"/>
<rect x="137.20" y="139.50" width="2.80" height="2.80" fill="#235947" stroke="none" stroke-width="0"/>
<rect x="144.60" y="140.10" width="2.80" height="2.80" fill="#235947" stroke="none" stroke-width="0"/>
<rect x="152.40" y="138.80" width="2.80" height="2.80" fill="#235947" stroke="none" stroke-width="0"/>
<rect x="160.50" y="139.00" width="2.80" height="2.80" fill="#235947" stroke="none" stroke-width="0"/>
<rect x="168.30" y="139.00" width="2.80" height="2.80" fill="#235947" stroke="none" stroke-width="0"/>
<rect x="176.10" y="139.00" width="2.80" height="2.80" fill="#235947" stroke="none" stroke-width="0"/>
<rect x="184.60" y="138.00" width="2.80" height="2.80" fill="#235947" stroke="none" stroke-width="0"/>
<rect x="192.60" y="138.00" width="2.80" height="2.80" fill="#235947" stroke="none" stroke-width="0"/>
<rect x="201.10" y="138.00" width="2.80" height="2.80" fill="#235947" stroke="none" stroke-width="0"/>
<rect x="209.60" y="138.80" width="2.80" height="2.80" fill="#235947" stroke="none" stroke-width="0"/>
<rect x="218.40" y="136.90" width="2.80" height="2.80" fill="#235947" stroke="none" stroke-width="0"/>
<text x="41.70" y="179.30" font-size="9.8" fill="#111" transform="translate(0 -14.344) scale(1 1.08)">%<tspan font-style="italic">n</tspan><tspan font-size="6.5" dy="2.4">2</tspan><tspan dy="-2.4"> ND</tspan></text>
<text x="37.00" y="218.40" font-size="9.2" fill="#235947" font-weight="bold" textLength="52.00" lengthAdjust="spacingAndGlyphs" transform="translate(0 -17.472) scale(1 1.08)">50 mM NaCl</text>
<line x1="137.40" y1="174.50" x2="202.60" y2="174.30" stroke="#222" stroke-width="0.8"/>
<line x1="140.30" y1="174.49" x2="140.30" y2="200.40" stroke="#000" stroke-width="1.0"/>
<line x1="142.92" y1="174.48" x2="142.92" y2="208.80" stroke="#000" stroke-width="1.0"/>
<line x1="145.54" y1="174.48" x2="145.54" y2="208.00" stroke="#000" stroke-width="1.0"/>
<line x1="148.16" y1="174.47" x2="148.16" y2="207.30" stroke="#000" stroke-width="1.0"/>
<line x1="150.78" y1="174.46" x2="150.78" y2="206.20" stroke="#000" stroke-width="1.0"/>
<line x1="153.40" y1="174.45" x2="153.40" y2="205.00" stroke="#000" stroke-width="1.0"/>
<line x1="156.02" y1="174.44" x2="156.02" y2="202.70" stroke="#000" stroke-width="1.0"/>
<line x1="158.64" y1="174.43" x2="158.64" y2="199.60" stroke="#000" stroke-width="1.0"/>
<line x1="161.26" y1="174.43" x2="161.26" y2="195.80" stroke="#000" stroke-width="1.0"/>
<line x1="163.88" y1="174.42" x2="163.88" y2="193.50" stroke="#000" stroke-width="1.0"/>
<line x1="166.50" y1="174.41" x2="166.50" y2="192.70" stroke="#000" stroke-width="1.0"/>
<line x1="169.12" y1="174.40" x2="169.12" y2="191.90" stroke="#000" stroke-width="1.0"/>
<line x1="171.74" y1="174.39" x2="171.74" y2="191.20" stroke="#000" stroke-width="1.0"/>
<line x1="174.36" y1="174.39" x2="174.36" y2="190.40" stroke="#000" stroke-width="1.0"/>
<line x1="176.98" y1="174.38" x2="176.98" y2="189.90" stroke="#000" stroke-width="1.0"/>
<line x1="179.60" y1="174.37" x2="179.60" y2="189.60" stroke="#000" stroke-width="1.0"/>
<line x1="182.22" y1="174.36" x2="182.22" y2="189.60" stroke="#000" stroke-width="1.0"/>
<line x1="184.84" y1="174.35" x2="184.84" y2="189.30" stroke="#000" stroke-width="1.0"/>
<line x1="187.46" y1="174.35" x2="187.46" y2="189.30" stroke="#000" stroke-width="1.0"/>
<line x1="190.08" y1="174.34" x2="190.08" y2="189.60" stroke="#000" stroke-width="1.0"/>
<line x1="192.70" y1="174.33" x2="192.70" y2="189.60" stroke="#000" stroke-width="1.0"/>
<line x1="195.32" y1="174.32" x2="195.32" y2="189.30" stroke="#000" stroke-width="1.0"/>
<line x1="197.94" y1="174.31" x2="197.94" y2="189.30" stroke="#000" stroke-width="1.0"/>
<line x1="200.56" y1="174.31" x2="200.56" y2="188.80" stroke="#000" stroke-width="1.0"/>
<line x1="168.20" y1="210.40" x2="188.50" y2="210.40" stroke="#333" stroke-width="0.8"/>
<line x1="188.50" y1="196.50" x2="188.50" y2="210.40" stroke="#333" stroke-width="0.8"/>
<text x="178.35" y="214.20" font-size="3.5" fill="#333" text-anchor="middle" transform="translate(0 -17.136) scale(1 1.08)">2000 s</text>
<text x="192.60" y="204.45" font-size="3.3" fill="#333" text-anchor="middle" transform="rotate(-90 192.60 204.45) translate(0 -16.356) scale(1 1.08)">0.05 μcal s<tspan font-size="2.2" dy="-1">-1</tspan></text>
<line x1="235.10" y1="131.09" x2="235.10" y2="221.40" stroke="#2A2A2A" stroke-width="0.9"/>
<line x1="235.10" y1="221.40" x2="370.10" y2="221.40" stroke="#2A2A2A" stroke-width="0.9"/>
<line x1="230.90" y1="139.30" x2="235.10" y2="139.30" stroke="#2A2A2A" stroke-width="0.8"/>
<line x1="232.70" y1="147.51" x2="235.10" y2="147.51" stroke="#2A2A2A" stroke-width="0.8"/>
<line x1="232.70" y1="155.72" x2="235.10" y2="155.72" stroke="#2A2A2A" stroke-width="0.8"/>
<line x1="232.70" y1="163.93" x2="235.10" y2="163.93" stroke="#2A2A2A" stroke-width="0.8"/>
<line x1="232.70" y1="172.14" x2="235.10" y2="172.14" stroke="#2A2A2A" stroke-width="0.8"/>
<line x1="230.90" y1="180.35" x2="235.10" y2="180.35" stroke="#2A2A2A" stroke-width="0.8"/>
<line x1="232.70" y1="188.56" x2="235.10" y2="188.56" stroke="#2A2A2A" stroke-width="0.8"/>
<line x1="232.70" y1="196.77" x2="235.10" y2="196.77" stroke="#2A2A2A" stroke-width="0.8"/>
<line x1="232.70" y1="204.98" x2="235.10" y2="204.98" stroke="#2A2A2A" stroke-width="0.8"/>
<line x1="232.70" y1="213.19" x2="235.10" y2="213.19" stroke="#2A2A2A" stroke-width="0.8"/>
<line x1="230.90" y1="221.40" x2="235.10" y2="221.40" stroke="#2A2A2A" stroke-width="0.8"/>
<line x1="235.10" y1="221.40" x2="235.10" y2="225.00" stroke="#2A2A2A" stroke-width="0.8"/>
<text x="235.10" y="236.30" font-size="9.6" fill="#1a1a1a" text-anchor="middle" transform="translate(0 -28.356) scale(1 1.12)">0</text>
<line x1="262.10" y1="221.40" x2="262.10" y2="223.60" stroke="#2A2A2A" stroke-width="0.8"/>
<line x1="289.10" y1="221.40" x2="289.10" y2="225.00" stroke="#2A2A2A" stroke-width="0.8"/>
<text x="289.10" y="236.30" font-size="9.6" fill="#1a1a1a" text-anchor="middle" transform="translate(0 -28.356) scale(1 1.12)">1</text>
<line x1="316.10" y1="221.40" x2="316.10" y2="223.60" stroke="#2A2A2A" stroke-width="0.8"/>
<line x1="343.10" y1="221.40" x2="343.10" y2="225.00" stroke="#2A2A2A" stroke-width="0.8"/>
<text x="343.10" y="236.30" font-size="9.6" fill="#1a1a1a" text-anchor="middle" transform="translate(0 -28.356) scale(1 1.12)">2</text>
<line x1="370.10" y1="221.40" x2="370.10" y2="223.60" stroke="#2A2A2A" stroke-width="0.8"/>
<text x="302.80" y="249.20" font-size="9.2" fill="#111" text-anchor="middle" textLength="116.20" lengthAdjust="spacingAndGlyphs" transform="translate(0 -29.904) scale(1 1.12)">Ratio aspartate:protein (mol)</text>
<path d="M238.60,166.60 L239.86,166.63 L241.62,166.67 L243.69,166.72 L245.90,166.79 L248.07,166.88 L250.00,167.00 L251.77,167.15 L253.55,167.34 L255.28,167.55 L256.91,167.77 L258.40,167.99 L259.70,168.20 L260.77,168.37 L261.65,168.51 L262.39,168.66 L263.04,168.83 L263.66,169.07 L264.30,169.40 L264.95,169.82 L265.55,170.29 L266.12,170.83 L266.67,171.43 L267.23,172.12 L267.80,172.90 L268.38,173.79 L268.97,174.80 L269.55,175.88 L270.13,177.01 L270.72,178.17 L271.30,179.30 L271.89,180.47 L272.49,181.70 L273.09,182.94 L273.68,184.16 L274.25,185.29 L274.80,186.30 L275.33,187.21 L275.83,188.08 L276.32,188.86 L276.80,189.53 L277.26,190.06 L277.70,190.40 L278.12,190.57 L278.51,190.59 L278.88,190.46 L279.25,190.18 L279.62,189.76 L280.00,189.20 L280.40,188.51 L280.82,187.69 L281.24,186.72 L281.65,185.60 L282.04,184.30 L282.40,182.80 L282.73,181.05 L283.03,179.05 L283.31,176.88 L283.58,174.59 L283.84,172.28 L284.10,170.00 L284.35,167.68 L284.60,165.25 L284.83,162.78 L285.06,160.36 L285.28,158.08 L285.50,156.00 L285.70,154.12 L285.88,152.38 L286.06,150.77 L286.24,149.29 L286.45,147.93 L286.70,146.70 L286.98,145.62 L287.28,144.69 L287.61,143.88 L287.96,143.18 L288.36,142.56 L288.80,142.00 L289.24,141.51 L289.65,141.13 L290.10,140.82 L290.65,140.58 L291.36,140.38 L292.30,140.20 L293.41,140.06 L294.63,139.99 L296.02,139.95 L297.61,139.94 L299.46,139.93 L301.60,139.90 L303.98,139.87 L306.54,139.85 L309.36,139.84 L312.50,139.81 L316.02,139.77 L320.00,139.70 L324.95,139.58 L330.93,139.42 L337.30,139.24 L343.41,139.06 L348.62,138.91 L352.30,138.80" fill="none" stroke="#111" stroke-width="1.05"/>
<rect x="237.60" y="155.60" width="2.80" height="2.80" fill="#235947" stroke="none" stroke-width="0"/>
<rect x="241.90" y="164.60" width="2.80" height="2.80" fill="#235947" stroke="none" stroke-width="0"/>
<rect x="245.80" y="165.60" width="2.80" height="2.80" fill="#235947" stroke="none" stroke-width="0"/>
<rect x="250.10" y="167.20" width="2.80" height="2.80" fill="#235947" stroke="none" stroke-width="0"/>
<rect x="254.30" y="166.30" width="2.80" height="2.80" fill="#235947" stroke="none" stroke-width="0"/>
<rect x="258.60" y="167.10" width="2.80" height="2.80" fill="#235947" stroke="none" stroke-width="0"/>
<rect x="262.90" y="168.00" width="2.80" height="2.80" fill="#235947" stroke="none" stroke-width="0"/>
<rect x="267.40" y="173.00" width="2.80" height="2.80" fill="#235947" stroke="none" stroke-width="0"/>
<rect x="271.60" y="181.60" width="2.80" height="2.80" fill="#235947" stroke="none" stroke-width="0"/>
<rect x="276.10" y="189.30" width="2.80" height="2.80" fill="#235947" stroke="none" stroke-width="0"/>
<rect x="280.60" y="181.20" width="2.80" height="2.80" fill="#235947" stroke="none" stroke-width="0"/>
<rect x="285.10" y="146.10" width="2.80" height="2.80" fill="#235947" stroke="none" stroke-width="0"/>
<rect x="289.70" y="140.50" width="2.80" height="2.80" fill="#235947" stroke="none" stroke-width="0"/>
<rect x="294.30" y="139.00" width="2.80" height="2.80" fill="#235947" stroke="none" stroke-width="0"/>
<rect x="299.10" y="139.00" width="2.80" height="2.80" fill="#235947" stroke="none" stroke-width="0"/>
<rect x="304.00" y="138.50" width="2.80" height="2.80" fill="#235947" stroke="none" stroke-width="0"/>
<rect x="308.90" y="139.00" width="2.80" height="2.80" fill="#235947" stroke="none" stroke-width="0"/>
<rect x="314.00" y="142.10" width="2.80" height="2.80" fill="#235947" stroke="none" stroke-width="0"/>
<rect x="318.90" y="139.40" width="2.80" height="2.80" fill="#235947" stroke="none" stroke-width="0"/>
<rect x="323.60" y="138.50" width="2.80" height="2.80" fill="#235947" stroke="none" stroke-width="0"/>
<rect x="328.60" y="139.00" width="2.80" height="2.80" fill="#235947" stroke="none" stroke-width="0"/>
<rect x="333.70" y="137.90" width="2.80" height="2.80" fill="#235947" stroke="none" stroke-width="0"/>
<rect x="339.10" y="137.10" width="2.80" height="2.80" fill="#235947" stroke="none" stroke-width="0"/>
<rect x="344.40" y="137.90" width="2.80" height="2.80" fill="#235947" stroke="none" stroke-width="0"/>
<rect x="349.70" y="136.70" width="2.80" height="2.80" fill="#235947" stroke="none" stroke-width="0"/>
<text x="243.40" y="149.50" font-size="9.6" fill="#111" transform="translate(0 -11.960) scale(1 1.08)">26% <tspan font-style="italic">n</tspan><tspan font-size="6.5" dy="2.4">2</tspan></text>
<text x="240.00" y="218.20" font-size="9.2" fill="#235947" font-weight="bold" textLength="57.10" lengthAdjust="spacingAndGlyphs" transform="translate(0 -17.456) scale(1 1.08)">500 mM NaCl</text>
<line x1="296.00" y1="173.80" x2="361.00" y2="173.60" stroke="#222" stroke-width="0.8"/>
<line x1="298.80" y1="173.79" x2="298.80" y2="195.90" stroke="#000" stroke-width="1.0"/>
<line x1="301.32" y1="173.78" x2="301.32" y2="202.60" stroke="#000" stroke-width="1.0"/>
<line x1="303.84" y1="173.78" x2="303.84" y2="203.40" stroke="#000" stroke-width="1.0"/>
<line x1="306.36" y1="173.77" x2="306.36" y2="203.80" stroke="#000" stroke-width="1.0"/>
<line x1="308.88" y1="173.76" x2="308.88" y2="203.40" stroke="#000" stroke-width="1.0"/>
<line x1="311.40" y1="173.75" x2="311.40" y2="203.80" stroke="#000" stroke-width="1.0"/>
<line x1="313.92" y1="173.74" x2="313.92" y2="204.30" stroke="#000" stroke-width="1.0"/>
<line x1="316.44" y1="173.74" x2="316.44" y2="205.50" stroke="#000" stroke-width="1.0"/>
<line x1="318.96" y1="173.73" x2="318.96" y2="207.40" stroke="#000" stroke-width="1.0"/>
<line x1="321.48" y1="173.72" x2="321.48" y2="205.00" stroke="#000" stroke-width="1.0"/>
<line x1="324.00" y1="173.71" x2="324.00" y2="198.60" stroke="#000" stroke-width="1.0"/>
<line x1="326.52" y1="173.71" x2="326.52" y2="187.70" stroke="#000" stroke-width="1.0"/>
<line x1="329.04" y1="173.70" x2="329.04" y2="186.50" stroke="#000" stroke-width="1.0"/>
<line x1="331.56" y1="173.69" x2="331.56" y2="185.80" stroke="#000" stroke-width="1.0"/>
<line x1="334.08" y1="173.68" x2="334.08" y2="186.10" stroke="#000" stroke-width="1.0"/>
<line x1="336.60" y1="173.68" x2="336.60" y2="185.30" stroke="#000" stroke-width="1.0"/>
<line x1="339.12" y1="173.67" x2="339.12" y2="185.80" stroke="#000" stroke-width="1.0"/>
<line x1="341.64" y1="173.66" x2="341.64" y2="185.80" stroke="#000" stroke-width="1.0"/>
<line x1="344.16" y1="173.65" x2="344.16" y2="185.50" stroke="#000" stroke-width="1.0"/>
<line x1="346.68" y1="173.64" x2="346.68" y2="185.30" stroke="#000" stroke-width="1.0"/>
<line x1="349.20" y1="173.64" x2="349.20" y2="185.00" stroke="#000" stroke-width="1.0"/>
<line x1="351.72" y1="173.63" x2="351.72" y2="184.80" stroke="#000" stroke-width="1.0"/>
<line x1="354.24" y1="173.62" x2="354.24" y2="184.50" stroke="#000" stroke-width="1.0"/>
<line x1="356.76" y1="173.61" x2="356.76" y2="184.20" stroke="#000" stroke-width="1.0"/>
<line x1="359.28" y1="173.61" x2="359.28" y2="184.00" stroke="#000" stroke-width="1.0"/>
<line x1="327.10" y1="203.90" x2="348.00" y2="203.90" stroke="#333" stroke-width="0.8"/>
<line x1="348.00" y1="190.30" x2="348.00" y2="203.90" stroke="#333" stroke-width="0.8"/>
<text x="337.55" y="207.70" font-size="3.5" fill="#333" text-anchor="middle" transform="translate(0 -16.616) scale(1 1.08)">2000 s</text>
<text x="351.50" y="198.10" font-size="3.3" fill="#333" text-anchor="middle" transform="rotate(-90 351.50 198.10) translate(0 -15.848) scale(1 1.08)">0.05 μcal s<tspan font-size="2.2" dy="-1">-1</tspan></text>
<line x1="384.80" y1="131.09" x2="384.80" y2="221.40" stroke="#2A2A2A" stroke-width="0.9"/>
<line x1="384.80" y1="221.40" x2="519.80" y2="221.40" stroke="#2A2A2A" stroke-width="0.9"/>
<line x1="380.60" y1="139.30" x2="384.80" y2="139.30" stroke="#2A2A2A" stroke-width="0.8"/>
<line x1="382.40" y1="147.51" x2="384.80" y2="147.51" stroke="#2A2A2A" stroke-width="0.8"/>
<line x1="382.40" y1="155.72" x2="384.80" y2="155.72" stroke="#2A2A2A" stroke-width="0.8"/>
<line x1="382.40" y1="163.93" x2="384.80" y2="163.93" stroke="#2A2A2A" stroke-width="0.8"/>
<line x1="382.40" y1="172.14" x2="384.80" y2="172.14" stroke="#2A2A2A" stroke-width="0.8"/>
<line x1="380.60" y1="180.35" x2="384.80" y2="180.35" stroke="#2A2A2A" stroke-width="0.8"/>
<line x1="382.40" y1="188.56" x2="384.80" y2="188.56" stroke="#2A2A2A" stroke-width="0.8"/>
<line x1="382.40" y1="196.77" x2="384.80" y2="196.77" stroke="#2A2A2A" stroke-width="0.8"/>
<line x1="382.40" y1="204.98" x2="384.80" y2="204.98" stroke="#2A2A2A" stroke-width="0.8"/>
<line x1="382.40" y1="213.19" x2="384.80" y2="213.19" stroke="#2A2A2A" stroke-width="0.8"/>
<line x1="380.60" y1="221.40" x2="384.80" y2="221.40" stroke="#2A2A2A" stroke-width="0.8"/>
<line x1="384.80" y1="221.40" x2="384.80" y2="225.00" stroke="#2A2A2A" stroke-width="0.8"/>
<text x="384.80" y="236.30" font-size="9.6" fill="#1a1a1a" text-anchor="middle" transform="translate(0 -28.356) scale(1 1.12)">0</text>
<line x1="411.80" y1="221.40" x2="411.80" y2="223.60" stroke="#2A2A2A" stroke-width="0.8"/>
<line x1="438.80" y1="221.40" x2="438.80" y2="225.00" stroke="#2A2A2A" stroke-width="0.8"/>
<text x="438.80" y="236.30" font-size="9.6" fill="#1a1a1a" text-anchor="middle" transform="translate(0 -28.356) scale(1 1.12)">1</text>
<line x1="465.80" y1="221.40" x2="465.80" y2="223.60" stroke="#2A2A2A" stroke-width="0.8"/>
<line x1="492.80" y1="221.40" x2="492.80" y2="225.00" stroke="#2A2A2A" stroke-width="0.8"/>
<text x="492.80" y="236.30" font-size="9.6" fill="#1a1a1a" text-anchor="middle" transform="translate(0 -28.356) scale(1 1.12)">2</text>
<line x1="519.80" y1="221.40" x2="519.80" y2="223.60" stroke="#2A2A2A" stroke-width="0.8"/>
<text x="452.50" y="248.00" font-size="9.2" fill="#111" text-anchor="middle" textLength="116.20" lengthAdjust="spacingAndGlyphs" transform="translate(0 -29.760) scale(1 1.12)">Ratio aspartate:protein (mol)</text>
<path d="M388.30,170.00 L389.59,169.97 L391.40,169.91 L393.53,169.86 L395.79,169.81 L398.01,169.78 L400.00,169.80 L401.81,169.85 L403.61,169.91 L405.36,169.99 L407.03,170.11 L408.58,170.28 L410.00,170.50 L411.23,170.76 L412.30,171.06 L413.25,171.40 L414.15,171.80 L415.05,172.26 L416.00,172.80 L417.01,173.41 L418.04,174.09 L419.06,174.83 L420.07,175.64 L421.06,176.53 L422.00,177.50 L422.89,178.56 L423.74,179.72 L424.56,180.95 L425.37,182.25 L426.18,183.60 L427.00,185.00 L427.84,186.48 L428.69,188.06 L429.53,189.69 L430.37,191.33 L431.20,192.95 L432.00,194.50 L432.78,196.03 L433.55,197.57 L434.31,199.09 L435.05,200.53 L435.78,201.85 L436.50,203.00 L437.21,204.00 L437.92,204.90 L438.62,205.68 L439.30,206.32 L439.96,206.80 L440.60,207.10 L441.22,207.23 L441.82,207.21 L442.40,207.02 L442.96,206.68 L443.49,206.17 L444.00,205.50 L444.47,204.71 L444.92,203.83 L445.34,202.78 L445.74,201.50 L446.12,199.93 L446.50,198.00 L446.86,195.63 L447.20,192.85 L447.53,189.78 L447.85,186.54 L448.17,183.24 L448.50,180.00 L448.84,176.70 L449.17,173.22 L449.51,169.69 L449.85,166.22 L450.18,162.95 L450.50,160.00 L450.81,157.34 L451.10,154.87 L451.39,152.59 L451.68,150.52 L451.98,148.65 L452.30,147.00 L452.63,145.60 L452.96,144.46 L453.29,143.53 L453.66,142.76 L454.05,142.10 L454.50,141.50 L454.91,141.01 L455.26,140.66 L455.64,140.43 L456.16,140.27 L456.91,140.14 L458.00,140.00 L459.31,139.87 L460.73,139.79 L462.39,139.74 L464.40,139.71 L466.90,139.67 L470.00,139.60 L474.22,139.50 L479.57,139.39 L485.40,139.27 L491.06,139.16 L495.91,139.07 L499.30,139.00" fill="none" stroke="#111" stroke-width="1.05"/>
<rect x="386.90" y="157.70" width="2.80" height="2.80" fill="#235947" stroke="none" stroke-width="0"/>
<rect x="391.10" y="171.40" width="2.80" height="2.80" fill="#235947" stroke="none" stroke-width="0"/>
<rect x="395.30" y="169.90" width="2.80" height="2.80" fill="#235947" stroke="none" stroke-width="0"/>
<rect x="399.40" y="166.00" width="2.80" height="2.80" fill="#235947" stroke="none" stroke-width="0"/>
<rect x="403.60" y="169.40" width="2.80" height="2.80" fill="#235947" stroke="none" stroke-width="0"/>
<rect x="408.20" y="168.60" width="2.80" height="2.80" fill="#235947" stroke="none" stroke-width="0"/>
<rect x="412.40" y="170.90" width="2.80" height="2.80" fill="#235947" stroke="none" stroke-width="0"/>
<rect x="416.80" y="172.70" width="2.80" height="2.80" fill="#235947" stroke="none" stroke-width="0"/>
<rect x="421.10" y="176.60" width="2.80" height="2.80" fill="#235947" stroke="none" stroke-width="0"/>
<rect x="425.80" y="184.60" width="2.80" height="2.80" fill="#235947" stroke="none" stroke-width="0"/>
<rect x="430.20" y="194.30" width="2.80" height="2.80" fill="#235947" stroke="none" stroke-width="0"/>
<rect x="434.70" y="203.60" width="2.80" height="2.80" fill="#235947" stroke="none" stroke-width="0"/>
<rect x="439.20" y="207.10" width="2.80" height="2.80" fill="#235947" stroke="none" stroke-width="0"/>
<rect x="443.90" y="201.30" width="2.80" height="2.80" fill="#235947" stroke="none" stroke-width="0"/>
<rect x="448.60" y="160.60" width="2.80" height="2.80" fill="#235947" stroke="none" stroke-width="0"/>
<rect x="453.50" y="138.40" width="2.80" height="2.80" fill="#235947" stroke="none" stroke-width="0"/>
<rect x="458.30" y="140.60" width="2.80" height="2.80" fill="#235947" stroke="none" stroke-width="0"/>
<rect x="463.50" y="138.40" width="2.80" height="2.80" fill="#235947" stroke="none" stroke-width="0"/>
<rect x="468.40" y="138.10" width="2.80" height="2.80" fill="#235947" stroke="none" stroke-width="0"/>
<rect x="473.60" y="137.20" width="2.80" height="2.80" fill="#235947" stroke="none" stroke-width="0"/>
<rect x="478.30" y="136.40" width="2.80" height="2.80" fill="#235947" stroke="none" stroke-width="0"/>
<rect x="483.60" y="137.60" width="2.80" height="2.80" fill="#235947" stroke="none" stroke-width="0"/>
<rect x="488.50" y="136.70" width="2.80" height="2.80" fill="#235947" stroke="none" stroke-width="0"/>
<rect x="494.10" y="136.40" width="2.80" height="2.80" fill="#235947" stroke="none" stroke-width="0"/>
<rect x="499.60" y="133.20" width="2.80" height="2.80" fill="#235947" stroke="none" stroke-width="0"/>
<text x="392.00" y="149.50" font-size="9.6" fill="#111" transform="translate(0 -11.960) scale(1 1.08)">32% <tspan font-style="italic">n</tspan><tspan font-size="6.5" dy="2.4">2</tspan></text>
<text x="387.60" y="218.40" font-size="9.2" fill="#235947" font-weight="bold" textLength="38.40" lengthAdjust="spacingAndGlyphs" transform="translate(0 -17.472) scale(1 1.08)">1 M NaCl</text>
<line x1="451.50" y1="174.00" x2="517.30" y2="173.80" stroke="#222" stroke-width="0.8"/>
<line x1="454.20" y1="173.99" x2="454.20" y2="192.20" stroke="#000" stroke-width="1.0"/>
<line x1="456.60" y1="173.98" x2="456.60" y2="199.60" stroke="#000" stroke-width="1.0"/>
<line x1="459.10" y1="173.98" x2="459.10" y2="199.60" stroke="#000" stroke-width="1.0"/>
<line x1="461.60" y1="173.97" x2="461.60" y2="198.70" stroke="#000" stroke-width="1.0"/>
<line x1="463.90" y1="173.96" x2="463.90" y2="199.60" stroke="#000" stroke-width="1.0"/>
<line x1="466.70" y1="173.95" x2="466.70" y2="200.50" stroke="#000" stroke-width="1.0"/>
<line x1="469.50" y1="173.95" x2="469.50" y2="201.20" stroke="#000" stroke-width="1.0"/>
<line x1="471.80" y1="173.94" x2="471.80" y2="201.90" stroke="#000" stroke-width="1.0"/>
<line x1="474.60" y1="173.93" x2="474.60" y2="203.70" stroke="#000" stroke-width="1.0"/>
<line x1="477.10" y1="173.92" x2="477.10" y2="206.80" stroke="#000" stroke-width="1.0"/>
<line x1="479.60" y1="173.91" x2="479.60" y2="209.30" stroke="#000" stroke-width="1.0"/>
<line x1="481.90" y1="173.91" x2="481.90" y2="209.60" stroke="#000" stroke-width="1.0"/>
<line x1="484.30" y1="173.90" x2="484.30" y2="205.40" stroke="#000" stroke-width="1.0"/>
<line x1="487.10" y1="173.89" x2="487.10" y2="197.80" stroke="#000" stroke-width="1.0"/>
<line x1="489.60" y1="173.88" x2="489.60" y2="188.50" stroke="#000" stroke-width="1.0"/>
<line x1="492.00" y1="173.88" x2="492.00" y2="184.30" stroke="#000" stroke-width="1.0"/>
<line x1="494.40" y1="173.87" x2="494.40" y2="183.90" stroke="#000" stroke-width="1.0"/>
<line x1="496.80" y1="173.86" x2="496.80" y2="183.50" stroke="#000" stroke-width="1.0"/>
<line x1="499.20" y1="173.86" x2="499.20" y2="183.50" stroke="#000" stroke-width="1.0"/>
<line x1="501.70" y1="173.85" x2="501.70" y2="183.50" stroke="#000" stroke-width="1.0"/>
<line x1="504.10" y1="173.84" x2="504.10" y2="183.50" stroke="#000" stroke-width="1.0"/>
<line x1="506.90" y1="173.83" x2="506.90" y2="183.20" stroke="#000" stroke-width="1.0"/>
<line x1="509.60" y1="173.82" x2="509.60" y2="183.20" stroke="#000" stroke-width="1.0"/>
<line x1="512.00" y1="173.82" x2="512.00" y2="183.00" stroke="#000" stroke-width="1.0"/>
<line x1="514.50" y1="173.81" x2="514.50" y2="183.00" stroke="#000" stroke-width="1.0"/>
<line x1="489.60" y1="201.70" x2="510.00" y2="201.70" stroke="#333" stroke-width="0.8"/>
<line x1="510.00" y1="190.90" x2="510.00" y2="201.70" stroke="#333" stroke-width="0.8"/>
<text x="499.80" y="205.50" font-size="3.5" fill="#333" text-anchor="middle" transform="translate(0 -16.440) scale(1 1.08)">2000 s</text>
<text x="513.30" y="197.30" font-size="3.3" fill="#333" text-anchor="middle" transform="rotate(-90 513.30 197.30) translate(0 -15.784) scale(1 1.08)">0.05 μcal s<tspan font-size="2.2" dy="-1">-1</tspan></text>
<line x1="33.40" y1="262.79" x2="33.40" y2="353.10" stroke="#2A2A2A" stroke-width="0.9"/>
<line x1="33.40" y1="353.10" x2="168.40" y2="353.10" stroke="#2A2A2A" stroke-width="0.9"/>
<line x1="29.20" y1="271.00" x2="33.40" y2="271.00" stroke="#2A2A2A" stroke-width="0.8"/>
<line x1="31.00" y1="279.21" x2="33.40" y2="279.21" stroke="#2A2A2A" stroke-width="0.8"/>
<line x1="31.00" y1="287.42" x2="33.40" y2="287.42" stroke="#2A2A2A" stroke-width="0.8"/>
<line x1="31.00" y1="295.63" x2="33.40" y2="295.63" stroke="#2A2A2A" stroke-width="0.8"/>
<line x1="31.00" y1="303.84" x2="33.40" y2="303.84" stroke="#2A2A2A" stroke-width="0.8"/>
<line x1="29.20" y1="312.05" x2="33.40" y2="312.05" stroke="#2A2A2A" stroke-width="0.8"/>
<line x1="31.00" y1="320.26" x2="33.40" y2="320.26" stroke="#2A2A2A" stroke-width="0.8"/>
<line x1="31.00" y1="328.47" x2="33.40" y2="328.47" stroke="#2A2A2A" stroke-width="0.8"/>
<line x1="31.00" y1="336.68" x2="33.40" y2="336.68" stroke="#2A2A2A" stroke-width="0.8"/>
<line x1="31.00" y1="344.89" x2="33.40" y2="344.89" stroke="#2A2A2A" stroke-width="0.8"/>
<line x1="29.20" y1="353.10" x2="33.40" y2="353.10" stroke="#2A2A2A" stroke-width="0.8"/>
<line x1="33.40" y1="353.10" x2="33.40" y2="356.70" stroke="#2A2A2A" stroke-width="0.8"/>
<text x="33.40" y="368.00" font-size="9.6" fill="#1a1a1a" text-anchor="middle" transform="translate(0 -44.160) scale(1 1.12)">0</text>
<line x1="60.40" y1="353.10" x2="60.40" y2="355.30" stroke="#2A2A2A" stroke-width="0.8"/>
<line x1="87.40" y1="353.10" x2="87.40" y2="356.70" stroke="#2A2A2A" stroke-width="0.8"/>
<text x="87.40" y="368.00" font-size="9.6" fill="#1a1a1a" text-anchor="middle" transform="translate(0 -44.160) scale(1 1.12)">1</text>
<line x1="114.40" y1="353.10" x2="114.40" y2="355.30" stroke="#2A2A2A" stroke-width="0.8"/>
<line x1="141.40" y1="353.10" x2="141.40" y2="356.70" stroke="#2A2A2A" stroke-width="0.8"/>
<text x="141.40" y="368.00" font-size="9.6" fill="#1a1a1a" text-anchor="middle" transform="translate(0 -44.160) scale(1 1.12)">2</text>
<line x1="168.40" y1="353.10" x2="168.40" y2="355.30" stroke="#2A2A2A" stroke-width="0.8"/>
<text x="27.80" y="274.40" font-size="9.6" fill="#1a1a1a" text-anchor="end" transform="translate(0 -27.440) scale(1 1.1)">0</text>
<text x="27.80" y="315.45" font-size="9.6" fill="#1a1a1a" text-anchor="end" transform="translate(0 -31.545) scale(1 1.1)">-5</text>
<text x="27.80" y="356.50" font-size="9.6" fill="#1a1a1a" text-anchor="end" transform="translate(0 -35.650) scale(1 1.1)">-10</text>
<text x="107.30" y="380.80" font-size="9.2" fill="#111" text-anchor="middle" textLength="116.20" lengthAdjust="spacingAndGlyphs" transform="translate(0 -45.696) scale(1 1.12)">Ratio aspartate:protein (mol)</text>
<text x="8.90" y="308.40" font-size="9.4" fill="#111" text-anchor="middle" transform="rotate(-90 8.90 308.40) translate(0 -24.672) scale(1 1.08)">Q (kcal mol<tspan font-size="5.8" dy="-3.6">-1</tspan><tspan dy="3.6"> asp)</tspan></text>
<path d="M36.50,290.10 L38.01,290.06 L40.13,289.99 L42.62,289.92 L45.26,289.85 L47.80,289.81 L50.00,289.80 L51.87,289.83 L53.59,289.89 L55.22,289.97 L56.80,290.07 L58.37,290.18 L60.00,290.30 L61.67,290.43 L63.33,290.58 L65.00,290.74 L66.67,290.91 L68.33,291.10 L70.00,291.30 L71.71,291.51 L73.48,291.74 L75.25,291.98 L76.96,292.23 L78.56,292.50 L80.00,292.80 L81.24,293.10 L82.33,293.40 L83.31,293.71 L84.22,294.07 L85.10,294.49 L86.00,295.00 L86.90,295.61 L87.78,296.31 L88.62,297.07 L89.44,297.88 L90.24,298.69 L91.00,299.50 L91.72,300.33 L92.40,301.20 L93.05,302.08 L93.69,302.95 L94.33,303.77 L95.00,304.50 L95.70,305.19 L96.44,305.86 L97.18,306.49 L97.90,307.03 L98.58,307.44 L99.20,307.70 L99.75,307.82 L100.25,307.82 L100.71,307.71 L101.14,307.46 L101.57,307.06 L102.00,306.50 L102.43,305.78 L102.86,304.89 L103.27,303.86 L103.68,302.70 L104.09,301.41 L104.50,300.00 L104.92,298.42 L105.33,296.63 L105.75,294.72 L106.17,292.76 L106.58,290.83 L107.00,289.00 L107.41,287.22 L107.81,285.43 L108.22,283.66 L108.63,281.96 L109.05,280.39 L109.50,279.00 L109.95,277.78 L110.41,276.69 L110.88,275.73 L111.37,274.89 L111.91,274.14 L112.50,273.50 L113.10,272.99 L113.69,272.61 L114.32,272.35 L115.04,272.15 L115.92,271.98 L117.00,271.80 L118.45,271.62 L120.27,271.47 L122.23,271.34 L124.13,271.24 L125.76,271.16 L126.90,271.10" fill="none" stroke="#111" stroke-width="1.05"/>
<circle cx="36.50" cy="284.20" r="1.5" fill="#C2125C"/>
<circle cx="40.10" cy="290.10" r="1.5" fill="#C2125C"/>
<circle cx="43.20" cy="289.60" r="1.5" fill="#C2125C"/>
<circle cx="46.30" cy="289.60" r="1.5" fill="#C2125C"/>
<circle cx="49.70" cy="288.80" r="1.5" fill="#C2125C"/>
<circle cx="53.10" cy="289.60" r="1.5" fill="#C2125C"/>
<circle cx="56.70" cy="290.90" r="1.5" fill="#C2125C"/>
<circle cx="60.10" cy="290.40" r="1.5" fill="#C2125C"/>
<circle cx="63.40" cy="292.30" r="1.5" fill="#C2125C"/>
<circle cx="66.90" cy="292.80" r="1.5" fill="#C2125C"/>
<circle cx="70.80" cy="290.50" r="1.5" fill="#C2125C"/>
<circle cx="74.60" cy="292.60" r="1.5" fill="#C2125C"/>
<circle cx="78.20" cy="292.30" r="1.5" fill="#C2125C"/>
<circle cx="82.00" cy="292.60" r="1.5" fill="#C2125C"/>
<circle cx="85.80" cy="296.90" r="1.5" fill="#C2125C"/>
<circle cx="89.50" cy="298.20" r="1.5" fill="#C2125C"/>
<circle cx="93.10" cy="305.40" r="1.5" fill="#C2125C"/>
<circle cx="97.40" cy="306.90" r="1.5" fill="#C2125C"/>
<circle cx="101.20" cy="306.90" r="1.5" fill="#C2125C"/>
<circle cx="104.90" cy="295.40" r="1.5" fill="#C2125C"/>
<circle cx="109.20" cy="279.20" r="1.5" fill="#C2125C"/>
<circle cx="113.40" cy="271.50" r="1.5" fill="#C2125C"/>
<circle cx="117.70" cy="272.30" r="1.5" fill="#C2125C"/>
<circle cx="121.80" cy="273.10" r="1.5" fill="#C2125C"/>
<circle cx="126.20" cy="270.50" r="1.5" fill="#C2125C"/>
<text x="45.00" y="279.50" font-size="9.6" fill="#111" transform="translate(0 -22.360) scale(1 1.08)">22% <tspan font-style="italic">n</tspan><tspan font-size="6.5" dy="2.4">2</tspan></text>
<text x="36.50" y="348.70" font-size="9.2" fill="#C2125C" font-weight="bold" textLength="94.30" lengthAdjust="spacingAndGlyphs" transform="translate(0 -27.896) scale(1 1.08)">500 mM Na-gluconate</text>
<line x1="120.80" y1="304.90" x2="185.70" y2="302.50" stroke="#222" stroke-width="0.8"/>
<line x1="123.40" y1="304.80" x2="123.40" y2="329.10" stroke="#000" stroke-width="1.0"/>
<line x1="126.00" y1="304.71" x2="126.00" y2="337.50" stroke="#000" stroke-width="1.0"/>
<line x1="128.80" y1="304.60" x2="128.80" y2="337.80" stroke="#000" stroke-width="1.0"/>
<line x1="131.40" y1="304.51" x2="131.40" y2="338.30" stroke="#000" stroke-width="1.0"/>
<line x1="133.80" y1="304.42" x2="133.80" y2="338.30" stroke="#000" stroke-width="1.0"/>
<line x1="136.50" y1="304.32" x2="136.50" y2="338.80" stroke="#000" stroke-width="1.0"/>
<line x1="139.10" y1="304.22" x2="139.10" y2="339.10" stroke="#000" stroke-width="1.0"/>
<line x1="141.50" y1="304.13" x2="141.50" y2="339.10" stroke="#000" stroke-width="1.0"/>
<line x1="144.20" y1="304.03" x2="144.20" y2="339.50" stroke="#000" stroke-width="1.0"/>
<line x1="146.80" y1="303.94" x2="146.80" y2="339.80" stroke="#000" stroke-width="1.0"/>
<line x1="149.20" y1="303.85" x2="149.20" y2="339.80" stroke="#000" stroke-width="1.0"/>
<line x1="151.80" y1="303.75" x2="151.80" y2="340.30" stroke="#000" stroke-width="1.0"/>
<line x1="154.50" y1="303.65" x2="154.50" y2="340.60" stroke="#000" stroke-width="1.0"/>
<line x1="156.90" y1="303.57" x2="156.90" y2="341.10" stroke="#000" stroke-width="1.0"/>
<line x1="159.50" y1="303.47" x2="159.50" y2="341.40" stroke="#000" stroke-width="1.0"/>
<line x1="162.20" y1="303.37" x2="162.20" y2="342.20" stroke="#000" stroke-width="1.0"/>
<line x1="164.60" y1="303.28" x2="164.60" y2="339.80" stroke="#000" stroke-width="1.0"/>
<line x1="167.20" y1="303.18" x2="167.20" y2="336.80" stroke="#000" stroke-width="1.0"/>
<line x1="169.80" y1="303.09" x2="169.80" y2="328.30" stroke="#000" stroke-width="1.0"/>
<line x1="172.30" y1="303.00" x2="172.30" y2="321.40" stroke="#000" stroke-width="1.0"/>
<line x1="174.90" y1="302.90" x2="174.90" y2="318.80" stroke="#000" stroke-width="1.0"/>
<line x1="177.50" y1="302.80" x2="177.50" y2="319.10" stroke="#000" stroke-width="1.0"/>
<line x1="180.00" y1="302.71" x2="180.00" y2="318.80" stroke="#000" stroke-width="1.0"/>
<line x1="182.60" y1="302.61" x2="182.60" y2="318.30" stroke="#000" stroke-width="1.0"/>
<line x1="173.40" y1="340.90" x2="189.50" y2="340.90" stroke="#333" stroke-width="0.8"/>
<line x1="189.50" y1="332.60" x2="189.50" y2="340.90" stroke="#333" stroke-width="0.8"/>
<text x="181.45" y="344.70" font-size="3.5" fill="#333" text-anchor="middle" transform="translate(0 -27.576) scale(1 1.08)">2000 s</text>
<text x="192.80" y="337.75" font-size="3.3" fill="#333" text-anchor="middle" transform="rotate(-90 192.80 337.75) translate(0 -27.020) scale(1 1.08)">0.05 μcal s<tspan font-size="2.2" dy="-1">-1</tspan></text>
<line x1="235.10" y1="262.29" x2="235.10" y2="352.60" stroke="#2A2A2A" stroke-width="0.9"/>
<line x1="235.10" y1="352.60" x2="370.10" y2="352.60" stroke="#2A2A2A" stroke-width="0.9"/>
<line x1="230.90" y1="270.50" x2="235.10" y2="270.50" stroke="#2A2A2A" stroke-width="0.8"/>
<line x1="232.70" y1="278.71" x2="235.10" y2="278.71" stroke="#2A2A2A" stroke-width="0.8"/>
<line x1="232.70" y1="286.92" x2="235.10" y2="286.92" stroke="#2A2A2A" stroke-width="0.8"/>
<line x1="232.70" y1="295.13" x2="235.10" y2="295.13" stroke="#2A2A2A" stroke-width="0.8"/>
<line x1="232.70" y1="303.34" x2="235.10" y2="303.34" stroke="#2A2A2A" stroke-width="0.8"/>
<line x1="230.90" y1="311.55" x2="235.10" y2="311.55" stroke="#2A2A2A" stroke-width="0.8"/>
<line x1="232.70" y1="319.76" x2="235.10" y2="319.76" stroke="#2A2A2A" stroke-width="0.8"/>
<line x1="232.70" y1="327.97" x2="235.10" y2="327.97" stroke="#2A2A2A" stroke-width="0.8"/>
<line x1="232.70" y1="336.18" x2="235.10" y2="336.18" stroke="#2A2A2A" stroke-width="0.8"/>
<line x1="232.70" y1="344.39" x2="235.10" y2="344.39" stroke="#2A2A2A" stroke-width="0.8"/>
<line x1="230.90" y1="352.60" x2="235.10" y2="352.60" stroke="#2A2A2A" stroke-width="0.8"/>
<line x1="235.10" y1="352.60" x2="235.10" y2="356.20" stroke="#2A2A2A" stroke-width="0.8"/>
<text x="235.10" y="367.50" font-size="9.6" fill="#1a1a1a" text-anchor="middle" transform="translate(0 -44.100) scale(1 1.12)">0</text>
<line x1="262.10" y1="352.60" x2="262.10" y2="354.80" stroke="#2A2A2A" stroke-width="0.8"/>
<line x1="289.10" y1="352.60" x2="289.10" y2="356.20" stroke="#2A2A2A" stroke-width="0.8"/>
<text x="289.10" y="367.50" font-size="9.6" fill="#1a1a1a" text-anchor="middle" transform="translate(0 -44.100) scale(1 1.12)">1</text>
<line x1="316.10" y1="352.60" x2="316.10" y2="354.80" stroke="#2A2A2A" stroke-width="0.8"/>
<line x1="343.10" y1="352.60" x2="343.10" y2="356.20" stroke="#2A2A2A" stroke-width="0.8"/>
<text x="343.10" y="367.50" font-size="9.6" fill="#1a1a1a" text-anchor="middle" transform="translate(0 -44.100) scale(1 1.12)">2</text>
<line x1="370.10" y1="352.60" x2="370.10" y2="354.80" stroke="#2A2A2A" stroke-width="0.8"/>
<text x="302.80" y="380.00" font-size="9.2" fill="#111" text-anchor="middle" textLength="116.20" lengthAdjust="spacingAndGlyphs" transform="translate(0 -45.600) scale(1 1.12)">Ratio aspartate:protein (mol)</text>
<path d="M238.60,288.40 L239.88,288.52 L241.68,288.67 L243.80,288.86 L246.03,289.06 L248.16,289.28 L250.00,289.50 L251.55,289.71 L252.99,289.91 L254.34,290.13 L255.61,290.37 L256.82,290.66 L258.00,291.00 L259.13,291.37 L260.19,291.74 L261.19,292.16 L262.15,292.65 L263.08,293.25 L264.00,294.00 L264.89,294.90 L265.74,295.93 L266.56,297.06 L267.37,298.30 L268.18,299.61 L269.00,301.00 L269.83,302.52 L270.67,304.20 L271.50,305.97 L272.33,307.74 L273.17,309.44 L274.00,311.00 L274.84,312.46 L275.68,313.88 L276.52,315.24 L277.36,316.49 L278.18,317.59 L279.00,318.50 L279.81,319.23 L280.62,319.81 L281.42,320.24 L282.21,320.53 L282.97,320.68 L283.70,320.70 L284.41,320.62 L285.10,320.43 L285.77,320.11 L286.40,319.62 L286.98,318.93 L287.50,318.00 L287.94,316.86 L288.30,315.54 L288.61,314.02 L288.90,312.27 L289.19,310.27 L289.50,308.00 L289.83,305.27 L290.17,302.07 L290.50,298.62 L290.83,295.15 L291.17,291.87 L291.50,289.00 L291.83,286.51 L292.15,284.20 L292.47,282.09 L292.80,280.19 L293.14,278.48 L293.50,277.00 L293.87,275.78 L294.24,274.82 L294.62,274.07 L295.04,273.48 L295.49,272.97 L296.00,272.50 L296.39,272.10 L296.63,271.81 L296.91,271.62 L297.43,271.50 L298.39,271.40 L300.00,271.30 L302.37,271.22 L305.35,271.19 L308.78,271.19 L312.48,271.20 L316.28,271.21 L320.00,271.20 L323.99,271.17 L328.44,271.13 L333.00,271.09 L337.28,271.06 L340.90,271.02 L343.50,271.00" fill="none" stroke="#111" stroke-width="1.05"/>
<path d="M238.60,279.88 L240.36,283.08 L236.84,283.08 Z" fill="#4A8FE3" stroke="none" stroke-width="0"/>
<path d="M242.50,284.58 L244.26,287.78 L240.74,287.78 Z" fill="#4A8FE3" stroke="none" stroke-width="0"/>
<path d="M246.40,288.08 L248.16,291.28 L244.64,291.28 Z" fill="#4A8FE3" stroke="none" stroke-width="0"/>
<path d="M250.30,288.78 L252.06,291.98 L248.54,291.98 Z" fill="#4A8FE3" stroke="none" stroke-width="0"/>
<path d="M254.20,289.28 L255.96,292.48 L252.44,292.48 Z" fill="#4A8FE3" stroke="none" stroke-width="0"/>
<path d="M258.00,289.68 L259.76,292.88 L256.24,292.88 Z" fill="#4A8FE3" stroke="none" stroke-width="0"/>
<path d="M262.00,291.58 L263.76,294.78 L260.24,294.78 Z" fill="#4A8FE3" stroke="none" stroke-width="0"/>
<path d="M266.30,294.38 L268.06,297.58 L264.54,297.58 Z" fill="#4A8FE3" stroke="none" stroke-width="0"/>
<path d="M270.00,302.48 L271.76,305.68 L268.24,305.68 Z" fill="#4A8FE3" stroke="none" stroke-width="0"/>
<path d="M274.00,311.78 L275.76,314.98 L272.24,314.98 Z" fill="#4A8FE3" stroke="none" stroke-width="0"/>
<path d="M278.70,314.88 L280.46,318.08 L276.94,318.08 Z" fill="#4A8FE3" stroke="none" stroke-width="0"/>
<path d="M282.90,318.78 L284.66,321.98 L281.14,321.98 Z" fill="#4A8FE3" stroke="none" stroke-width="0"/>
<path d="M287.10,316.38 L288.86,319.58 L285.34,319.58 Z" fill="#4A8FE3" stroke="none" stroke-width="0"/>
<path d="M291.50,285.08 L293.26,288.28 L289.74,288.28 Z" fill="#4A8FE3" stroke="none" stroke-width="0"/>
<path d="M296.30,270.78 L298.06,273.98 L294.54,273.98 Z" fill="#4A8FE3" stroke="none" stroke-width="0"/>
<path d="M300.80,270.08 L302.56,273.28 L299.04,273.28 Z" fill="#4A8FE3" stroke="none" stroke-width="0"/>
<path d="M305.00,270.08 L306.76,273.28 L303.24,273.28 Z" fill="#4A8FE3" stroke="none" stroke-width="0"/>
<path d="M309.80,270.48 L311.56,273.68 L308.04,273.68 Z" fill="#4A8FE3" stroke="none" stroke-width="0"/>
<path d="M314.60,270.78 L316.36,273.98 L312.84,273.98 Z" fill="#4A8FE3" stroke="none" stroke-width="0"/>
<path d="M319.40,269.38 L321.16,272.58 L317.64,272.58 Z" fill="#4A8FE3" stroke="none" stroke-width="0"/>
<path d="M324.20,269.38 L325.96,272.58 L322.44,272.58 Z" fill="#4A8FE3" stroke="none" stroke-width="0"/>
<path d="M329.00,269.38 L330.76,272.58 L327.24,272.58 Z" fill="#4A8FE3" stroke="none" stroke-width="0"/>
<path d="M333.80,268.88 L335.56,272.08 L332.04,272.08 Z" fill="#4A8FE3" stroke="none" stroke-width="0"/>
<path d="M338.60,270.38 L340.36,273.58 L336.84,273.58 Z" fill="#4A8FE3" stroke="none" stroke-width="0"/>
<path d="M343.50,270.78 L345.26,273.98 L341.74,273.98 Z" fill="#4A8FE3" stroke="none" stroke-width="0"/>
<text x="243.40" y="279.50" font-size="9.6" fill="#111" transform="translate(0 -22.360) scale(1 1.08)">37% <tspan font-style="italic">n</tspan><tspan font-size="6.5" dy="2.4">2</tspan></text>
<text x="237.20" y="347.90" font-size="9.45" fill="#4A8FE3" font-weight="bold" transform="translate(0 -27.832) scale(1 1.08)">500 mM NaNO<tspan font-size="6.4" dy="2.6">3</tspan></text>
<line x1="295.90" y1="304.20" x2="373.40" y2="304.00" stroke="#222" stroke-width="0.8"/>
<line x1="298.70" y1="304.19" x2="298.70" y2="317.60" stroke="#000" stroke-width="1.0"/>
<line x1="301.70" y1="304.19" x2="301.70" y2="322.20" stroke="#000" stroke-width="1.0"/>
<line x1="304.70" y1="304.18" x2="304.70" y2="323.80" stroke="#000" stroke-width="1.0"/>
<line x1="307.70" y1="304.17" x2="307.70" y2="324.50" stroke="#000" stroke-width="1.0"/>
<line x1="310.70" y1="304.16" x2="310.70" y2="325.00" stroke="#000" stroke-width="1.0"/>
<line x1="313.70" y1="304.15" x2="313.70" y2="325.80" stroke="#000" stroke-width="1.0"/>
<line x1="316.70" y1="304.15" x2="316.70" y2="326.10" stroke="#000" stroke-width="1.0"/>
<line x1="319.70" y1="304.14" x2="319.70" y2="328.20" stroke="#000" stroke-width="1.0"/>
<line x1="322.70" y1="304.13" x2="322.70" y2="332.30" stroke="#000" stroke-width="1.0"/>
<line x1="325.70" y1="304.12" x2="325.70" y2="335.30" stroke="#000" stroke-width="1.0"/>
<line x1="328.70" y1="304.12" x2="328.70" y2="334.80" stroke="#000" stroke-width="1.0"/>
<line x1="331.70" y1="304.11" x2="331.70" y2="329.90" stroke="#000" stroke-width="1.0"/>
<line x1="334.70" y1="304.10" x2="334.70" y2="323.80" stroke="#000" stroke-width="1.0"/>
<line x1="337.70" y1="304.09" x2="337.70" y2="314.30" stroke="#000" stroke-width="1.0"/>
<line x1="340.70" y1="304.08" x2="340.70" y2="310.70" stroke="#000" stroke-width="1.0"/>
<line x1="343.70" y1="304.08" x2="343.70" y2="310.30" stroke="#000" stroke-width="1.0"/>
<line x1="346.70" y1="304.07" x2="346.70" y2="310.30" stroke="#000" stroke-width="1.0"/>
<line x1="349.70" y1="304.06" x2="349.70" y2="310.30" stroke="#000" stroke-width="1.0"/>
<line x1="352.70" y1="304.05" x2="352.70" y2="310.70" stroke="#000" stroke-width="1.0"/>
<line x1="355.70" y1="304.05" x2="355.70" y2="310.30" stroke="#000" stroke-width="1.0"/>
<line x1="358.70" y1="304.04" x2="358.70" y2="310.30" stroke="#000" stroke-width="1.0"/>
<line x1="361.70" y1="304.03" x2="361.70" y2="310.70" stroke="#000" stroke-width="1.0"/>
<line x1="364.70" y1="304.02" x2="364.70" y2="310.70" stroke="#000" stroke-width="1.0"/>
<line x1="367.70" y1="304.01" x2="367.70" y2="310.70" stroke="#000" stroke-width="1.0"/>
<line x1="370.70" y1="304.01" x2="370.70" y2="310.30" stroke="#000" stroke-width="1.0"/>
<line x1="347.40" y1="328.20" x2="363.60" y2="328.20" stroke="#333" stroke-width="0.8"/>
<line x1="363.60" y1="317.60" x2="363.60" y2="328.20" stroke="#333" stroke-width="0.8"/>
<text x="355.50" y="332.00" font-size="3.5" fill="#333" text-anchor="middle" transform="translate(0 -26.560) scale(1 1.08)">2000 s</text>
<text x="367.40" y="323.90" font-size="3.3" fill="#333" text-anchor="middle" transform="rotate(-90 367.40 323.90) translate(0 -25.912) scale(1 1.08)">0.05 μcal s<tspan font-size="2.2" dy="-1">-1</tspan></text>
<line x1="432.20" y1="262.10" x2="432.20" y2="351.80" stroke="#2A2A2A" stroke-width="0.9"/>
<line x1="432.20" y1="351.80" x2="501.10" y2="351.80" stroke="#2A2A2A" stroke-width="0.9"/>
<line x1="427.00" y1="351.80" x2="432.20" y2="351.80" stroke="#2A2A2A" stroke-width="0.8"/>
<text x="425.60" y="355.20" font-size="9.7" fill="#111" text-anchor="end" transform="translate(0 -28.416) scale(1 1.08)">0.0</text>
<line x1="429.20" y1="348.22" x2="432.20" y2="348.22" stroke="#2A2A2A" stroke-width="0.7"/>
<line x1="429.20" y1="344.65" x2="432.20" y2="344.65" stroke="#2A2A2A" stroke-width="0.7"/>
<line x1="429.20" y1="341.07" x2="432.20" y2="341.07" stroke="#2A2A2A" stroke-width="0.7"/>
<line x1="429.20" y1="337.50" x2="432.20" y2="337.50" stroke="#2A2A2A" stroke-width="0.7"/>
<line x1="427.00" y1="333.92" x2="432.20" y2="333.92" stroke="#2A2A2A" stroke-width="0.8"/>
<text x="425.60" y="337.32" font-size="9.7" fill="#111" text-anchor="end" transform="translate(0 -26.986) scale(1 1.08)">0.1</text>
<line x1="429.20" y1="330.34" x2="432.20" y2="330.34" stroke="#2A2A2A" stroke-width="0.7"/>
<line x1="429.20" y1="326.77" x2="432.20" y2="326.77" stroke="#2A2A2A" stroke-width="0.7"/>
<line x1="429.20" y1="323.19" x2="432.20" y2="323.19" stroke="#2A2A2A" stroke-width="0.7"/>
<line x1="429.20" y1="319.62" x2="432.20" y2="319.62" stroke="#2A2A2A" stroke-width="0.7"/>
<line x1="427.00" y1="316.04" x2="432.20" y2="316.04" stroke="#2A2A2A" stroke-width="0.8"/>
<text x="425.60" y="319.44" font-size="9.7" fill="#111" text-anchor="end" transform="translate(0 -25.555) scale(1 1.08)">0.2</text>
<line x1="429.20" y1="312.46" x2="432.20" y2="312.46" stroke="#2A2A2A" stroke-width="0.7"/>
<line x1="429.20" y1="308.89" x2="432.20" y2="308.89" stroke="#2A2A2A" stroke-width="0.7"/>
<line x1="429.20" y1="305.31" x2="432.20" y2="305.31" stroke="#2A2A2A" stroke-width="0.7"/>
<line x1="429.20" y1="301.74" x2="432.20" y2="301.74" stroke="#2A2A2A" stroke-width="0.7"/>
<line x1="427.00" y1="298.16" x2="432.20" y2="298.16" stroke="#2A2A2A" stroke-width="0.8"/>
<text x="425.60" y="301.56" font-size="9.7" fill="#111" text-anchor="end" transform="translate(0 -24.125) scale(1 1.08)">0.3</text>
<line x1="429.20" y1="294.58" x2="432.20" y2="294.58" stroke="#2A2A2A" stroke-width="0.7"/>
<line x1="429.20" y1="291.01" x2="432.20" y2="291.01" stroke="#2A2A2A" stroke-width="0.7"/>
<line x1="429.20" y1="287.43" x2="432.20" y2="287.43" stroke="#2A2A2A" stroke-width="0.7"/>
<line x1="429.20" y1="283.86" x2="432.20" y2="283.86" stroke="#2A2A2A" stroke-width="0.7"/>
<line x1="427.00" y1="280.28" x2="432.20" y2="280.28" stroke="#2A2A2A" stroke-width="0.8"/>
<text x="425.60" y="283.68" font-size="9.7" fill="#111" text-anchor="end" transform="translate(0 -22.694) scale(1 1.08)">0.4</text>
<line x1="429.20" y1="276.70" x2="432.20" y2="276.70" stroke="#2A2A2A" stroke-width="0.7"/>
<line x1="429.20" y1="273.13" x2="432.20" y2="273.13" stroke="#2A2A2A" stroke-width="0.7"/>
<line x1="429.20" y1="269.55" x2="432.20" y2="269.55" stroke="#2A2A2A" stroke-width="0.7"/>
<line x1="429.20" y1="265.98" x2="432.20" y2="265.98" stroke="#2A2A2A" stroke-width="0.7"/>
<line x1="427.00" y1="262.40" x2="432.20" y2="262.40" stroke="#2A2A2A" stroke-width="0.8"/>
<text x="425.60" y="265.80" font-size="9.7" fill="#111" text-anchor="end" transform="translate(0 -21.264) scale(1 1.08)">0.5</text>
<line x1="451.80" y1="351.80" x2="451.80" y2="356.00" stroke="#2A2A2A" stroke-width="0.8"/>
<line x1="481.60" y1="351.80" x2="481.60" y2="356.00" stroke="#2A2A2A" stroke-width="0.8"/>
<text x="402.40" y="307.50" font-size="9.2" fill="#111" text-anchor="middle" transform="rotate(-90 402.40 307.50) translate(0 -24.600) scale(1 1.08)">Fraction <tspan font-style="italic">n</tspan><tspan font-size="6" dy="2.2">2</tspan></text>
<rect x="443.00" y="303.17" width="18.20" height="48.63" fill="#fff" stroke="#000" stroke-width="1.6"/>
<rect x="473.10" y="284.50" width="17.90" height="67.30" fill="#fff" stroke="#000" stroke-width="1.6"/>
<line x1="451.60" y1="297.50" x2="451.60" y2="307.50" stroke="#235947" stroke-width="1.1"/>
<line x1="446.00" y1="297.20" x2="456.80" y2="297.20" stroke="#235947" stroke-width="1.2"/>
<rect x="449.10" y="293.50" width="5.20" height="5.20" fill="#235947" stroke="none" stroke-width="0"/>
<rect x="442.20" y="303.80" width="19.30" height="4.60" fill="#235947" stroke="none" stroke-width="0"/>
<line x1="442.20" y1="303.40" x2="461.50" y2="303.40" stroke="#000" stroke-width="0.9"/>
<rect x="447.20" y="304.40" width="3.80" height="3.40" fill="#fff" stroke="none" stroke-width="0"/>
<rect x="452.60" y="304.40" width="3.40" height="3.40" fill="#fff" stroke="none" stroke-width="0"/>
<line x1="476.10" y1="280.70" x2="486.60" y2="280.70" stroke="#4A8FE3" stroke-width="1.4"/>
<line x1="475.50" y1="287.20" x2="486.80" y2="287.20" stroke="#4A8FE3" stroke-width="1.4"/>
<line x1="481.70" y1="280.70" x2="481.70" y2="287.20" stroke="#4A8FE3" stroke-width="1.2"/>
<path d="M488.8,279.0 L491.3,284.3 L486.3,284.3 Z" fill="#4A8FE3" stroke="none" stroke-width="0"/>
<path d="M474.5,283.6 L477.0,288.6 L472.0,288.6 Z" fill="#4A8FE3" stroke="none" stroke-width="0"/>
<text x="441.40" y="368.80" font-size="9.5" fill="#111" textLength="21.00" lengthAdjust="spacingAndGlyphs" transform="translate(0 -29.504) scale(1 1.08)">NaCl</text>
<text x="466.40" y="368.80" font-size="9.5" fill="#111" transform="translate(0 -29.504) scale(1 1.08)">NaNO<tspan font-size="6.5" dy="2.6">3</tspan></text>
<text x="76.90" y="410.40" font-size="9.8" fill="#111" textLength="70.60" lengthAdjust="spacing">ΔG<tspan font-size="6.8" dy="3.2" fill="#666">10</tspan><tspan dy="-3.2"> = -0.8 ± 0.1</tspan></text>
<text x="76.90" y="421.90" font-size="9.8" fill="#111" textLength="70.60" lengthAdjust="spacing">ΔG<tspan font-size="6.8" dy="3.2" fill="#666">15</tspan><tspan dy="-3.2"> = -0.6 ± 0.1</tspan></text>
<text x="5.80" y="449.20" font-size="9.8" fill="#111" textLength="76.90" lengthAdjust="spacing">ΔG<tspan font-size="6.8" dy="3.2" fill="#666">10</tspan><tspan dy="-3.2"> = -11.9 ± 0.9</tspan></text>
<text x="5.80" y="460.80" font-size="9.8" fill="#111" textLength="76.90" lengthAdjust="spacing">ΔG<tspan font-size="6.8" dy="3.2" fill="#666">15</tspan><tspan dy="-3.2"> = -11.5 ± 0.2</tspan></text>
<text x="143.50" y="449.20" font-size="9.8" fill="#111" textLength="71.50" lengthAdjust="spacing">ΔG<tspan font-size="6.8" dy="3.2" fill="#666">10</tspan><tspan dy="-3.2"> = -9.6 ± 0.8</tspan></text>
<text x="143.50" y="460.60" font-size="9.8" fill="#111" textLength="71.50" lengthAdjust="spacing">ΔG<tspan font-size="6.8" dy="3.2" fill="#666">15</tspan><tspan dy="-3.2"> = -9.8 ± 0.3</tspan></text>
<text x="76.90" y="500.00" font-size="9.8" fill="#333" font-style="italic" textLength="72.00" lengthAdjust="spacing">ΔG<tspan font-size="6.8" dy="3.2" fill="#666">10</tspan><tspan dy="-3.2"> = -3.0 ± 1.8</tspan></text>
<text x="76.90" y="511.00" font-size="9.8" fill="#333" font-style="italic" textLength="72.00" lengthAdjust="spacing">ΔG<tspan font-size="6.8" dy="3.2" fill="#666">15</tspan><tspan dy="-3.2"> = -2.2 ± 0.6</tspan></text>
<text x="73.50" y="434.30" font-size="9.2" fill="#000" font-weight="bold" textLength="24.00" lengthAdjust="spacingAndGlyphs" transform="translate(0 -65.145) scale(1 1.15)">OFS1</text>
<text x="127.30" y="434.30" font-size="9.2" fill="#000" font-weight="bold" textLength="26.00" lengthAdjust="spacingAndGlyphs" transform="translate(0 -65.145) scale(1 1.15)">OFS2</text>
<text x="74.00" y="475.50" font-size="9.2" fill="#000" font-weight="bold" textLength="24.00" lengthAdjust="spacingAndGlyphs" transform="translate(0 -71.325) scale(1 1.15)">OFS1</text>
<text x="127.10" y="475.70" font-size="9.2" fill="#000" font-weight="bold" textLength="25.60" lengthAdjust="spacingAndGlyphs" transform="translate(0 -71.355) scale(1 1.15)">OFS2</text>
<text x="77.00" y="488.30" font-size="9.2" fill="#000" font-weight="bold" textLength="17.60" lengthAdjust="spacingAndGlyphs" transform="translate(0 -73.245) scale(1 1.15)">Asp</text>
<text x="131.00" y="488.30" font-size="9.2" fill="#000" font-weight="bold" textLength="16.90" lengthAdjust="spacingAndGlyphs" transform="translate(0 -73.245) scale(1 1.15)">Asp</text>
<line x1="102.00" y1="430.90" x2="125.80" y2="430.90" stroke="#000" stroke-width="1.0"/>
<path d="M97.9,430.9 L103.4,428.2 L103.4,433.6 Z" fill="#000" stroke="none" stroke-width="0"/>
<rect x="85.75" y="437.30" width="2.70" height="19.80" fill="#000" stroke="none" stroke-width="0"/>
<path d="M83.40,456.2 L90.80,456.2 L87.10,465.2 Z" fill="#000" stroke="none" stroke-width="0"/>
<rect x="137.35" y="437.30" width="2.70" height="19.80" fill="#000" stroke="none" stroke-width="0"/>
<path d="M135.00,456.2 L142.40,456.2 L138.70,465.2 Z" fill="#000" stroke="none" stroke-width="0"/>
<path d="M98.8,478.1 L103.8,475.5 L103.8,480.7 Z" fill="#000" stroke="none" stroke-width="0"/>
<line x1="105.20" y1="478.10" x2="109.80" y2="478.10" stroke="#000" stroke-width="1.2"/>
<line x1="112.00" y1="478.10" x2="116.50" y2="478.10" stroke="#000" stroke-width="1.2"/>
<line x1="118.80" y1="478.10" x2="123.60" y2="478.10" stroke="#000" stroke-width="1.2"/>
<text x="98.10" y="446.50" font-size="9.2" fill="#222" font-weight="bold" transform="translate(0 -35.720) scale(1 1.08)">P-Glt<tspan font-size="6.2" dy="2.8" font-weight="normal" fill="#666">Ph</tspan></text>
<text x="113.00" y="458.20" font-size="7.8" fill="#444" text-anchor="middle" textLength="27.20" lengthAdjust="spacingAndGlyphs" transform="translate(0 -9.164) scale(1 1.02)">500 mM</text>
<text x="113.00" y="467.40" font-size="7.8" fill="#444" text-anchor="middle" textLength="17.70" lengthAdjust="spacingAndGlyphs" transform="translate(0 -9.348) scale(1 1.02)">NaCl</text>
</svg></body></html>
